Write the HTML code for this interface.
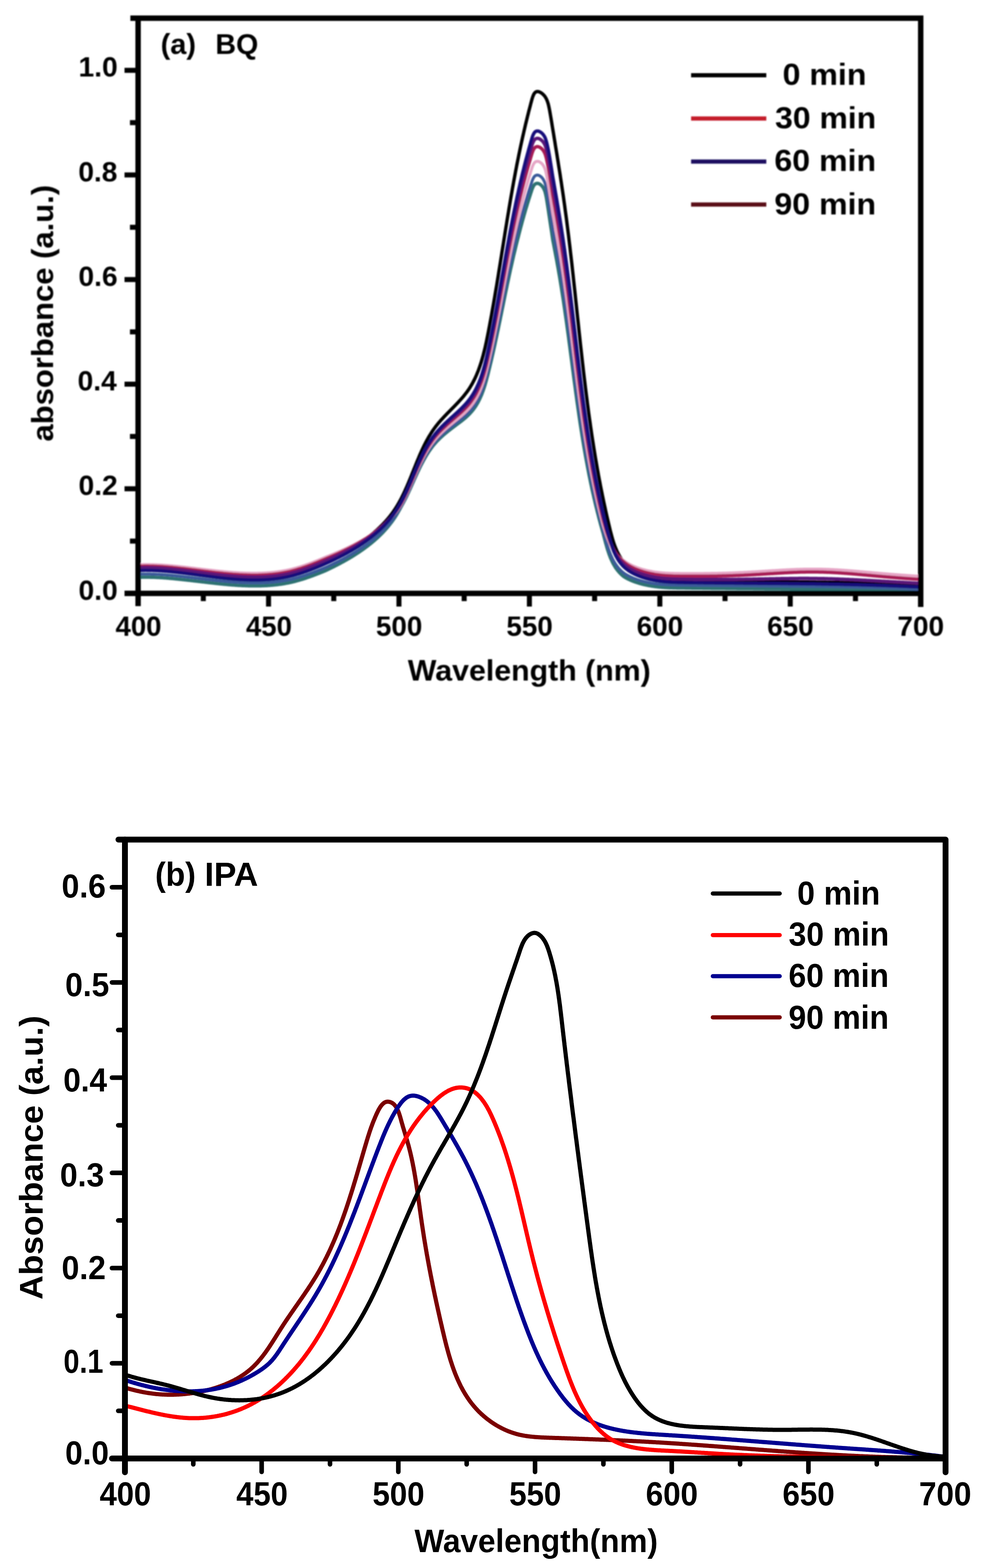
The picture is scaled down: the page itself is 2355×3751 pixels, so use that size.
<!DOCTYPE html>
<html><head><meta charset="utf-8"><title>Absorbance spectra</title>
<style>
html,body{margin:0;padding:0;background:#fff;}
svg{display:block;}
text{font-family:"Liberation Sans",Arial,sans-serif;}
</style></head><body>
<svg width="2355" height="3751" viewBox="0 0 2355 3751">
<defs><filter id="softA" x="-2%" y="-2%" width="104%" height="104%"><feGaussianBlur stdDeviation="1.6"/></filter></defs>
<rect width="2355" height="3751" fill="#fff"/>
<g filter="url(#softA)">
<g fill="none" stroke-linejoin="round" stroke-linecap="butt">
<polyline points="330.5,1363.3 332.1,1363.3 333.6,1363.2 335.2,1363.1 336.7,1363.1 338.3,1363.1 339.9,1363.0 341.4,1363.0 343.0,1363.0 344.5,1362.9 346.1,1362.9 347.7,1362.9 349.2,1362.9 350.8,1362.9 352.4,1362.9 353.9,1362.9 355.5,1362.9 357.0,1363.0 358.6,1363.0 360.2,1363.0 361.7,1363.0 363.3,1363.1 364.8,1363.1 366.4,1363.2 368.0,1363.2 369.5,1363.3 371.1,1363.3 372.6,1363.4 374.2,1363.5 375.8,1363.6 377.3,1363.6 378.9,1363.7 380.4,1363.8 382.0,1363.9 383.6,1364.0 385.1,1364.1 386.7,1364.2 388.3,1364.3 389.8,1364.4 391.4,1364.5 392.9,1364.6 394.5,1364.8 396.1,1364.9 397.6,1365.0 399.2,1365.1 400.7,1365.3 402.3,1365.4 403.9,1365.6 405.4,1365.7 407.0,1365.8 408.5,1366.0 410.1,1366.2 411.7,1366.3 413.2,1366.5 414.8,1366.6 416.3,1366.8 417.9,1367.0 419.5,1367.1 421.0,1367.3 422.6,1367.5 424.1,1367.7 425.7,1367.8 427.3,1368.0 428.8,1368.2 430.4,1368.4 432.0,1368.6 433.5,1368.8 435.1,1369.0 436.6,1369.1 438.2,1369.3 439.8,1369.5 441.3,1369.7 442.9,1369.9 444.4,1370.1 446.0,1370.3 447.6,1370.5 449.1,1370.8 450.7,1371.0 452.2,1371.2 453.8,1371.4 455.4,1371.6 456.9,1371.8 458.5,1372.0 460.0,1372.2 461.6,1372.4 463.2,1372.7 464.7,1372.9 466.3,1373.1 467.9,1373.3 469.4,1373.5 471.0,1373.7 472.5,1374.0 474.1,1374.2 475.7,1374.4 477.2,1374.6 478.8,1374.8 480.3,1375.0 481.9,1375.3 483.5,1375.5 485.0,1375.7 486.6,1375.9 488.1,1376.1 489.7,1376.4 491.3,1376.6 492.8,1376.8 494.4,1377.0 495.9,1377.2 497.5,1377.4 499.1,1377.6 500.6,1377.9 502.2,1378.1 503.8,1378.3 505.3,1378.5 506.9,1378.7 508.4,1378.9 510.0,1379.1 511.6,1379.3 513.1,1379.5 514.7,1379.7 516.2,1379.9 517.8,1380.1 519.4,1380.3 520.9,1380.5 522.5,1380.7 524.0,1380.9 525.6,1381.1 527.2,1381.3 528.7,1381.4 530.3,1381.6 531.8,1381.8 533.4,1382.0 535.0,1382.2 536.5,1382.3 538.1,1382.5 539.7,1382.7 541.2,1382.8 542.8,1383.0 544.3,1383.2 545.9,1383.3 547.5,1383.5 549.0,1383.6 550.6,1383.8 552.1,1383.9 553.7,1384.1 555.3,1384.2 556.8,1384.4 558.4,1384.5 559.9,1384.6 561.5,1384.8 563.1,1384.9 564.6,1385.0 566.2,1385.1 567.7,1385.2 569.3,1385.3 570.9,1385.4 572.4,1385.6 574.0,1385.6 575.6,1385.7 577.1,1385.8 578.7,1385.9 580.2,1386.0 581.8,1386.1 583.4,1386.2 584.9,1386.2 586.5,1386.3 588.0,1386.4 589.6,1386.4 591.2,1386.5 592.7,1386.5 594.3,1386.6 595.8,1386.6 597.4,1386.6 599.0,1386.7 600.5,1386.7 602.1,1386.7 603.6,1386.7 605.2,1386.8 606.8,1386.8 608.3,1386.8 609.9,1386.8 611.5,1386.7 613.0,1386.7 614.6,1386.7 616.1,1386.7 617.7,1386.7 619.3,1386.6 620.8,1386.6 622.4,1386.5 623.9,1386.5 625.5,1386.4 627.1,1386.3 628.6,1386.3 630.2,1386.2 631.7,1386.1 633.3,1386.0 634.9,1385.9 636.4,1385.8 638.0,1385.7 639.5,1385.6 641.1,1385.5 642.7,1385.3 644.2,1385.2 645.8,1385.0 647.3,1384.9 648.9,1384.7 650.5,1384.6 652.0,1384.4 653.6,1384.2 655.2,1384.0 656.7,1383.8 658.3,1383.6 659.8,1383.4 661.4,1383.2 663.0,1382.9 664.5,1382.7 666.1,1382.5 667.6,1382.2 669.2,1381.9 670.8,1381.7 672.3,1381.4 673.9,1381.1 675.4,1380.8 677.0,1380.5 678.6,1380.2 680.1,1379.8 681.7,1379.5 683.2,1379.2 684.8,1378.8 686.4,1378.5 687.9,1378.1 689.5,1377.7 691.1,1377.3 692.6,1376.9 694.2,1376.5 695.7,1376.1 697.3,1375.7 698.9,1375.3 700.4,1374.9 702.0,1374.4 703.5,1374.0 705.1,1373.5 706.7,1373.1 708.2,1372.6 709.8,1372.1 711.3,1371.6 712.9,1371.1 714.5,1370.6 716.0,1370.1 717.6,1369.6 719.1,1369.1 720.7,1368.6 722.3,1368.0 723.8,1367.5 725.4,1366.9 727.0,1366.4 728.5,1365.8 730.1,1365.2 731.6,1364.7 733.2,1364.1 734.8,1363.5 736.3,1362.9 737.9,1362.3 739.4,1361.7 741.0,1361.1 742.6,1360.5 744.1,1359.8 745.7,1359.2 747.2,1358.6 748.8,1357.9 750.4,1357.3 751.9,1356.6 753.5,1356.0 755.0,1355.3 756.6,1354.7 758.2,1354.0 759.7,1353.3 761.3,1352.6 762.9,1351.9 764.4,1351.3 766.0,1350.6 767.5,1349.9 769.1,1349.2 770.7,1348.5 772.2,1347.7 773.8,1347.0 775.3,1346.3 776.9,1345.6 778.5,1344.9 780.0,1344.1 781.6,1343.4 783.1,1342.7 784.7,1341.9 786.3,1341.2 787.8,1340.5 789.4,1339.7 790.9,1339.0 792.5,1338.2 794.1,1337.4 795.6,1336.7 797.2,1335.9 798.8,1335.1 800.3,1334.3 801.9,1333.6 803.4,1332.8 805.0,1332.0 806.6,1331.2 808.1,1330.4 809.7,1329.6 811.2,1328.8 812.8,1327.9 814.4,1327.1 815.9,1326.3 817.5,1325.5 819.0,1324.6 820.6,1323.8 822.2,1322.9 823.7,1322.1 825.3,1321.2 826.8,1320.3 828.4,1319.5 830.0,1318.6 831.5,1317.7 833.1,1316.8 834.6,1315.9 836.2,1315.0 837.8,1314.1 839.3,1313.1 840.9,1312.2 842.5,1311.3 844.0,1310.3 845.6,1309.4 847.1,1308.4 848.7,1307.4 850.3,1306.5 851.8,1305.5 853.4,1304.5 854.9,1303.5 856.5,1302.4 858.1,1301.4 859.6,1300.4 861.2,1299.4 862.7,1298.3 864.3,1297.2 865.9,1296.2 867.4,1295.1 869.0,1294.0 870.5,1292.9 872.1,1291.8 873.7,1290.6 875.2,1289.5 876.8,1288.4 878.4,1287.2 879.9,1286.0 881.5,1284.8 883.0,1283.6 884.6,1282.4 886.2,1281.2 887.7,1279.9 889.3,1278.7 890.8,1277.4 892.4,1276.1 894.0,1274.8 895.5,1273.5 897.1,1272.1 898.6,1270.8 900.2,1269.4 901.8,1268.0 903.3,1266.6 904.9,1265.2 906.4,1263.7 908.0,1262.2 909.6,1260.7 911.1,1259.2 912.7,1257.7 914.3,1256.1 915.8,1254.5 917.4,1252.9 918.9,1251.3 920.5,1249.6 922.1,1247.9 923.6,1246.2 925.2,1244.4 926.7,1242.6 928.3,1240.8 929.9,1238.9 931.4,1237.0 933.0,1235.1 934.5,1233.1 936.1,1231.0 937.7,1229.0 939.2,1226.8 940.8,1224.7 942.3,1222.4 943.9,1220.2 945.5,1217.8 947.0,1215.4 948.6,1212.9 950.2,1210.4 951.7,1207.8 953.3,1205.1 954.8,1202.4 956.4,1199.6 958.0,1196.7 959.5,1193.8 961.1,1190.8 962.6,1187.7 964.2,1184.5 965.8,1181.3 967.3,1178.0 968.9,1174.7 970.4,1171.2 972.0,1167.7 973.6,1164.2 975.1,1160.6 976.7,1156.9 978.2,1153.2 979.8,1149.4 981.4,1145.6 982.9,1141.8 984.5,1137.9 986.0,1134.0 987.6,1130.1 989.2,1126.2 990.7,1122.3 992.3,1118.4 993.9,1114.5 995.4,1110.7 997.0,1106.8 998.5,1103.0 1000.1,1099.2 1001.7,1095.5 1003.2,1091.9 1004.8,1088.2 1006.3,1084.7 1007.9,1081.2 1009.5,1077.7 1011.0,1074.4 1012.6,1071.1 1014.1,1067.8 1015.7,1064.7 1017.3,1061.6 1018.8,1058.5 1020.4,1055.6 1021.9,1052.7 1023.5,1049.9 1025.1,1047.1 1026.6,1044.4 1028.2,1041.8 1029.8,1039.3 1031.3,1036.8 1032.9,1034.3 1034.4,1032.0 1036.0,1029.6 1037.6,1027.4 1039.1,1025.2 1040.7,1023.1 1042.2,1021.0 1043.8,1018.9 1045.4,1016.9 1046.9,1015.0 1048.5,1013.1 1050.0,1011.2 1051.6,1009.4 1053.2,1007.6 1054.7,1005.8 1056.3,1004.1 1057.8,1002.4 1059.4,1000.7 1061.0,999.0 1062.5,997.3 1064.1,995.7 1065.7,994.0 1067.2,992.4 1068.8,990.8 1070.3,989.2 1071.9,987.6 1073.5,986.0 1075.0,984.4 1076.6,982.8 1078.1,981.3 1079.7,979.7 1081.3,978.1 1082.8,976.5 1084.4,975.0 1085.9,973.4 1087.5,971.8 1089.1,970.2 1090.6,968.6 1092.2,966.9 1093.7,965.3 1095.3,963.7 1096.9,962.0 1098.4,960.3 1100.0,958.6 1101.6,956.9 1103.1,955.2 1104.7,953.4 1106.2,951.6 1107.8,949.8 1109.4,948.0 1110.9,946.1 1112.5,944.1 1114.0,942.1 1115.6,940.1 1117.2,938.0 1118.7,935.9 1120.3,933.6 1121.8,931.4 1123.4,929.0 1125.0,926.5 1126.5,924.0 1128.1,921.4 1129.6,918.7 1131.2,915.9 1132.8,912.9 1134.3,909.9 1135.9,906.8 1137.5,903.5 1139.0,900.1 1140.6,896.5 1142.1,892.8 1143.7,888.9 1145.3,884.9 1146.8,880.6 1148.4,876.2 1149.9,871.5 1151.5,866.7 1153.1,861.5 1154.6,856.1 1156.2,850.5 1157.7,844.5 1159.3,838.2 1160.9,831.7 1162.4,824.8 1164.0,817.6 1165.5,810.1 1167.1,802.3 1168.7,794.4 1170.2,786.2 1171.8,778.0 1173.3,769.7 1174.9,761.2 1176.5,752.7 1178.0,744.0 1179.6,735.2 1181.2,726.3 1182.7,717.3 1184.3,708.2 1185.8,699.0 1187.4,689.7 1189.0,680.3 1190.5,670.8 1192.1,661.3 1193.6,651.6 1195.2,642.0 1196.8,632.2 1198.3,622.5 1199.9,612.7 1201.4,602.8 1203.0,593.0 1204.6,583.2 1206.1,573.4 1207.7,563.6 1209.2,553.8 1210.8,544.1 1212.4,534.4 1213.9,524.8 1215.5,515.3 1217.1,505.9 1218.6,496.5 1220.2,487.3 1221.7,478.1 1223.3,469.0 1224.9,460.1 1226.4,451.2 1228.0,442.5 1229.5,433.9 1231.1,425.4 1232.7,417.0 1234.2,408.8 1235.8,400.6 1237.3,392.6 1238.9,384.7 1240.5,376.9 1242.0,369.2 1243.6,361.7 1245.1,354.2 1246.7,346.9 1248.3,339.7 1249.8,332.6 1251.4,325.5 1253.0,318.6 1254.5,311.8 1256.1,305.1 1257.6,298.5 1259.2,292.0 1260.8,285.5 1262.3,279.2 1263.9,272.9 1265.4,266.8 1267.0,260.7 1268.6,254.7 1270.1,248.7 1271.7,242.9 1273.2,237.2 1274.8,232.1 1276.4,228.0 1277.9,224.8 1279.5,222.5 1281.0,220.9 1282.6,219.9 1284.2,219.2 1285.7,219.0 1287.3,219.0 1288.9,219.3 1290.4,219.7 1292.0,220.4 1293.5,221.2 1295.1,222.1 1296.7,223.2 1298.2,224.4 1299.8,225.8 1301.3,227.4 1302.9,229.1 1304.5,231.2 1306.0,233.7 1307.6,236.5 1309.1,240.0 1310.7,244.2 1312.3,249.5 1313.8,256.1 1315.4,264.0 1316.9,272.6 1318.5,281.9 1320.1,291.4 1321.6,301.0 1323.2,310.6 1324.8,320.1 1326.3,329.7 1327.9,339.2 1329.4,348.8 1331.0,358.4 1332.6,368.0 1334.1,377.7 1335.7,387.5 1337.2,397.3 1338.8,407.2 1340.4,417.2 1341.9,427.3 1343.5,437.6 1345.0,448.0 1346.6,458.5 1348.2,469.3 1349.7,480.2 1351.3,491.4 1352.8,502.9 1354.4,514.5 1356.0,526.4 1357.5,538.6 1359.1,551.0 1360.7,563.6 1362.2,576.5 1363.8,589.6 1365.3,603.0 1366.9,616.5 1368.5,630.3 1370.0,644.3 1371.6,658.4 1373.1,672.7 1374.7,687.2 1376.3,701.8 1377.8,716.4 1379.4,731.1 1380.9,745.8 1382.5,760.6 1384.1,775.3 1385.6,789.9 1387.2,804.4 1388.7,818.9 1390.3,833.2 1391.9,847.3 1393.4,861.2 1395.0,875.0 1396.5,888.5 1398.1,901.9 1399.7,914.9 1401.2,927.8 1402.8,940.4 1404.4,952.8 1405.9,964.9 1407.5,976.7 1409.0,988.4 1410.6,999.8 1412.2,1010.9 1413.7,1021.8 1415.3,1032.5 1416.8,1043.0 1418.4,1053.3 1420.0,1063.3 1421.5,1073.2 1423.1,1082.8 1424.6,1092.3 1426.2,1101.6 1427.8,1110.7 1429.3,1119.6 1430.9,1128.3 1432.4,1136.9 1434.0,1145.4 1435.6,1153.6 1437.1,1161.8 1438.7,1169.8 1440.3,1177.6 1441.8,1185.3 1443.4,1192.9 1444.9,1200.4 1446.5,1207.7 1448.1,1214.9 1449.6,1222.1 1451.2,1229.1 1452.7,1235.9 1454.3,1242.7 1455.9,1249.4 1457.4,1256.0 1459.0,1262.5 1460.5,1268.9 1462.1,1275.1 1463.7,1281.1 1465.2,1286.7 1466.8,1292.1 1468.3,1297.1 1469.9,1301.7 1471.5,1306.1 1473.0,1310.1 1474.6,1313.9 1476.2,1317.5 1477.7,1320.8 1479.3,1323.9 1480.8,1326.8 1482.4,1329.6 1484.0,1332.1 1485.5,1334.6 1487.1,1336.9 1488.6,1339.1 1490.2,1341.1 1491.8,1343.1 1493.3,1344.9 1494.9,1346.7 1496.4,1348.4 1498.0,1350.0 1499.6,1351.5 1501.1,1352.9 1502.7,1354.3 1504.2,1355.6 1505.8,1356.9 1507.4,1358.1 1508.9,1359.3 1510.5,1360.4 1512.1,1361.4 1513.6,1362.4 1515.2,1363.4 1516.7,1364.4 1518.3,1365.3 1519.9,1366.2 1521.4,1367.0 1523.0,1367.9 1524.5,1368.7 1526.1,1369.5 1527.7,1370.2 1529.2,1370.9 1530.8,1371.6 1532.3,1372.3 1533.9,1373.0 1535.5,1373.7 1537.0,1374.3 1538.6,1374.9 1540.1,1375.5 1541.7,1376.1 1543.3,1376.6 1544.8,1377.2 1546.4,1377.7 1548.0,1378.2 1549.5,1378.7 1551.1,1379.2 1552.6,1379.7 1554.2,1380.1 1555.8,1380.6 1557.3,1381.0 1558.9,1381.4 1560.4,1381.8 1562.0,1382.2 1563.6,1382.6 1565.1,1382.9 1566.7,1383.3 1568.2,1383.6 1569.8,1383.9 1571.4,1384.2 1572.9,1384.6 1574.5,1384.8 1576.0,1385.1 1577.6,1385.4 1579.2,1385.6 1580.7,1385.9 1582.3,1386.1 1583.8,1386.4 1585.4,1386.6 1587.0,1386.8 1588.5,1387.0 1590.1,1387.2 1591.7,1387.3 1593.2,1387.5 1594.8,1387.7 1596.3,1387.8 1597.9,1388.0 1599.5,1388.1 1601.0,1388.2 1602.6,1388.3 1604.1,1388.5 1605.7,1388.6 1607.3,1388.7 1608.8,1388.8 1610.4,1388.8 1611.9,1388.9 1613.5,1389.0 1615.1,1389.1 1616.6,1389.1 1618.2,1389.2 1619.7,1389.3 1621.3,1389.3 1622.9,1389.4 1624.4,1389.4 1626.0,1389.4 1627.6,1389.5 1629.1,1389.5 1630.7,1389.5 1632.2,1389.6 1633.8,1389.6 1635.4,1389.6 1636.9,1389.7 1638.5,1389.7 1640.0,1389.7 1641.6,1389.7 1643.2,1389.7 1644.7,1389.8 1646.3,1389.8 1647.8,1389.8 1649.4,1389.8 1651.0,1389.9 1652.5,1389.9 1654.1,1389.9 1655.6,1389.9 1657.2,1389.9 1658.8,1390.0 1660.3,1390.0 1661.9,1390.0 1663.5,1390.0 1665.0,1390.0 1666.6,1390.1 1668.1,1390.1 1669.7,1390.1 1671.3,1390.1 1672.8,1390.1 1674.4,1390.1 1675.9,1390.2 1677.5,1390.2 1679.1,1390.2 1680.6,1390.2 1682.2,1390.2 1683.7,1390.3 1685.3,1390.3 1686.9,1390.3 1688.4,1390.3 1690.0,1390.3 1691.5,1390.3 1693.1,1390.3 1694.7,1390.4 1696.2,1390.4 1697.8,1390.4 1699.4,1390.4 1700.9,1390.4 1702.5,1390.4 1704.0,1390.5 1705.6,1390.5 1707.2,1390.5 1708.7,1390.5 1710.3,1390.5 1711.8,1390.5 1713.4,1390.5 1715.0,1390.6 1716.5,1390.6 1718.1,1390.6 1719.6,1390.6 1721.2,1390.6 1722.8,1390.6 1724.3,1390.6 1725.9,1390.6 1727.4,1390.7 1729.0,1390.7 1730.6,1390.7 1732.1,1390.7 1733.7,1390.7 1735.2,1390.7 1736.8,1390.7 1738.4,1390.7 1739.9,1390.8 1741.5,1390.8 1743.1,1390.8 1744.6,1390.8 1746.2,1390.8 1747.7,1390.8 1749.3,1390.8 1750.9,1390.8 1752.4,1390.8 1754.0,1390.9 1755.5,1390.9 1757.1,1390.9 1758.7,1390.9 1760.2,1390.9 1761.8,1390.9 1763.3,1390.9 1764.9,1390.9 1766.5,1390.9 1768.0,1390.9 1769.6,1391.0 1771.1,1391.0 1772.7,1391.0 1774.3,1391.0 1775.8,1391.0 1777.4,1391.0 1779.0,1391.0 1780.5,1391.0 1782.1,1391.0 1783.6,1391.0 1785.2,1391.1 1786.8,1391.1 1788.3,1391.1 1789.9,1391.1 1791.4,1391.1 1793.0,1391.1 1794.6,1391.1 1796.1,1391.1 1797.7,1391.1 1799.2,1391.1 1800.8,1391.1 1802.4,1391.2 1803.9,1391.2 1805.5,1391.2 1807.0,1391.2 1808.6,1391.2 1810.2,1391.2 1811.7,1391.2 1813.3,1391.2 1814.9,1391.2 1816.4,1391.2 1818.0,1391.3 1819.5,1391.3 1821.1,1391.3 1822.7,1391.3 1824.2,1391.3 1825.8,1391.3 1827.3,1391.3 1828.9,1391.3 1830.5,1391.3 1832.0,1391.3 1833.6,1391.3 1835.1,1391.4 1836.7,1391.4 1838.3,1391.4 1839.8,1391.4 1841.4,1391.4 1842.9,1391.4 1844.5,1391.4 1846.1,1391.4 1847.6,1391.4 1849.2,1391.4 1850.8,1391.5 1852.3,1391.5 1853.9,1391.5 1855.4,1391.5 1857.0,1391.5 1858.6,1391.5 1860.1,1391.5 1861.7,1391.5 1863.2,1391.5 1864.8,1391.6 1866.4,1391.6 1867.9,1391.6 1869.5,1391.6 1871.0,1391.6 1872.6,1391.6 1874.2,1391.6 1875.7,1391.6 1877.3,1391.6 1878.8,1391.7 1880.4,1391.7 1882.0,1391.7 1883.5,1391.7 1885.1,1391.7 1886.7,1391.7 1888.2,1391.7 1889.8,1391.7 1891.3,1391.7 1892.9,1391.8 1894.5,1391.8 1896.0,1391.8 1897.6,1391.8 1899.1,1391.8 1900.7,1391.8 1902.3,1391.8 1903.8,1391.8 1905.4,1391.9 1906.9,1391.9 1908.5,1391.9 1910.1,1391.9 1911.6,1391.9 1913.2,1391.9 1914.7,1391.9 1916.3,1392.0 1917.9,1392.0 1919.4,1392.0 1921.0,1392.0 1922.5,1392.0 1924.1,1392.0 1925.7,1392.0 1927.2,1392.1 1928.8,1392.1 1930.4,1392.1 1931.9,1392.1 1933.5,1392.1 1935.0,1392.1 1936.6,1392.2 1938.2,1392.2 1939.7,1392.2 1941.3,1392.2 1942.8,1392.2 1944.4,1392.2 1946.0,1392.3 1947.5,1392.3 1949.1,1392.3 1950.6,1392.3 1952.2,1392.3 1953.8,1392.4 1955.3,1392.4 1956.9,1392.4 1958.4,1392.4 1960.0,1392.4 1961.6,1392.4 1963.1,1392.5 1964.7,1392.5 1966.3,1392.5 1967.8,1392.5 1969.4,1392.6 1970.9,1392.6 1972.5,1392.6 1974.1,1392.6 1975.6,1392.6 1977.2,1392.7 1978.7,1392.7 1980.3,1392.7 1981.9,1392.7 1983.4,1392.7 1985.0,1392.8 1986.5,1392.8 1988.1,1392.8 1989.7,1392.8 1991.2,1392.9 1992.8,1392.9 1994.3,1392.9 1995.9,1392.9 1997.5,1393.0 1999.0,1393.0 2000.6,1393.0 2002.2,1393.0 2003.7,1393.1 2005.3,1393.1 2006.8,1393.1 2008.4,1393.1 2010.0,1393.2 2011.5,1393.2 2013.1,1393.2 2014.6,1393.3 2016.2,1393.3 2017.8,1393.3 2019.3,1393.3 2020.9,1393.4 2022.4,1393.4 2024.0,1393.4 2025.6,1393.5 2027.1,1393.5 2028.7,1393.5 2030.2,1393.5 2031.8,1393.6 2033.4,1393.6 2034.9,1393.6 2036.5,1393.7 2038.1,1393.7 2039.6,1393.7 2041.2,1393.8 2042.7,1393.8 2044.3,1393.8 2045.9,1393.9 2047.4,1393.9 2049.0,1393.9 2050.5,1394.0 2052.1,1394.0 2053.7,1394.0 2055.2,1394.1 2056.8,1394.1 2058.3,1394.2 2059.9,1394.2 2061.5,1394.2 2063.0,1394.3 2064.6,1394.3 2066.1,1394.3 2067.7,1394.4 2069.3,1394.4 2070.8,1394.5 2072.4,1394.5 2074.0,1394.5 2075.5,1394.6 2077.1,1394.6 2078.6,1394.7 2080.2,1394.7 2081.8,1394.8 2083.3,1394.8 2084.9,1394.8 2086.4,1394.9 2088.0,1394.9 2089.6,1395.0 2091.1,1395.0 2092.7,1395.1 2094.2,1395.1 2095.8,1395.1 2097.4,1395.2 2098.9,1395.2 2100.5,1395.3 2102.0,1395.3 2103.6,1395.4 2105.2,1395.4 2106.7,1395.5 2108.3,1395.5 2109.8,1395.6 2111.4,1395.6 2113.0,1395.7 2114.5,1395.7 2116.1,1395.8 2117.7,1395.8 2119.2,1395.9 2120.8,1395.9 2122.3,1396.0 2123.9,1396.0 2125.5,1396.1 2127.0,1396.2 2128.6,1396.2 2130.1,1396.3 2131.7,1396.3 2133.3,1396.4 2134.8,1396.4 2136.4,1396.5 2137.9,1396.5 2139.5,1396.6 2141.1,1396.7 2142.6,1396.7 2144.2,1396.8 2145.7,1396.8 2147.3,1396.9 2148.9,1397.0 2150.4,1397.0 2152.0,1397.1 2153.6,1397.1 2155.1,1397.2 2156.7,1397.3 2158.2,1397.3 2159.8,1397.4 2161.4,1397.5 2162.9,1397.5 2164.5,1397.6 2166.0,1397.7 2167.6,1397.7 2169.2,1397.8 2170.7,1397.9 2172.3,1397.9 2173.8,1398.0 2175.4,1398.1 2177.0,1398.1 2178.5,1398.2 2180.1,1398.3 2181.6,1398.4 2183.2,1398.4 2184.8,1398.5 2186.3,1398.6 2187.9,1398.6 2189.5,1398.7 2191.0,1398.8 2192.6,1398.9 2194.1,1398.9 2195.7,1399.0 2197.3,1399.1 2198.8,1399.2 2200.4,1399.3 2201.9,1399.3 2203.5,1399.4" stroke="#000000" stroke-width="8"/>
<polyline points="330.5,1381.1 332.1,1381.0 333.6,1381.0 335.2,1380.9 336.7,1380.9 338.3,1380.9 339.9,1380.8 341.4,1380.8 343.0,1380.8 344.5,1380.8 346.1,1380.8 347.7,1380.8 349.2,1380.8 350.8,1380.8 352.4,1380.8 353.9,1380.8 355.5,1380.8 357.0,1380.8 358.6,1380.8 360.2,1380.9 361.7,1380.9 363.3,1380.9 364.8,1381.0 366.4,1381.0 368.0,1381.1 369.5,1381.1 371.1,1381.2 372.6,1381.3 374.2,1381.3 375.8,1381.4 377.3,1381.5 378.9,1381.5 380.4,1381.6 382.0,1381.7 383.6,1381.8 385.1,1381.9 386.7,1382.0 388.3,1382.1 389.8,1382.2 391.4,1382.3 392.9,1382.4 394.5,1382.5 396.1,1382.6 397.6,1382.7 399.2,1382.9 400.7,1383.0 402.3,1383.1 403.9,1383.3 405.4,1383.4 407.0,1383.5 408.5,1383.7 410.1,1383.8 411.7,1383.9 413.2,1384.1 414.8,1384.2 416.3,1384.4 417.9,1384.5 419.5,1384.7 421.0,1384.9 422.6,1385.0 424.1,1385.2 425.7,1385.3 427.3,1385.5 428.8,1385.7 430.4,1385.8 432.0,1386.0 433.5,1386.2 435.1,1386.3 436.6,1386.5 438.2,1386.7 439.8,1386.8 441.3,1387.0 442.9,1387.2 444.4,1387.3 446.0,1387.5 447.6,1387.7 449.1,1387.9 450.7,1388.0 452.2,1388.2 453.8,1388.4 455.4,1388.6 456.9,1388.8 458.5,1388.9 460.0,1389.1 461.6,1389.3 463.2,1389.5 464.7,1389.7 466.3,1389.8 467.9,1390.0 469.4,1390.2 471.0,1390.4 472.5,1390.6 474.1,1390.8 475.7,1390.9 477.2,1391.1 478.8,1391.3 480.3,1391.5 481.9,1391.7 483.5,1391.9 485.0,1392.0 486.6,1392.2 488.1,1392.4 489.7,1392.6 491.3,1392.8 492.8,1393.0 494.4,1393.1 495.9,1393.3 497.5,1393.5 499.1,1393.7 500.6,1393.9 502.2,1394.0 503.8,1394.2 505.3,1394.4 506.9,1394.6 508.4,1394.7 510.0,1394.9 511.6,1395.1 513.1,1395.3 514.7,1395.4 516.2,1395.6 517.8,1395.8 519.4,1395.9 520.9,1396.1 522.5,1396.3 524.0,1396.4 525.6,1396.6 527.2,1396.8 528.7,1396.9 530.3,1397.1 531.8,1397.2 533.4,1397.4 535.0,1397.5 536.5,1397.7 538.1,1397.8 539.7,1398.0 541.2,1398.1 542.8,1398.2 544.3,1398.4 545.9,1398.5 547.5,1398.7 549.0,1398.8 550.6,1398.9 552.1,1399.0 553.7,1399.2 555.3,1399.3 556.8,1399.4 558.4,1399.5 559.9,1399.6 561.5,1399.7 563.1,1399.9 564.6,1400.0 566.2,1400.1 567.7,1400.2 569.3,1400.3 570.9,1400.4 572.4,1400.4 574.0,1400.5 575.6,1400.6 577.1,1400.7 578.7,1400.8 580.2,1400.9 581.8,1400.9 583.4,1401.0 584.9,1401.1 586.5,1401.1 588.0,1401.2 589.6,1401.2 591.2,1401.3 592.7,1401.3 594.3,1401.4 595.8,1401.4 597.4,1401.5 599.0,1401.5 600.5,1401.5 602.1,1401.5 603.6,1401.6 605.2,1401.6 606.8,1401.6 608.3,1401.6 609.9,1401.6 611.5,1401.6 613.0,1401.6 614.6,1401.6 616.1,1401.6 617.7,1401.5 619.3,1401.5 620.8,1401.5 622.4,1401.5 623.9,1401.4 625.5,1401.4 627.1,1401.3 628.6,1401.3 630.2,1401.2 631.7,1401.2 633.3,1401.1 634.9,1401.0 636.4,1401.0 638.0,1400.9 639.5,1400.8 641.1,1400.7 642.7,1400.6 644.2,1400.5 645.8,1400.4 647.3,1400.2 648.9,1400.1 650.5,1400.0 652.0,1399.8 653.6,1399.7 655.2,1399.6 656.7,1399.4 658.3,1399.2 659.8,1399.1 661.4,1398.9 663.0,1398.7 664.5,1398.5 666.1,1398.3 667.6,1398.1 669.2,1397.9 670.8,1397.7 672.3,1397.5 673.9,1397.2 675.4,1397.0 677.0,1396.7 678.6,1396.5 680.1,1396.2 681.7,1396.0 683.2,1395.7 684.8,1395.4 686.4,1395.1 687.9,1394.8 689.5,1394.5 691.1,1394.2 692.6,1393.9 694.2,1393.6 695.7,1393.3 697.3,1392.9 698.9,1392.6 700.4,1392.2 702.0,1391.8 703.5,1391.4 705.1,1391.0 706.7,1390.6 708.2,1390.2 709.8,1389.7 711.3,1389.3 712.9,1388.8 714.5,1388.4 716.0,1387.9 717.6,1387.5 719.1,1387.0 720.7,1386.5 722.3,1386.1 723.8,1385.6 725.4,1385.1 727.0,1384.6 728.5,1384.1 730.1,1383.6 731.6,1383.1 733.2,1382.6 734.8,1382.0 736.3,1381.5 737.9,1381.0 739.4,1380.4 741.0,1379.9 742.6,1379.3 744.1,1378.8 745.7,1378.2 747.2,1377.6 748.8,1377.1 750.4,1376.5 751.9,1375.9 753.5,1375.3 755.0,1374.7 756.6,1374.1 758.2,1373.5 759.7,1372.9 761.3,1372.3 762.9,1371.7 764.4,1371.1 766.0,1370.5 767.5,1369.8 769.1,1369.2 770.7,1368.6 772.2,1368.0 773.8,1367.3 775.3,1366.7 776.9,1366.0 778.5,1365.4 780.0,1364.7 781.6,1364.0 783.1,1363.2 784.7,1362.5 786.3,1361.7 787.8,1361.0 789.4,1360.2 790.9,1359.5 792.5,1358.7 794.1,1357.9 795.6,1357.2 797.2,1356.4 798.8,1355.6 800.3,1354.8 801.9,1354.0 803.4,1353.2 805.0,1352.4 806.6,1351.6 808.1,1350.8 809.7,1350.0 811.2,1349.2 812.8,1348.4 814.4,1347.5 815.9,1346.7 817.5,1345.8 819.0,1345.0 820.6,1344.1 822.2,1343.3 823.7,1342.4 825.3,1341.5 826.8,1340.7 828.4,1339.8 830.0,1338.9 831.5,1338.0 833.1,1337.1 834.6,1336.2 836.2,1335.3 837.8,1334.3 839.3,1333.4 840.9,1332.5 842.5,1331.5 844.0,1330.6 845.6,1329.6 847.1,1328.6 848.7,1327.7 850.3,1326.7 851.8,1325.7 853.4,1324.7 854.9,1323.7 856.5,1322.6 858.1,1321.6 859.6,1320.6 861.2,1319.5 862.7,1318.4 864.3,1317.4 865.9,1316.3 867.4,1315.2 869.0,1314.1 870.5,1313.0 872.1,1311.9 873.7,1310.7 875.2,1309.6 876.8,1308.4 878.4,1307.2 879.9,1306.1 881.5,1304.9 883.0,1303.6 884.6,1302.4 886.2,1301.2 887.7,1299.9 889.3,1298.6 890.8,1297.4 892.4,1296.1 894.0,1294.7 895.5,1293.4 897.1,1292.1 898.6,1290.7 900.2,1289.3 901.8,1287.9 903.3,1286.5 904.9,1285.0 906.4,1283.6 908.0,1282.1 909.6,1280.6 911.1,1279.0 912.7,1277.5 914.3,1275.9 915.8,1274.3 917.4,1272.7 918.9,1271.0 920.5,1269.3 922.1,1267.6 923.6,1265.8 925.2,1264.1 926.7,1262.3 928.3,1260.4 929.9,1258.5 931.4,1256.6 933.0,1254.6 934.5,1252.6 936.1,1250.6 937.7,1248.5 939.2,1246.4 940.8,1244.2 942.3,1241.9 943.9,1239.6 945.5,1237.2 947.0,1234.8 948.6,1232.3 950.2,1229.8 951.7,1227.1 953.3,1224.5 954.8,1221.7 956.4,1218.9 958.0,1216.0 959.5,1213.1 961.1,1210.4 962.6,1207.6 964.2,1204.8 965.8,1201.9 967.3,1199.0 968.9,1196.0 970.4,1192.9 972.0,1189.8 973.6,1186.6 975.1,1183.4 976.7,1180.1 978.2,1176.8 979.8,1173.4 981.4,1170.0 982.9,1166.6 984.5,1163.1 986.0,1159.7 987.6,1156.2 989.2,1152.7 990.7,1149.2 992.3,1145.7 993.9,1142.2 995.4,1138.8 997.0,1135.4 998.5,1132.0 1000.1,1128.6 1001.7,1125.3 1003.2,1122.0 1004.8,1118.8 1006.3,1115.6 1007.9,1112.5 1009.5,1109.5 1011.0,1106.5 1012.6,1103.5 1014.1,1100.7 1015.7,1097.9 1017.3,1095.1 1018.8,1092.5 1020.4,1089.8 1021.9,1087.3 1023.5,1084.8 1025.1,1082.4 1026.6,1080.0 1028.2,1077.7 1029.8,1075.5 1031.3,1073.3 1032.9,1071.2 1034.4,1069.1 1036.0,1067.1 1037.6,1065.1 1039.1,1063.2 1040.7,1061.4 1042.2,1059.6 1043.8,1057.8 1045.4,1056.1 1046.9,1054.5 1048.5,1052.9 1050.0,1051.3 1051.6,1049.8 1053.2,1048.2 1054.7,1046.8 1056.3,1045.3 1057.8,1043.9 1059.4,1042.5 1061.0,1041.1 1062.5,1039.7 1064.1,1038.4 1065.7,1037.1 1067.2,1035.8 1068.8,1034.5 1070.3,1033.2 1071.9,1032.0 1073.5,1030.7 1075.0,1029.5 1076.6,1028.3 1078.1,1027.1 1079.7,1025.9 1081.3,1024.7 1082.8,1023.5 1084.4,1022.3 1085.9,1021.1 1087.5,1019.9 1089.1,1018.8 1090.6,1017.6 1092.2,1016.4 1093.7,1015.3 1095.3,1014.1 1096.9,1012.9 1098.4,1011.8 1100.0,1010.6 1101.6,1009.4 1103.1,1008.2 1104.7,1007.0 1106.2,1005.8 1107.8,1004.5 1109.4,1003.3 1110.9,1002.0 1112.5,1000.7 1114.0,999.4 1115.6,998.0 1117.2,996.6 1118.7,995.2 1120.3,993.7 1121.8,992.1 1123.4,990.6 1125.0,988.9 1126.5,987.2 1128.1,985.4 1129.6,983.6 1131.2,981.7 1132.8,979.7 1134.3,977.6 1135.9,975.4 1137.5,973.2 1139.0,970.8 1140.6,968.3 1142.1,965.7 1143.7,962.9 1145.3,960.1 1146.8,957.0 1148.4,953.8 1149.9,950.4 1151.5,946.9 1153.1,943.1 1154.6,939.1 1156.2,934.9 1157.7,930.4 1159.3,925.7 1160.9,920.7 1162.4,915.4 1164.0,909.8 1165.5,904.1 1167.1,898.1 1168.7,891.9 1170.2,885.6 1171.8,879.2 1173.3,872.8 1174.9,866.2 1176.5,859.6 1178.0,852.8 1179.6,846.0 1181.2,839.1 1182.7,832.1 1184.3,825.0 1185.8,817.8 1187.4,810.5 1189.0,803.2 1190.5,795.8 1192.1,788.4 1193.6,780.9 1195.2,773.3 1196.8,765.7 1198.3,758.1 1199.9,750.4 1201.4,742.7 1203.0,735.1 1204.6,727.4 1206.1,719.7 1207.7,712.0 1209.2,704.4 1210.8,696.8 1212.4,689.3 1213.9,681.8 1215.5,674.4 1217.1,667.0 1218.6,659.7 1220.2,652.5 1221.7,645.3 1223.3,638.3 1224.9,631.3 1226.4,624.4 1228.0,617.6 1229.5,610.9 1231.1,604.3 1232.7,597.7 1234.2,591.3 1235.8,584.9 1237.3,578.7 1238.9,572.5 1240.5,566.4 1242.0,560.4 1243.6,554.3 1245.1,548.2 1246.7,542.3 1248.3,536.4 1249.8,530.6 1251.4,525.0 1253.0,519.3 1254.5,513.8 1256.1,508.4 1257.6,503.0 1259.2,497.7 1260.8,492.5 1262.3,487.4 1263.9,482.3 1265.4,477.3 1267.0,472.4 1268.6,467.5 1270.1,462.7 1271.7,457.9 1273.2,453.3 1274.8,449.2 1276.4,445.8 1277.9,443.3 1279.5,441.4 1281.0,440.1 1282.6,439.3 1284.2,438.8 1285.7,438.6 1287.3,438.7 1288.9,439.1 1290.4,439.7 1292.0,440.6 1293.5,441.7 1295.1,443.0 1296.7,444.6 1298.2,446.4 1299.8,448.6 1301.3,451.3 1302.9,454.7 1304.5,459.1 1306.0,465.2 1307.6,473.0 1309.1,482.2 1310.7,492.3 1312.3,502.7 1313.8,513.0 1315.4,523.3 1316.9,533.7 1318.5,544.1 1320.1,554.5 1321.6,564.9 1323.2,575.5 1324.8,583.5 1326.3,591.5 1327.9,599.6 1329.4,607.8 1331.0,616.2 1332.6,624.6 1334.1,633.2 1335.7,641.9 1337.2,650.8 1338.8,659.9 1340.4,669.2 1341.9,678.7 1343.5,688.3 1345.0,698.2 1346.6,708.3 1348.2,718.5 1349.7,729.0 1351.3,739.6 1352.8,750.5 1354.4,761.5 1356.0,772.7 1357.5,784.0 1359.1,795.5 1360.7,807.1 1362.2,818.9 1363.8,830.7 1365.3,842.6 1366.9,854.5 1368.5,866.5 1370.0,878.4 1371.6,890.4 1373.1,902.2 1374.7,914.1 1376.3,925.8 1377.8,937.4 1379.4,948.9 1380.9,960.2 1382.5,971.3 1384.1,982.3 1385.6,993.2 1387.2,1003.8 1388.7,1014.2 1390.3,1024.4 1391.9,1034.5 1393.4,1044.3 1395.0,1054.0 1396.5,1063.4 1398.1,1072.7 1399.7,1081.7 1401.2,1090.6 1402.8,1099.3 1404.4,1107.8 1405.9,1116.1 1407.5,1124.3 1409.0,1132.3 1410.6,1140.1 1412.2,1147.8 1413.7,1155.3 1415.3,1162.7 1416.8,1170.0 1418.4,1177.1 1420.0,1184.1 1421.5,1190.9 1423.1,1197.6 1424.6,1204.2 1426.2,1210.7 1427.8,1217.1 1429.3,1223.4 1430.9,1229.5 1432.4,1235.6 1434.0,1241.6 1435.6,1247.4 1437.1,1253.2 1438.7,1258.9 1440.3,1264.5 1441.8,1270.0 1443.4,1275.4 1444.9,1281.5 1446.5,1287.6 1448.1,1293.6 1449.6,1299.4 1451.2,1305.0 1452.7,1310.4 1454.3,1315.5 1455.9,1320.3 1457.4,1324.8 1459.0,1329.1 1460.5,1333.1 1462.1,1336.9 1463.7,1340.4 1465.2,1343.7 1466.8,1346.9 1468.3,1349.8 1469.9,1352.5 1471.5,1355.1 1473.0,1357.6 1474.6,1359.9 1476.2,1362.0 1477.7,1364.1 1479.3,1366.0 1480.8,1367.8 1482.4,1369.6 1484.0,1371.2 1485.5,1372.8 1487.1,1374.3 1488.6,1375.7 1490.2,1377.1 1491.8,1378.4 1493.3,1379.6 1494.9,1380.5 1496.4,1381.5 1498.0,1382.4 1499.6,1383.2 1501.1,1384.1 1502.7,1384.9 1504.2,1385.7 1505.8,1386.4 1507.4,1387.1 1508.9,1387.8 1510.5,1388.5 1512.1,1389.2 1513.6,1389.8 1515.2,1390.4 1516.7,1391.0 1518.3,1391.6 1519.9,1392.1 1521.4,1392.7 1523.0,1393.2 1524.5,1393.7 1526.1,1394.2 1527.7,1394.7 1529.2,1395.2 1530.8,1395.6 1532.3,1396.1 1533.9,1396.5 1535.5,1396.9 1537.0,1397.4 1538.6,1397.8 1540.1,1398.1 1541.7,1398.5 1543.3,1398.9 1544.8,1399.2 1546.4,1399.6 1548.0,1399.9 1549.5,1400.2 1551.1,1400.5 1552.6,1400.8 1554.2,1401.1 1555.8,1401.4 1557.3,1401.6 1558.9,1401.9 1560.4,1402.2 1562.0,1402.4 1563.6,1402.6 1565.1,1402.8 1566.7,1403.1 1568.2,1403.3 1569.8,1403.5 1571.4,1403.6 1572.9,1403.8 1574.5,1404.0 1576.0,1404.2 1577.6,1404.3 1579.2,1404.5 1580.7,1404.6 1582.3,1404.7 1583.8,1404.9 1585.4,1405.0 1587.0,1405.1 1588.5,1405.2 1590.1,1405.3 1591.7,1405.4 1593.2,1405.5 1594.8,1405.6 1596.3,1405.7 1597.9,1405.7 1599.5,1405.8 1601.0,1405.9 1602.6,1405.9 1604.1,1406.0 1605.7,1406.0 1607.3,1406.1 1608.8,1406.1 1610.4,1406.2 1611.9,1406.2 1613.5,1406.2 1615.1,1406.3 1616.6,1406.3 1618.2,1406.3 1619.7,1406.4 1621.3,1406.4 1622.9,1406.4 1624.4,1406.4 1626.0,1406.5 1627.6,1406.5 1629.1,1406.5 1630.7,1406.5 1632.2,1406.6 1633.8,1406.6 1635.4,1406.6 1636.9,1406.6 1638.5,1406.6 1640.0,1406.7 1641.6,1406.7 1643.2,1406.7 1644.7,1406.7 1646.3,1406.7 1647.8,1406.8 1649.4,1406.8 1651.0,1406.8 1652.5,1406.8 1654.1,1406.8 1655.6,1406.9 1657.2,1406.9 1658.8,1406.9 1660.3,1406.9 1661.9,1406.9 1663.5,1407.0 1665.0,1407.0 1666.6,1407.0 1668.1,1407.0 1669.7,1407.0 1671.3,1407.0 1672.8,1407.1 1674.4,1407.1 1675.9,1407.1 1677.5,1407.1 1679.1,1407.1 1680.6,1407.1 1682.2,1407.2 1683.7,1407.2 1685.3,1407.2 1686.9,1407.2 1688.4,1407.2 1690.0,1407.2 1691.5,1407.3 1693.1,1407.3 1694.7,1407.3 1696.2,1407.3 1697.8,1407.3 1699.4,1407.3 1700.9,1407.3 1702.5,1407.4 1704.0,1407.4 1705.6,1407.4 1707.2,1407.4 1708.7,1407.4 1710.3,1407.4 1711.8,1407.4 1713.4,1407.5 1715.0,1407.5 1716.5,1407.5 1718.1,1407.5 1719.6,1407.5 1721.2,1407.5 1722.8,1407.5 1724.3,1407.6 1725.9,1407.6 1727.4,1407.6 1729.0,1407.6 1730.6,1407.6 1732.1,1407.6 1733.7,1407.6 1735.2,1407.6 1736.8,1407.7 1738.4,1407.7 1739.9,1407.7 1741.5,1407.7 1743.1,1407.7 1744.6,1407.7 1746.2,1407.7 1747.7,1407.7 1749.3,1407.8 1750.9,1407.8 1752.4,1407.8 1754.0,1407.8 1755.5,1407.8 1757.1,1407.8 1758.7,1407.8 1760.2,1407.8 1761.8,1407.8 1763.3,1407.9 1764.9,1407.9 1766.5,1407.9 1768.0,1407.9 1769.6,1407.9 1771.1,1407.9 1772.7,1407.9 1774.3,1407.9 1775.8,1408.0 1777.4,1408.0 1779.0,1408.0 1780.5,1408.0 1782.1,1408.0 1783.6,1408.0 1785.2,1408.0 1786.8,1408.0 1788.3,1408.0 1789.9,1408.1 1791.4,1408.1 1793.0,1408.1 1794.6,1408.1 1796.1,1408.1 1797.7,1408.1 1799.2,1408.1 1800.8,1408.1 1802.4,1408.1 1803.9,1408.2 1805.5,1408.2 1807.0,1408.2 1808.6,1408.2 1810.2,1408.2 1811.7,1408.2 1813.3,1408.2 1814.9,1408.2 1816.4,1408.2 1818.0,1408.3 1819.5,1408.3 1821.1,1408.3 1822.7,1408.3 1824.2,1408.3 1825.8,1408.3 1827.3,1408.3 1828.9,1408.3 1830.5,1408.4 1832.0,1408.4 1833.6,1408.4 1835.1,1408.4 1836.7,1408.4 1838.3,1408.4 1839.8,1408.4 1841.4,1408.4 1842.9,1408.4 1844.5,1408.5 1846.1,1408.5 1847.6,1408.5 1849.2,1408.5 1850.8,1408.5 1852.3,1408.5 1853.9,1408.5 1855.4,1408.5 1857.0,1408.6 1858.6,1408.6 1860.1,1408.6 1861.7,1408.6 1863.2,1408.6 1864.8,1408.6 1866.4,1408.6 1867.9,1408.6 1869.5,1408.7 1871.0,1408.7 1872.6,1408.7 1874.2,1408.7 1875.7,1408.7 1877.3,1408.7 1878.8,1408.7 1880.4,1408.8 1882.0,1408.8 1883.5,1408.8 1885.1,1408.8 1886.7,1408.8 1888.2,1408.8 1889.8,1408.8 1891.3,1408.9 1892.9,1408.9 1894.5,1408.9 1896.0,1408.9 1897.6,1408.9 1899.1,1408.9 1900.7,1408.9 1902.3,1409.0 1903.8,1409.0 1905.4,1409.0 1906.9,1409.0 1908.5,1409.0 1910.1,1409.0 1911.6,1409.1 1913.2,1409.1 1914.7,1409.1 1916.3,1409.1 1917.9,1409.1 1919.4,1409.1 1921.0,1409.2 1922.5,1409.2 1924.1,1409.2 1925.7,1409.2 1927.2,1409.2 1928.8,1409.2 1930.4,1409.3 1931.9,1409.3 1933.5,1409.3 1935.0,1409.3 1936.6,1409.3 1938.2,1409.3 1939.7,1409.4 1941.3,1409.4 1942.8,1409.4 1944.4,1409.4 1946.0,1409.4 1947.5,1409.5 1949.1,1409.5 1950.6,1409.5 1952.2,1409.5 1953.8,1409.5 1955.3,1409.6 1956.9,1409.6 1958.4,1409.6 1960.0,1409.6 1961.6,1409.6 1963.1,1409.7 1964.7,1409.7 1966.3,1409.7 1967.8,1409.7 1969.4,1409.7 1970.9,1409.8 1972.5,1409.8 1974.1,1409.8 1975.6,1409.8 1977.2,1409.9 1978.7,1409.9 1980.3,1409.9 1981.9,1409.9 1983.4,1410.0 1985.0,1410.0 1986.5,1410.0 1988.1,1410.0 1989.7,1410.1 1991.2,1410.1 1992.8,1410.1 1994.3,1410.1 1995.9,1410.2 1997.5,1410.2 1999.0,1410.2 2000.6,1410.2 2002.2,1410.3 2003.7,1410.3 2005.3,1410.3 2006.8,1410.3 2008.4,1410.4 2010.0,1410.4 2011.5,1410.4 2013.1,1410.4 2014.6,1410.5 2016.2,1410.5 2017.8,1410.5 2019.3,1410.6 2020.9,1410.6 2022.4,1410.6 2024.0,1410.6 2025.6,1410.7 2027.1,1410.7 2028.7,1410.7 2030.2,1410.8 2031.8,1410.8 2033.4,1410.8 2034.9,1410.9 2036.5,1410.9 2038.1,1410.9 2039.6,1411.0 2041.2,1411.0 2042.7,1411.0 2044.3,1411.1 2045.9,1411.1 2047.4,1411.1 2049.0,1411.2 2050.5,1411.2 2052.1,1411.2 2053.7,1411.3 2055.2,1411.3 2056.8,1411.3 2058.3,1411.4 2059.9,1411.4 2061.5,1411.4 2063.0,1411.5 2064.6,1411.5 2066.1,1411.6 2067.7,1411.6 2069.3,1411.6 2070.8,1411.7 2072.4,1411.7 2074.0,1411.7 2075.5,1411.8 2077.1,1411.8 2078.6,1411.9 2080.2,1411.9 2081.8,1411.9 2083.3,1412.0 2084.9,1412.0 2086.4,1412.1 2088.0,1412.1 2089.6,1412.2 2091.1,1412.2 2092.7,1412.2 2094.2,1412.3 2095.8,1412.3 2097.4,1412.4 2098.9,1412.4 2100.5,1412.5 2102.0,1412.5 2103.6,1412.5 2105.2,1412.6 2106.7,1412.6 2108.3,1412.7 2109.8,1412.7 2111.4,1412.8 2113.0,1412.8 2114.5,1412.9 2116.1,1412.9 2117.7,1413.0 2119.2,1413.0 2120.8,1413.1 2122.3,1413.1 2123.9,1413.2 2125.5,1413.2 2127.0,1413.3 2128.6,1413.3 2130.1,1413.4 2131.7,1413.4 2133.3,1413.5 2134.8,1413.5 2136.4,1413.6 2137.9,1413.6 2139.5,1413.7 2141.1,1413.7 2142.6,1413.8 2144.2,1413.9 2145.7,1413.9 2147.3,1414.0 2148.9,1414.0 2150.4,1414.1 2152.0,1414.1 2153.6,1414.2 2155.1,1414.2 2156.7,1414.3 2158.2,1414.4 2159.8,1414.4 2161.4,1414.5 2162.9,1414.5 2164.5,1414.6 2166.0,1414.7 2167.6,1414.7 2169.2,1414.8 2170.7,1414.9 2172.3,1414.9 2173.8,1415.0 2175.4,1415.0 2177.0,1415.1 2178.5,1415.2 2180.1,1415.2 2181.6,1415.3 2183.2,1415.4 2184.8,1415.4 2186.3,1415.5 2187.9,1415.6 2189.5,1415.6 2191.0,1415.7 2192.6,1415.7 2194.1,1415.7 2195.7,1415.7 2197.3,1415.7 2198.8,1415.7 2200.4,1415.7 2201.9,1415.7 2203.5,1415.7" stroke="#2e7272" stroke-width="8"/>
<polyline points="330.5,1373.6 332.1,1373.5 333.6,1373.5 335.2,1373.4 336.7,1373.4 338.3,1373.3 339.9,1373.3 341.4,1373.3 343.0,1373.3 344.5,1373.2 346.1,1373.2 347.7,1373.2 349.2,1373.2 350.8,1373.2 352.4,1373.2 353.9,1373.3 355.5,1373.3 357.0,1373.3 358.6,1373.3 360.2,1373.3 361.7,1373.4 363.3,1373.4 364.8,1373.5 366.4,1373.5 368.0,1373.6 369.5,1373.6 371.1,1373.7 372.6,1373.7 374.2,1373.8 375.8,1373.9 377.3,1374.0 378.9,1374.0 380.4,1374.1 382.0,1374.2 383.6,1374.3 385.1,1374.4 386.7,1374.5 388.3,1374.6 389.8,1374.7 391.4,1374.8 392.9,1374.9 394.5,1375.0 396.1,1375.1 397.6,1375.3 399.2,1375.4 400.7,1375.5 402.3,1375.6 403.9,1375.8 405.4,1375.9 407.0,1376.0 408.5,1376.2 410.1,1376.3 411.7,1376.5 413.2,1376.6 414.8,1376.8 416.3,1376.9 417.9,1377.1 419.5,1377.2 421.0,1377.4 422.6,1377.6 424.1,1377.7 425.7,1377.9 427.3,1378.1 428.8,1378.2 430.4,1378.4 432.0,1378.6 433.5,1378.7 435.1,1378.9 436.6,1379.1 438.2,1379.2 439.8,1379.4 441.3,1379.6 442.9,1379.8 444.4,1379.9 446.0,1380.1 447.6,1380.3 449.1,1380.5 450.7,1380.6 452.2,1380.8 453.8,1381.0 455.4,1381.2 456.9,1381.4 458.5,1381.6 460.0,1381.7 461.6,1381.9 463.2,1382.1 464.7,1382.3 466.3,1382.5 467.9,1382.7 469.4,1382.9 471.0,1383.0 472.5,1383.2 474.1,1383.4 475.7,1383.6 477.2,1383.8 478.8,1384.0 480.3,1384.2 481.9,1384.4 483.5,1384.6 485.0,1384.7 486.6,1384.9 488.1,1385.1 489.7,1385.3 491.3,1385.5 492.8,1385.7 494.4,1385.9 495.9,1386.0 497.5,1386.2 499.1,1386.4 500.6,1386.6 502.2,1386.8 503.8,1387.0 505.3,1387.1 506.9,1387.3 508.4,1387.5 510.0,1387.7 511.6,1387.9 513.1,1388.0 514.7,1388.2 516.2,1388.4 517.8,1388.5 519.4,1388.7 520.9,1388.9 522.5,1389.1 524.0,1389.2 525.6,1389.4 527.2,1389.5 528.7,1389.7 530.3,1389.9 531.8,1390.0 533.4,1390.2 535.0,1390.3 536.5,1390.5 538.1,1390.6 539.7,1390.8 541.2,1390.9 542.8,1391.1 544.3,1391.2 545.9,1391.4 547.5,1391.5 549.0,1391.6 550.6,1391.8 552.1,1391.9 553.7,1392.0 555.3,1392.1 556.8,1392.3 558.4,1392.4 559.9,1392.5 561.5,1392.6 563.1,1392.7 564.6,1392.8 566.2,1392.9 567.7,1393.0 569.3,1393.1 570.9,1393.2 572.4,1393.3 574.0,1393.4 575.6,1393.5 577.1,1393.6 578.7,1393.7 580.2,1393.7 581.8,1393.8 583.4,1393.9 584.9,1393.9 586.5,1394.0 588.0,1394.1 589.6,1394.1 591.2,1394.2 592.7,1394.2 594.3,1394.3 595.8,1394.3 597.4,1394.3 599.0,1394.4 600.5,1394.4 602.1,1394.4 603.6,1394.5 605.2,1394.5 606.8,1394.5 608.3,1394.5 609.9,1394.5 611.5,1394.5 613.0,1394.5 614.6,1394.5 616.1,1394.5 617.7,1394.5 619.3,1394.4 620.8,1394.4 622.4,1394.4 623.9,1394.3 625.5,1394.3 627.1,1394.2 628.6,1394.2 630.2,1394.1 631.7,1394.1 633.3,1394.0 634.9,1393.9 636.4,1393.8 638.0,1393.8 639.5,1393.7 641.1,1393.6 642.7,1393.5 644.2,1393.4 645.8,1393.2 647.3,1393.1 648.9,1393.0 650.5,1392.9 652.0,1392.7 653.6,1392.6 655.2,1392.4 656.7,1392.3 658.3,1392.1 659.8,1391.9 661.4,1391.7 663.0,1391.6 664.5,1391.4 666.1,1391.2 667.6,1391.0 669.2,1390.7 670.8,1390.5 672.3,1390.3 673.9,1390.1 675.4,1389.8 677.0,1389.6 678.6,1389.3 680.1,1389.0 681.7,1388.8 683.2,1388.5 684.8,1388.2 686.4,1387.9 687.9,1387.6 689.5,1387.3 691.1,1387.0 692.6,1386.7 694.2,1386.3 695.7,1386.0 697.3,1385.7 698.9,1385.3 700.4,1384.9 702.0,1384.5 703.5,1384.1 705.1,1383.7 706.7,1383.3 708.2,1382.9 709.8,1382.4 711.3,1382.0 712.9,1381.6 714.5,1381.1 716.0,1380.6 717.6,1380.2 719.1,1379.7 720.7,1379.2 722.3,1378.8 723.8,1378.3 725.4,1377.8 727.0,1377.3 728.5,1376.8 730.1,1376.2 731.6,1375.7 733.2,1375.2 734.8,1374.7 736.3,1374.1 737.9,1373.6 739.4,1373.0 741.0,1372.5 742.6,1371.9 744.1,1371.4 745.7,1370.8 747.2,1370.2 748.8,1369.7 750.4,1369.1 751.9,1368.5 753.5,1367.9 755.0,1367.3 756.6,1366.7 758.2,1366.1 759.7,1365.5 761.3,1364.9 762.9,1364.3 764.4,1363.6 766.0,1363.0 767.5,1362.4 769.1,1361.7 770.7,1361.1 772.2,1360.5 773.8,1359.8 775.3,1359.2 776.9,1358.5 778.5,1357.9 780.0,1357.2 781.6,1356.5 783.1,1355.8 784.7,1355.1 786.3,1354.4 787.8,1353.6 789.4,1352.9 790.9,1352.2 792.5,1351.4 794.1,1350.7 795.6,1350.0 797.2,1349.2 798.8,1348.5 800.3,1347.7 801.9,1346.9 803.4,1346.2 805.0,1345.4 806.6,1344.6 808.1,1343.9 809.7,1343.1 811.2,1342.3 812.8,1341.5 814.4,1340.7 815.9,1339.9 817.5,1339.1 819.0,1338.3 820.6,1337.5 822.2,1336.6 823.7,1335.8 825.3,1335.0 826.8,1334.1 828.4,1333.3 830.0,1332.4 831.5,1331.5 833.1,1330.7 834.6,1329.8 836.2,1328.9 837.8,1328.0 839.3,1327.1 840.9,1326.2 842.5,1325.3 844.0,1324.4 845.6,1323.5 847.1,1322.5 848.7,1321.6 850.3,1320.7 851.8,1319.7 853.4,1318.7 854.9,1317.8 856.5,1316.8 858.1,1315.8 859.6,1314.8 861.2,1313.8 862.7,1312.7 864.3,1311.7 865.9,1310.7 867.4,1309.6 869.0,1308.6 870.5,1307.5 872.1,1306.4 873.7,1305.3 875.2,1304.2 876.8,1303.1 878.4,1302.0 879.9,1300.8 881.5,1299.7 883.0,1298.5 884.6,1297.3 886.2,1296.1 887.7,1294.9 889.3,1293.7 890.8,1292.5 892.4,1291.2 894.0,1289.9 895.5,1288.7 897.1,1287.4 898.6,1286.0 900.2,1284.7 901.8,1283.4 903.3,1282.0 904.9,1280.6 906.4,1279.2 908.0,1277.8 909.6,1276.3 911.1,1274.8 912.7,1273.3 914.3,1271.8 915.8,1270.3 917.4,1268.7 918.9,1267.1 920.5,1265.5 922.1,1263.8 923.6,1262.1 925.2,1260.4 926.7,1258.7 928.3,1256.9 929.9,1255.1 931.4,1253.3 933.0,1251.4 934.5,1249.4 936.1,1247.5 937.7,1245.5 939.2,1243.4 940.8,1241.3 942.3,1239.1 943.9,1236.9 945.5,1234.6 947.0,1232.3 948.6,1229.9 950.2,1227.4 951.7,1224.9 953.3,1222.3 954.8,1219.7 956.4,1216.9 958.0,1214.2 959.5,1211.3 961.1,1208.6 962.6,1205.8 964.2,1203.0 965.8,1200.1 967.3,1197.1 968.9,1194.0 970.4,1190.9 972.0,1187.8 973.6,1184.6 975.1,1181.3 976.7,1178.0 978.2,1174.7 979.8,1171.3 981.4,1167.8 982.9,1164.4 984.5,1160.9 986.0,1157.4 987.6,1153.8 989.2,1150.3 990.7,1146.8 992.3,1143.3 993.9,1139.8 995.4,1136.3 997.0,1132.8 998.5,1129.4 1000.1,1126.0 1001.7,1122.6 1003.2,1119.3 1004.8,1116.1 1006.3,1112.9 1007.9,1109.7 1009.5,1106.6 1011.0,1103.6 1012.6,1100.6 1014.1,1097.7 1015.7,1094.9 1017.3,1092.1 1018.8,1089.4 1020.4,1086.8 1021.9,1084.2 1023.5,1081.7 1025.1,1079.2 1026.6,1076.8 1028.2,1074.5 1029.8,1072.2 1031.3,1070.0 1032.9,1067.9 1034.4,1065.8 1036.0,1063.7 1037.6,1061.7 1039.1,1059.8 1040.7,1057.9 1042.2,1056.1 1043.8,1054.3 1045.4,1052.6 1046.9,1050.9 1048.5,1049.3 1050.0,1047.7 1051.6,1046.1 1053.2,1044.6 1054.7,1043.1 1056.3,1041.6 1057.8,1040.1 1059.4,1038.7 1061.0,1037.3 1062.5,1035.9 1064.1,1034.6 1065.7,1033.2 1067.2,1031.9 1068.8,1030.6 1070.3,1029.3 1071.9,1028.0 1073.5,1026.7 1075.0,1025.4 1076.6,1024.2 1078.1,1022.9 1079.7,1021.7 1081.3,1020.5 1082.8,1019.3 1084.4,1018.0 1085.9,1016.8 1087.5,1015.6 1089.1,1014.4 1090.6,1013.2 1092.2,1012.0 1093.7,1010.8 1095.3,1009.6 1096.9,1008.4 1098.4,1007.1 1100.0,1005.9 1101.6,1004.7 1103.1,1003.4 1104.7,1002.2 1106.2,1000.9 1107.8,999.6 1109.4,998.3 1110.9,997.0 1112.5,995.6 1114.0,994.2 1115.6,992.8 1117.2,991.3 1118.7,989.8 1120.3,988.3 1121.8,986.7 1123.4,985.0 1125.0,983.3 1126.5,981.5 1128.1,979.7 1129.6,977.7 1131.2,975.8 1132.8,973.7 1134.3,971.5 1135.9,969.2 1137.5,966.9 1139.0,964.4 1140.6,961.8 1142.1,959.1 1143.7,956.3 1145.3,953.3 1146.8,950.1 1148.4,946.8 1149.9,943.3 1151.5,939.7 1153.1,935.8 1154.6,931.6 1156.2,927.3 1157.7,922.7 1159.3,917.8 1160.9,912.6 1162.4,907.2 1164.0,901.5 1165.5,895.6 1167.1,889.5 1168.7,883.1 1170.2,876.7 1171.8,870.1 1173.3,863.5 1174.9,856.8 1176.5,849.9 1178.0,843.0 1179.6,836.0 1181.2,828.9 1182.7,821.7 1184.3,814.5 1185.8,807.1 1187.4,799.7 1189.0,792.2 1190.5,784.6 1192.1,776.9 1193.6,769.2 1195.2,761.5 1196.8,753.7 1198.3,745.9 1199.9,738.0 1201.4,730.1 1203.0,722.3 1204.6,714.4 1206.1,706.5 1207.7,698.7 1209.2,690.9 1210.8,683.1 1212.4,675.4 1213.9,667.7 1215.5,660.1 1217.1,652.5 1218.6,645.0 1220.2,637.6 1221.7,630.3 1223.3,623.0 1224.9,615.9 1226.4,608.8 1228.0,601.8 1229.5,595.0 1231.1,588.2 1232.7,581.5 1234.2,574.9 1235.8,568.4 1237.3,561.9 1238.9,555.6 1240.5,549.4 1242.0,543.2 1243.6,536.9 1245.1,530.8 1246.7,524.7 1248.3,518.7 1249.8,512.8 1251.4,507.0 1253.0,501.3 1254.5,495.6 1256.1,490.1 1257.6,484.6 1259.2,479.2 1260.8,473.9 1262.3,468.6 1263.9,463.4 1265.4,458.3 1267.0,453.3 1268.6,448.3 1270.1,443.4 1271.7,438.6 1273.2,433.8 1274.8,429.6 1276.4,426.2 1277.9,423.6 1279.5,421.7 1281.0,420.4 1282.6,419.5 1284.2,419.0 1285.7,418.8 1287.3,418.9 1288.9,419.3 1290.4,419.9 1292.0,420.8 1293.5,421.9 1295.1,423.1 1296.7,424.6 1298.2,426.4 1299.8,428.5 1301.3,431.2 1302.9,434.4 1304.5,438.6 1306.0,444.3 1307.6,451.7 1309.1,460.4 1310.7,470.0 1312.3,479.9 1313.8,489.9 1315.4,500.0 1316.9,510.2 1318.5,520.5 1320.1,530.8 1321.6,541.2 1323.2,551.6 1324.8,559.8 1326.3,567.9 1327.9,576.2 1329.4,584.5 1331.0,593.0 1332.6,601.5 1334.1,610.2 1335.7,619.0 1337.2,628.0 1338.8,637.2 1340.4,646.5 1341.9,656.0 1343.5,665.8 1345.0,675.7 1346.6,685.8 1348.2,696.1 1349.7,706.6 1351.3,717.3 1352.8,728.2 1354.4,739.3 1356.0,750.5 1357.5,761.9 1359.1,773.5 1360.7,785.2 1362.2,797.0 1363.8,809.0 1365.3,821.0 1366.9,833.1 1368.5,845.2 1370.0,857.4 1371.6,869.5 1373.1,881.6 1374.7,893.6 1376.3,905.6 1377.8,917.5 1379.4,929.3 1380.9,940.9 1382.5,952.4 1384.1,963.7 1385.6,974.9 1387.2,985.8 1388.7,996.6 1390.3,1007.2 1391.9,1017.6 1393.4,1027.8 1395.0,1037.9 1396.5,1047.7 1398.1,1057.3 1399.7,1066.7 1401.2,1075.9 1402.8,1085.0 1404.4,1093.8 1405.9,1102.5 1407.5,1111.0 1409.0,1119.3 1410.6,1127.5 1412.2,1135.5 1413.7,1143.3 1415.3,1151.0 1416.8,1158.5 1418.4,1165.9 1420.0,1173.2 1421.5,1180.3 1423.1,1187.3 1424.6,1194.2 1426.2,1200.9 1427.8,1207.5 1429.3,1214.0 1430.9,1220.4 1432.4,1226.7 1434.0,1232.9 1435.6,1239.0 1437.1,1245.0 1438.7,1250.9 1440.3,1256.7 1441.8,1262.4 1443.4,1268.0 1444.9,1274.0 1446.5,1279.9 1448.1,1285.8 1449.6,1291.5 1451.2,1297.0 1452.7,1302.2 1454.3,1307.2 1455.9,1312.0 1457.4,1316.5 1459.0,1320.7 1460.5,1324.7 1462.1,1328.5 1463.7,1332.0 1465.2,1335.4 1466.8,1338.5 1468.3,1341.5 1469.9,1344.2 1471.5,1346.8 1473.0,1349.3 1474.6,1351.6 1476.2,1353.7 1477.7,1355.8 1479.3,1357.7 1480.8,1359.5 1482.4,1361.3 1484.0,1362.9 1485.5,1364.5 1487.1,1366.0 1488.6,1367.4 1490.2,1368.7 1491.8,1370.0 1493.3,1371.2 1494.9,1372.3 1496.4,1373.3 1498.0,1374.2 1499.6,1375.2 1501.1,1376.1 1502.7,1376.9 1504.2,1377.7 1505.8,1378.5 1507.4,1379.3 1508.9,1380.0 1510.5,1380.8 1512.1,1381.4 1513.6,1382.1 1515.2,1382.8 1516.7,1383.4 1518.3,1384.0 1519.9,1384.6 1521.4,1385.2 1523.0,1385.7 1524.5,1386.3 1526.1,1386.8 1527.7,1387.3 1529.2,1387.8 1530.8,1388.3 1532.3,1388.8 1533.9,1389.2 1535.5,1389.7 1537.0,1390.1 1538.6,1390.5 1540.1,1390.9 1541.7,1391.3 1543.3,1391.7 1544.8,1392.0 1546.4,1392.4 1548.0,1392.7 1549.5,1393.1 1551.1,1393.4 1552.6,1393.7 1554.2,1394.0 1555.8,1394.3 1557.3,1394.6 1558.9,1394.9 1560.4,1395.1 1562.0,1395.4 1563.6,1395.6 1565.1,1395.9 1566.7,1396.1 1568.2,1396.3 1569.8,1396.5 1571.4,1396.7 1572.9,1396.9 1574.5,1397.1 1576.0,1397.3 1577.6,1397.4 1579.2,1397.6 1580.7,1397.7 1582.3,1397.9 1583.8,1398.0 1585.4,1398.2 1587.0,1398.3 1588.5,1398.4 1590.1,1398.5 1591.7,1398.6 1593.2,1398.7 1594.8,1398.8 1596.3,1398.9 1597.9,1399.0 1599.5,1399.0 1601.0,1399.1 1602.6,1399.2 1604.1,1399.2 1605.7,1399.3 1607.3,1399.4 1608.8,1399.4 1610.4,1399.5 1611.9,1399.5 1613.5,1399.5 1615.1,1399.6 1616.6,1399.6 1618.2,1399.7 1619.7,1399.7 1621.3,1399.7 1622.9,1399.7 1624.4,1399.8 1626.0,1399.8 1627.6,1399.8 1629.1,1399.8 1630.7,1399.9 1632.2,1399.9 1633.8,1399.9 1635.4,1399.9 1636.9,1400.0 1638.5,1400.0 1640.0,1400.0 1641.6,1400.0 1643.2,1400.0 1644.7,1400.1 1646.3,1400.1 1647.8,1400.1 1649.4,1400.1 1651.0,1400.2 1652.5,1400.2 1654.1,1400.2 1655.6,1400.2 1657.2,1400.2 1658.8,1400.3 1660.3,1400.3 1661.9,1400.3 1663.5,1400.3 1665.0,1400.3 1666.6,1400.3 1668.1,1400.4 1669.7,1400.4 1671.3,1400.4 1672.8,1400.4 1674.4,1400.4 1675.9,1400.5 1677.5,1400.5 1679.1,1400.5 1680.6,1400.5 1682.2,1400.5 1683.7,1400.5 1685.3,1400.6 1686.9,1400.6 1688.4,1400.6 1690.0,1400.6 1691.5,1400.6 1693.1,1400.6 1694.7,1400.7 1696.2,1400.7 1697.8,1400.7 1699.4,1400.7 1700.9,1400.7 1702.5,1400.7 1704.0,1400.8 1705.6,1400.8 1707.2,1400.8 1708.7,1400.8 1710.3,1400.8 1711.8,1400.8 1713.4,1400.8 1715.0,1400.9 1716.5,1400.9 1718.1,1400.9 1719.6,1400.9 1721.2,1400.9 1722.8,1400.9 1724.3,1400.9 1725.9,1401.0 1727.4,1401.0 1729.0,1401.0 1730.6,1401.0 1732.1,1401.0 1733.7,1401.0 1735.2,1401.0 1736.8,1401.1 1738.4,1401.1 1739.9,1401.1 1741.5,1401.1 1743.1,1401.1 1744.6,1401.1 1746.2,1401.1 1747.7,1401.1 1749.3,1401.2 1750.9,1401.2 1752.4,1401.2 1754.0,1401.2 1755.5,1401.2 1757.1,1401.2 1758.7,1401.2 1760.2,1401.3 1761.8,1401.3 1763.3,1401.3 1764.9,1401.3 1766.5,1401.3 1768.0,1401.3 1769.6,1401.3 1771.1,1401.3 1772.7,1401.4 1774.3,1401.4 1775.8,1401.4 1777.4,1401.4 1779.0,1401.4 1780.5,1401.4 1782.1,1401.4 1783.6,1401.4 1785.2,1401.4 1786.8,1401.5 1788.3,1401.5 1789.9,1401.5 1791.4,1401.5 1793.0,1401.5 1794.6,1401.5 1796.1,1401.5 1797.7,1401.5 1799.2,1401.6 1800.8,1401.6 1802.4,1401.6 1803.9,1401.6 1805.5,1401.6 1807.0,1401.6 1808.6,1401.6 1810.2,1401.6 1811.7,1401.7 1813.3,1401.7 1814.9,1401.7 1816.4,1401.7 1818.0,1401.7 1819.5,1401.7 1821.1,1401.7 1822.7,1401.7 1824.2,1401.8 1825.8,1401.8 1827.3,1401.8 1828.9,1401.8 1830.5,1401.8 1832.0,1401.8 1833.6,1401.8 1835.1,1401.8 1836.7,1401.9 1838.3,1401.9 1839.8,1401.9 1841.4,1401.9 1842.9,1401.9 1844.5,1401.9 1846.1,1401.9 1847.6,1401.9 1849.2,1402.0 1850.8,1402.0 1852.3,1402.0 1853.9,1402.0 1855.4,1402.0 1857.0,1402.0 1858.6,1402.0 1860.1,1402.0 1861.7,1402.1 1863.2,1402.1 1864.8,1402.1 1866.4,1402.1 1867.9,1402.1 1869.5,1402.1 1871.0,1402.1 1872.6,1402.2 1874.2,1402.2 1875.7,1402.2 1877.3,1402.2 1878.8,1402.2 1880.4,1402.2 1882.0,1402.2 1883.5,1402.3 1885.1,1402.3 1886.7,1402.3 1888.2,1402.3 1889.8,1402.3 1891.3,1402.3 1892.9,1402.3 1894.5,1402.4 1896.0,1402.4 1897.6,1402.4 1899.1,1402.4 1900.7,1402.4 1902.3,1402.4 1903.8,1402.5 1905.4,1402.5 1906.9,1402.5 1908.5,1402.5 1910.1,1402.5 1911.6,1402.5 1913.2,1402.6 1914.7,1402.6 1916.3,1402.6 1917.9,1402.6 1919.4,1402.6 1921.0,1402.6 1922.5,1402.7 1924.1,1402.7 1925.7,1402.7 1927.2,1402.7 1928.8,1402.7 1930.4,1402.8 1931.9,1402.8 1933.5,1402.8 1935.0,1402.8 1936.6,1402.8 1938.2,1402.8 1939.7,1402.9 1941.3,1402.9 1942.8,1402.9 1944.4,1402.9 1946.0,1402.9 1947.5,1403.0 1949.1,1403.0 1950.6,1403.0 1952.2,1403.0 1953.8,1403.0 1955.3,1403.1 1956.9,1403.1 1958.4,1403.1 1960.0,1403.1 1961.6,1403.2 1963.1,1403.2 1964.7,1403.2 1966.3,1403.2 1967.8,1403.2 1969.4,1403.3 1970.9,1403.3 1972.5,1403.3 1974.1,1403.3 1975.6,1403.4 1977.2,1403.4 1978.7,1403.4 1980.3,1403.4 1981.9,1403.5 1983.4,1403.5 1985.0,1403.5 1986.5,1403.5 1988.1,1403.6 1989.7,1403.6 1991.2,1403.6 1992.8,1403.6 1994.3,1403.7 1995.9,1403.7 1997.5,1403.7 1999.0,1403.7 2000.6,1403.8 2002.2,1403.8 2003.7,1403.8 2005.3,1403.8 2006.8,1403.9 2008.4,1403.9 2010.0,1403.9 2011.5,1404.0 2013.1,1404.0 2014.6,1404.0 2016.2,1404.0 2017.8,1404.1 2019.3,1404.1 2020.9,1404.1 2022.4,1404.2 2024.0,1404.2 2025.6,1404.2 2027.1,1404.3 2028.7,1404.3 2030.2,1404.3 2031.8,1404.4 2033.4,1404.4 2034.9,1404.4 2036.5,1404.5 2038.1,1404.5 2039.6,1404.5 2041.2,1404.6 2042.7,1404.6 2044.3,1404.6 2045.9,1404.7 2047.4,1404.7 2049.0,1404.7 2050.5,1404.8 2052.1,1404.8 2053.7,1404.8 2055.2,1404.9 2056.8,1404.9 2058.3,1404.9 2059.9,1405.0 2061.5,1405.0 2063.0,1405.1 2064.6,1405.1 2066.1,1405.1 2067.7,1405.2 2069.3,1405.2 2070.8,1405.2 2072.4,1405.3 2074.0,1405.3 2075.5,1405.4 2077.1,1405.4 2078.6,1405.4 2080.2,1405.5 2081.8,1405.5 2083.3,1405.6 2084.9,1405.6 2086.4,1405.7 2088.0,1405.7 2089.6,1405.7 2091.1,1405.8 2092.7,1405.8 2094.2,1405.9 2095.8,1405.9 2097.4,1406.0 2098.9,1406.0 2100.5,1406.1 2102.0,1406.1 2103.6,1406.1 2105.2,1406.2 2106.7,1406.2 2108.3,1406.3 2109.8,1406.3 2111.4,1406.4 2113.0,1406.4 2114.5,1406.5 2116.1,1406.5 2117.7,1406.6 2119.2,1406.6 2120.8,1406.7 2122.3,1406.7 2123.9,1406.8 2125.5,1406.8 2127.0,1406.9 2128.6,1406.9 2130.1,1407.0 2131.7,1407.0 2133.3,1407.1 2134.8,1407.2 2136.4,1407.2 2137.9,1407.3 2139.5,1407.3 2141.1,1407.4 2142.6,1407.4 2144.2,1407.5 2145.7,1407.5 2147.3,1407.6 2148.9,1407.7 2150.4,1407.7 2152.0,1407.8 2153.6,1407.8 2155.1,1407.9 2156.7,1408.0 2158.2,1408.0 2159.8,1408.1 2161.4,1408.1 2162.9,1408.2 2164.5,1408.3 2166.0,1408.3 2167.6,1408.4 2169.2,1408.4 2170.7,1408.5 2172.3,1408.6 2173.8,1408.6 2175.4,1408.7 2177.0,1408.8 2178.5,1408.8 2180.1,1408.9 2181.6,1409.0 2183.2,1409.0 2184.8,1409.1 2186.3,1409.2 2187.9,1409.2 2189.5,1409.3 2191.0,1409.4 2192.6,1409.4 2194.1,1409.4 2195.7,1409.4 2197.3,1409.4 2198.8,1409.4 2200.4,1409.4 2201.9,1409.4 2203.5,1409.4" stroke="#3a5a9a" stroke-width="7"/>
<polyline points="330.5,1351.0 332.1,1350.9 333.6,1350.9 335.2,1350.8 336.7,1350.8 338.3,1350.7 339.9,1350.7 341.4,1350.7 343.0,1350.6 344.5,1350.6 346.1,1350.6 347.7,1350.6 349.2,1350.6 350.8,1350.6 352.4,1350.6 353.9,1350.6 355.5,1350.6 357.0,1350.6 358.6,1350.6 360.2,1350.7 361.7,1350.7 363.3,1350.7 364.8,1350.8 366.4,1350.8 368.0,1350.8 369.5,1350.9 371.1,1350.9 372.6,1351.0 374.2,1351.1 375.8,1351.1 377.3,1351.2 378.9,1351.3 380.4,1351.3 382.0,1351.4 383.6,1351.5 385.1,1351.6 386.7,1351.7 388.3,1351.8 389.8,1351.9 391.4,1352.0 392.9,1352.1 394.5,1352.2 396.1,1352.3 397.6,1352.4 399.2,1352.5 400.7,1352.7 402.3,1352.8 403.9,1352.9 405.4,1353.1 407.0,1353.2 408.5,1353.3 410.1,1353.5 411.7,1353.6 413.2,1353.7 414.8,1353.9 416.3,1354.0 417.9,1354.2 419.5,1354.3 421.0,1354.5 422.6,1354.7 424.1,1354.8 425.7,1355.0 427.3,1355.1 428.8,1355.3 430.4,1355.5 432.0,1355.6 433.5,1355.8 435.1,1356.0 436.6,1356.1 438.2,1356.3 439.8,1356.5 441.3,1356.6 442.9,1356.8 444.4,1357.0 446.0,1357.2 447.6,1357.3 449.1,1357.5 450.7,1357.7 452.2,1357.9 453.8,1358.1 455.4,1358.2 456.9,1358.4 458.5,1358.6 460.0,1358.8 461.6,1359.0 463.2,1359.1 464.7,1359.3 466.3,1359.5 467.9,1359.7 469.4,1359.9 471.0,1360.1 472.5,1360.3 474.1,1360.4 475.7,1360.6 477.2,1360.8 478.8,1361.0 480.3,1361.2 481.9,1361.4 483.5,1361.6 485.0,1361.8 486.6,1361.9 488.1,1362.1 489.7,1362.3 491.3,1362.5 492.8,1362.7 494.4,1362.9 495.9,1363.1 497.5,1363.2 499.1,1363.4 500.6,1363.6 502.2,1363.8 503.8,1364.0 505.3,1364.1 506.9,1364.3 508.4,1364.5 510.0,1364.7 511.6,1364.8 513.1,1365.0 514.7,1365.2 516.2,1365.4 517.8,1365.5 519.4,1365.7 520.9,1365.9 522.5,1366.0 524.0,1366.2 525.6,1366.4 527.2,1366.5 528.7,1366.7 530.3,1366.8 531.8,1367.0 533.4,1367.1 535.0,1367.3 536.5,1367.4 538.1,1367.6 539.7,1367.7 541.2,1367.9 542.8,1368.0 544.3,1368.2 545.9,1368.3 547.5,1368.4 549.0,1368.6 550.6,1368.7 552.1,1368.8 553.7,1368.9 555.3,1369.1 556.8,1369.2 558.4,1369.3 559.9,1369.4 561.5,1369.5 563.1,1369.6 564.6,1369.7 566.2,1369.8 567.7,1369.9 569.3,1370.0 570.9,1370.1 572.4,1370.2 574.0,1370.3 575.6,1370.4 577.1,1370.4 578.7,1370.5 580.2,1370.6 581.8,1370.7 583.4,1370.7 584.9,1370.8 586.5,1370.8 588.0,1370.9 589.6,1370.9 591.2,1371.0 592.7,1371.0 594.3,1371.1 595.8,1371.1 597.4,1371.1 599.0,1371.2 600.5,1371.2 602.1,1371.2 603.6,1371.2 605.2,1371.2 606.8,1371.2 608.3,1371.2 609.9,1371.2 611.5,1371.2 613.0,1371.2 614.6,1371.2 616.1,1371.2 617.7,1371.1 619.3,1371.1 620.8,1371.1 622.4,1371.0 623.9,1371.0 625.5,1370.9 627.1,1370.9 628.6,1370.8 630.2,1370.7 631.7,1370.7 633.3,1370.6 634.9,1370.5 636.4,1370.4 638.0,1370.3 639.5,1370.2 641.1,1370.1 642.7,1370.0 644.2,1369.9 645.8,1369.8 647.3,1369.6 648.9,1369.5 650.5,1369.3 652.0,1369.2 653.6,1369.0 655.2,1368.9 656.7,1368.7 658.3,1368.5 659.8,1368.3 661.4,1368.1 663.0,1367.9 664.5,1367.7 666.1,1367.5 667.6,1367.3 669.2,1367.1 670.8,1366.8 672.3,1366.6 673.9,1366.3 675.4,1366.1 677.0,1365.8 678.6,1365.5 680.1,1365.2 681.7,1365.0 683.2,1364.7 684.8,1364.4 686.4,1364.1 687.9,1363.7 689.5,1363.4 691.1,1363.1 692.6,1362.7 694.2,1362.4 695.7,1362.0 697.3,1361.7 698.9,1361.3 700.4,1360.9 702.0,1360.5 703.5,1360.1 705.1,1359.7 706.7,1359.2 708.2,1358.8 709.8,1358.3 711.3,1357.9 712.9,1357.4 714.5,1357.0 716.0,1356.5 717.6,1356.0 719.1,1355.5 720.7,1355.0 722.3,1354.5 723.8,1354.0 725.4,1353.5 727.0,1353.0 728.5,1352.5 730.1,1352.0 731.6,1351.4 733.2,1350.9 734.8,1350.3 736.3,1349.8 737.9,1349.2 739.4,1348.7 741.0,1348.1 742.6,1347.5 744.1,1346.9 745.7,1346.4 747.2,1345.8 748.8,1345.2 750.4,1344.6 751.9,1344.0 753.5,1343.4 755.0,1342.8 756.6,1342.1 758.2,1341.5 759.7,1340.9 761.3,1340.3 762.9,1339.6 764.4,1339.0 766.0,1338.3 767.5,1337.7 769.1,1337.0 770.7,1336.4 772.2,1335.7 773.8,1335.1 775.3,1334.4 776.9,1333.7 778.5,1333.1 780.0,1332.4 781.6,1331.8 783.1,1331.2 784.7,1330.6 786.3,1330.0 787.8,1329.4 789.4,1328.7 790.9,1328.1 792.5,1327.5 794.1,1326.8 795.6,1326.2 797.2,1325.6 798.8,1324.9 800.3,1324.3 801.9,1323.6 803.4,1323.0 805.0,1322.3 806.6,1321.7 808.1,1321.0 809.7,1320.3 811.2,1319.6 812.8,1319.0 814.4,1318.3 815.9,1317.6 817.5,1316.9 819.0,1316.2 820.6,1315.5 822.2,1314.8 823.7,1314.1 825.3,1313.4 826.8,1312.6 828.4,1311.9 830.0,1311.2 831.5,1310.5 833.1,1309.7 834.6,1309.0 836.2,1308.2 837.8,1307.5 839.3,1306.7 840.9,1305.9 842.5,1305.1 844.0,1304.4 845.6,1303.6 847.1,1302.8 848.7,1302.0 850.3,1301.2 851.8,1300.3 853.4,1299.5 854.9,1298.7 856.5,1297.9 858.1,1297.0 859.6,1296.2 861.2,1295.3 862.7,1294.4 864.3,1293.6 865.9,1292.7 867.4,1291.8 869.0,1290.9 870.5,1290.0 872.1,1289.0 873.7,1288.1 875.2,1287.2 876.8,1286.2 878.4,1285.3 879.9,1284.3 881.5,1283.3 883.0,1282.3 884.6,1281.3 886.2,1280.3 887.7,1279.3 889.3,1278.2 890.8,1277.2 892.4,1276.1 894.0,1275.0 895.5,1274.0 897.1,1272.9 898.6,1271.7 900.2,1270.6 901.8,1269.5 903.3,1268.3 904.9,1267.1 906.4,1265.9 908.0,1264.7 909.6,1263.5 911.1,1262.2 912.7,1261.0 914.3,1259.7 915.8,1258.4 917.4,1257.0 918.9,1255.7 920.5,1254.3 922.1,1252.9 923.6,1251.5 925.2,1250.0 926.7,1248.6 928.3,1247.1 929.9,1245.5 931.4,1244.0 933.0,1242.4 934.5,1240.7 936.1,1239.1 937.7,1237.4 939.2,1235.6 940.8,1233.8 942.3,1232.0 943.9,1230.1 945.5,1228.2 947.0,1226.2 948.6,1224.2 950.2,1222.1 951.7,1220.0 953.3,1217.8 954.8,1215.5 956.4,1213.3 958.0,1210.9 959.5,1208.4 961.1,1205.7 962.6,1202.8 964.2,1199.9 965.8,1197.0 967.3,1193.9 968.9,1190.8 970.4,1187.7 972.0,1184.5 973.6,1181.2 975.1,1177.9 976.7,1174.5 978.2,1171.1 979.8,1167.7 981.4,1164.2 982.9,1160.6 984.5,1157.1 986.0,1153.5 987.6,1149.9 989.2,1146.3 990.7,1142.7 992.3,1139.2 993.9,1135.6 995.4,1132.0 997.0,1128.5 998.5,1125.0 1000.1,1121.6 1001.7,1118.2 1003.2,1114.8 1004.8,1111.5 1006.3,1108.2 1007.9,1105.0 1009.5,1101.9 1011.0,1098.8 1012.6,1095.8 1014.1,1092.8 1015.7,1089.9 1017.3,1087.1 1018.8,1084.3 1020.4,1081.6 1021.9,1079.0 1023.5,1076.4 1025.1,1073.9 1026.6,1071.5 1028.2,1069.1 1029.8,1066.8 1031.3,1064.5 1032.9,1062.3 1034.4,1060.2 1036.0,1058.1 1037.6,1056.1 1039.1,1054.1 1040.7,1052.2 1042.2,1050.3 1043.8,1048.5 1045.4,1046.7 1046.9,1045.0 1048.5,1043.3 1050.0,1041.7 1051.6,1040.1 1053.2,1038.5 1054.7,1036.9 1056.3,1035.4 1057.8,1033.9 1059.4,1032.4 1061.0,1031.0 1062.5,1029.6 1064.1,1028.1 1065.7,1026.8 1067.2,1025.4 1068.8,1024.0 1070.3,1022.7 1071.9,1021.3 1073.5,1020.0 1075.0,1018.7 1076.6,1017.4 1078.1,1016.1 1079.7,1014.8 1081.3,1013.5 1082.8,1012.2 1084.4,1010.9 1085.9,1009.7 1087.5,1008.4 1089.1,1007.1 1090.6,1005.8 1092.2,1004.6 1093.7,1003.3 1095.3,1002.0 1096.9,1000.7 1098.4,999.4 1100.0,998.1 1101.6,996.8 1103.1,995.5 1104.7,994.1 1106.2,992.8 1107.8,991.4 1109.4,990.0 1110.9,988.6 1112.5,987.1 1114.0,985.6 1115.6,984.1 1117.2,982.5 1118.7,980.9 1120.3,979.3 1121.8,977.6 1123.4,975.8 1125.0,973.9 1126.5,972.0 1128.1,970.1 1129.6,968.0 1131.2,965.9 1132.8,963.7 1134.3,961.4 1135.9,958.9 1137.5,956.4 1139.0,953.8 1140.6,951.1 1142.1,948.2 1143.7,945.2 1145.3,942.0 1146.8,938.7 1148.4,935.2 1149.9,931.5 1151.5,927.6 1153.1,923.5 1154.6,919.2 1156.2,914.6 1157.7,909.8 1159.3,904.7 1160.9,899.3 1162.4,893.6 1164.0,887.7 1165.5,881.5 1167.1,875.1 1168.7,868.5 1170.2,861.8 1171.8,855.0 1173.3,848.0 1174.9,841.0 1176.5,833.9 1178.0,826.7 1179.6,819.4 1181.2,812.0 1182.7,804.5 1184.3,796.9 1185.8,789.3 1187.4,781.5 1189.0,773.7 1190.5,765.8 1192.1,757.9 1193.6,749.9 1195.2,741.8 1196.8,733.7 1198.3,725.5 1199.9,717.4 1201.4,709.2 1203.0,701.0 1204.6,692.8 1206.1,684.6 1207.7,676.4 1209.2,668.3 1210.8,660.2 1212.4,652.1 1213.9,644.1 1215.5,636.2 1217.1,628.3 1218.6,620.5 1220.2,612.8 1221.7,605.2 1223.3,597.7 1224.9,590.2 1226.4,582.8 1228.0,575.6 1229.5,568.4 1231.1,561.3 1232.7,554.4 1234.2,547.5 1235.8,540.7 1237.3,534.0 1238.9,527.4 1240.5,520.9 1242.0,514.5 1243.6,508.0 1245.1,501.7 1246.7,495.4 1248.3,489.2 1249.8,483.1 1251.4,477.1 1253.0,471.2 1254.5,465.3 1256.1,459.6 1257.6,453.9 1259.2,448.3 1260.8,442.8 1262.3,437.4 1263.9,432.0 1265.4,426.8 1267.0,421.5 1268.6,416.4 1270.1,411.3 1271.7,406.3 1273.2,401.4 1274.8,397.1 1276.4,393.6 1277.9,390.9 1279.5,388.9 1281.0,387.5 1282.6,386.6 1284.2,386.1 1285.7,385.9 1287.3,386.0 1288.9,386.3 1290.4,386.9 1292.0,387.8 1293.5,388.8 1295.1,390.0 1296.7,391.4 1298.2,393.1 1299.8,395.1 1301.3,397.6 1302.9,400.6 1304.5,404.4 1306.0,409.6 1307.6,416.3 1309.1,424.1 1310.7,432.8 1312.3,441.9 1313.8,451.3 1315.4,461.1 1316.9,471.0 1318.5,481.1 1320.1,491.3 1321.6,501.6 1323.2,511.9 1324.8,520.3 1326.3,528.7 1327.9,537.1 1329.4,545.7 1331.0,554.3 1332.6,563.0 1334.1,571.9 1335.7,580.8 1337.2,590.0 1338.8,599.3 1340.4,608.7 1341.9,618.3 1343.5,628.1 1345.0,638.1 1346.6,648.3 1348.2,658.7 1349.7,669.3 1351.3,680.1 1352.8,691.0 1354.4,702.2 1356.0,713.6 1357.5,725.1 1359.1,736.8 1360.7,748.7 1362.2,760.7 1363.8,772.8 1365.3,785.1 1366.9,797.4 1368.5,809.8 1370.0,822.2 1371.6,834.7 1373.1,847.2 1374.7,859.6 1376.3,872.0 1377.8,884.3 1379.4,896.6 1380.9,908.7 1382.5,920.8 1384.1,932.6 1385.6,944.4 1387.2,955.9 1388.7,967.3 1390.3,978.5 1391.9,989.6 1393.4,1000.4 1395.0,1011.0 1396.5,1021.4 1398.1,1031.7 1399.7,1041.7 1401.2,1051.5 1402.8,1061.1 1404.4,1070.6 1405.9,1079.8 1407.5,1088.9 1409.0,1097.7 1410.6,1106.4 1412.2,1115.0 1413.7,1123.3 1415.3,1131.5 1416.8,1139.5 1418.4,1147.4 1420.0,1155.1 1421.5,1162.6 1423.1,1170.1 1424.6,1177.4 1426.2,1184.5 1427.8,1191.6 1429.3,1198.5 1430.9,1205.2 1432.4,1211.9 1434.0,1218.5 1435.6,1224.9 1437.1,1231.3 1438.7,1237.5 1440.3,1243.6 1441.8,1249.7 1443.4,1255.6 1444.9,1260.8 1446.5,1265.7 1448.1,1270.6 1449.6,1275.3 1451.2,1279.9 1452.7,1284.3 1454.3,1288.4 1455.9,1292.3 1457.4,1296.1 1459.0,1299.6 1460.5,1302.9 1462.1,1306.0 1463.7,1308.9 1465.2,1311.7 1466.8,1314.3 1468.3,1316.7 1469.9,1319.0 1471.5,1321.2 1473.0,1323.2 1474.6,1325.1 1476.2,1326.9 1477.7,1328.5 1479.3,1330.1 1480.8,1331.6 1482.4,1333.1 1484.0,1334.4 1485.5,1335.7 1487.1,1337.0 1488.6,1338.1 1490.2,1339.2 1491.8,1340.3 1493.3,1341.3 1494.9,1342.5 1496.4,1343.6 1498.0,1344.7 1499.6,1345.7 1501.1,1346.7 1502.7,1347.6 1504.2,1348.5 1505.8,1349.4 1507.4,1350.2 1508.9,1351.0 1510.5,1351.8 1512.1,1352.5 1513.6,1353.3 1515.2,1354.0 1516.7,1354.6 1518.3,1355.3 1519.9,1355.9 1521.4,1356.5 1523.0,1357.1 1524.5,1357.7 1526.1,1358.3 1527.7,1358.8 1529.2,1359.3 1530.8,1359.9 1532.3,1360.3 1533.9,1360.8 1535.5,1361.3 1537.0,1361.8 1538.6,1362.2 1540.1,1362.6 1541.7,1363.0 1543.3,1363.4 1544.8,1363.8 1546.4,1364.2 1548.0,1364.6 1549.5,1364.9 1551.1,1365.3 1552.6,1365.6 1554.2,1365.9 1555.8,1366.2 1557.3,1366.5 1558.9,1366.8 1560.4,1367.1 1562.0,1367.4 1563.6,1367.6 1565.1,1367.9 1566.7,1368.1 1568.2,1368.4 1569.8,1368.6 1571.4,1368.8 1572.9,1369.0 1574.5,1369.2 1576.0,1369.4 1577.6,1369.5 1579.2,1369.7 1580.7,1369.9 1582.3,1370.0 1583.8,1370.1 1585.4,1370.3 1587.0,1370.4 1588.5,1370.5 1590.1,1370.6 1591.7,1370.8 1593.2,1370.9 1594.8,1370.9 1596.3,1371.0 1597.9,1371.1 1599.5,1371.2 1601.0,1371.3 1602.6,1371.3 1604.1,1371.4 1605.7,1371.4 1607.3,1371.5 1608.8,1371.5 1610.4,1371.6 1611.9,1371.6 1613.5,1371.7 1615.1,1371.7 1616.6,1371.7 1618.2,1371.8 1619.7,1371.8 1621.3,1371.8 1622.9,1371.8 1624.4,1371.8 1626.0,1371.8 1627.6,1371.9 1629.1,1371.9 1630.7,1371.9 1632.2,1371.9 1633.8,1371.9 1635.4,1371.9 1636.9,1371.9 1638.5,1371.9 1640.0,1371.9 1641.6,1371.9 1643.2,1371.9 1644.7,1371.9 1646.3,1372.0 1647.8,1372.0 1649.4,1372.0 1651.0,1372.0 1652.5,1372.0 1654.1,1372.0 1655.6,1372.0 1657.2,1372.0 1658.8,1372.0 1660.3,1372.0 1661.9,1372.0 1663.5,1372.0 1665.0,1372.0 1666.6,1371.9 1668.1,1371.9 1669.7,1371.9 1671.3,1371.9 1672.8,1371.9 1674.4,1371.9 1675.9,1371.9 1677.5,1371.9 1679.1,1371.9 1680.6,1371.9 1682.2,1371.9 1683.7,1371.9 1685.3,1371.8 1686.9,1371.8 1688.4,1371.8 1690.0,1371.8 1691.5,1371.8 1693.1,1371.8 1694.7,1371.7 1696.2,1371.7 1697.8,1371.7 1699.4,1371.7 1700.9,1371.7 1702.5,1371.6 1704.0,1371.6 1705.6,1371.6 1707.2,1371.6 1708.7,1371.5 1710.3,1371.5 1711.8,1371.5 1713.4,1371.5 1715.0,1371.4 1716.5,1371.4 1718.1,1371.4 1719.6,1371.3 1721.2,1371.3 1722.8,1371.3 1724.3,1371.2 1725.9,1371.2 1727.4,1371.2 1729.0,1371.1 1730.6,1371.1 1732.1,1371.0 1733.7,1371.0 1735.2,1370.9 1736.8,1370.9 1738.4,1370.9 1739.9,1370.8 1741.5,1370.8 1743.1,1370.7 1744.6,1370.7 1746.2,1370.6 1747.7,1370.6 1749.3,1370.5 1750.9,1370.5 1752.4,1370.4 1754.0,1370.3 1755.5,1370.3 1757.1,1370.2 1758.7,1370.2 1760.2,1370.1 1761.8,1370.0 1763.3,1370.0 1764.9,1369.9 1766.5,1369.8 1768.0,1369.8 1769.6,1369.7 1771.1,1369.6 1772.7,1369.6 1774.3,1369.5 1775.8,1369.4 1777.4,1369.4 1779.0,1369.3 1780.5,1369.2 1782.1,1369.1 1783.6,1369.0 1785.2,1369.0 1786.8,1368.9 1788.3,1368.8 1789.9,1368.7 1791.4,1368.6 1793.0,1368.6 1794.6,1368.5 1796.1,1368.4 1797.7,1368.3 1799.2,1368.2 1800.8,1368.1 1802.4,1368.0 1803.9,1368.0 1805.5,1367.9 1807.0,1367.8 1808.6,1367.7 1810.2,1367.6 1811.7,1367.5 1813.3,1367.4 1814.9,1367.3 1816.4,1367.2 1818.0,1367.1 1819.5,1367.0 1821.1,1366.9 1822.7,1366.8 1824.2,1366.7 1825.8,1366.6 1827.3,1366.5 1828.9,1366.4 1830.5,1366.3 1832.0,1366.2 1833.6,1366.1 1835.1,1366.0 1836.7,1365.9 1838.3,1365.8 1839.8,1365.7 1841.4,1365.6 1842.9,1365.5 1844.5,1365.4 1846.1,1365.3 1847.6,1365.2 1849.2,1365.1 1850.8,1365.1 1852.3,1365.0 1853.9,1364.9 1855.4,1364.8 1857.0,1364.7 1858.6,1364.6 1860.1,1364.5 1861.7,1364.4 1863.2,1364.3 1864.8,1364.2 1866.4,1364.1 1867.9,1364.0 1869.5,1363.9 1871.0,1363.8 1872.6,1363.7 1874.2,1363.6 1875.7,1363.5 1877.3,1363.5 1878.8,1363.4 1880.4,1363.3 1882.0,1363.2 1883.5,1363.1 1885.1,1363.0 1886.7,1363.0 1888.2,1362.9 1889.8,1362.8 1891.3,1362.7 1892.9,1362.7 1894.5,1362.6 1896.0,1362.5 1897.6,1362.5 1899.1,1362.4 1900.7,1362.3 1902.3,1362.3 1903.8,1362.2 1905.4,1362.1 1906.9,1362.1 1908.5,1362.0 1910.1,1362.0 1911.6,1361.9 1913.2,1361.9 1914.7,1361.8 1916.3,1361.8 1917.9,1361.7 1919.4,1361.7 1921.0,1361.7 1922.5,1361.6 1924.1,1361.6 1925.7,1361.6 1927.2,1361.5 1928.8,1361.5 1930.4,1361.5 1931.9,1361.4 1933.5,1361.4 1935.0,1361.4 1936.6,1361.4 1938.2,1361.4 1939.7,1361.4 1941.3,1361.4 1942.8,1361.4 1944.4,1361.4 1946.0,1361.4 1947.5,1361.4 1949.1,1361.4 1950.6,1361.4 1952.2,1361.4 1953.8,1361.4 1955.3,1361.4 1956.9,1361.4 1958.4,1361.5 1960.0,1361.5 1961.6,1361.5 1963.1,1361.5 1964.7,1361.6 1966.3,1361.6 1967.8,1361.6 1969.4,1361.7 1970.9,1361.7 1972.5,1361.8 1974.1,1361.8 1975.6,1361.8 1977.2,1361.9 1978.7,1362.0 1980.3,1362.0 1981.9,1362.1 1983.4,1362.1 1985.0,1362.2 1986.5,1362.3 1988.1,1362.3 1989.7,1362.4 1991.2,1362.5 1992.8,1362.5 1994.3,1362.6 1995.9,1362.7 1997.5,1362.8 1999.0,1362.9 2000.6,1363.0 2002.2,1363.0 2003.7,1363.1 2005.3,1363.2 2006.8,1363.3 2008.4,1363.4 2010.0,1363.5 2011.5,1363.6 2013.1,1363.7 2014.6,1363.8 2016.2,1363.9 2017.8,1364.0 2019.3,1364.1 2020.9,1364.2 2022.4,1364.4 2024.0,1364.5 2025.6,1364.6 2027.1,1364.7 2028.7,1364.8 2030.2,1364.9 2031.8,1365.1 2033.4,1365.2 2034.9,1365.3 2036.5,1365.4 2038.1,1365.5 2039.6,1365.7 2041.2,1365.8 2042.7,1365.9 2044.3,1366.1 2045.9,1366.2 2047.4,1366.3 2049.0,1366.4 2050.5,1366.6 2052.1,1366.7 2053.7,1366.8 2055.2,1367.0 2056.8,1367.1 2058.3,1367.3 2059.9,1367.4 2061.5,1367.5 2063.0,1367.7 2064.6,1367.8 2066.1,1367.9 2067.7,1368.1 2069.3,1368.2 2070.8,1368.4 2072.4,1368.5 2074.0,1368.6 2075.5,1368.8 2077.1,1368.9 2078.6,1369.0 2080.2,1369.2 2081.8,1369.3 2083.3,1369.5 2084.9,1369.6 2086.4,1369.7 2088.0,1369.9 2089.6,1370.0 2091.1,1370.2 2092.7,1370.3 2094.2,1370.4 2095.8,1370.6 2097.4,1370.7 2098.9,1370.8 2100.5,1371.0 2102.0,1371.1 2103.6,1371.3 2105.2,1371.4 2106.7,1371.5 2108.3,1371.7 2109.8,1371.8 2111.4,1371.9 2113.0,1372.1 2114.5,1372.2 2116.1,1372.3 2117.7,1372.5 2119.2,1372.6 2120.8,1372.7 2122.3,1372.8 2123.9,1373.0 2125.5,1373.1 2127.0,1373.2 2128.6,1373.4 2130.1,1373.5 2131.7,1373.6 2133.3,1373.7 2134.8,1373.9 2136.4,1374.0 2137.9,1374.1 2139.5,1374.2 2141.1,1374.4 2142.6,1374.5 2144.2,1374.6 2145.7,1374.7 2147.3,1374.8 2148.9,1375.0 2150.4,1375.1 2152.0,1375.2 2153.6,1375.3 2155.1,1375.4 2156.7,1375.5 2158.2,1375.7 2159.8,1375.8 2161.4,1375.9 2162.9,1376.0 2164.5,1376.1 2166.0,1376.2 2167.6,1376.3 2169.2,1376.5 2170.7,1376.6 2172.3,1376.7 2173.8,1376.8 2175.4,1376.9 2177.0,1377.0 2178.5,1377.1 2180.1,1377.2 2181.6,1377.3 2183.2,1377.4 2184.8,1377.5 2186.3,1377.6 2187.9,1377.7 2189.5,1377.9 2191.0,1378.0 2192.6,1378.0 2194.1,1378.1 2195.7,1378.1 2197.3,1378.2 2198.8,1378.2 2200.4,1378.2 2201.9,1378.3 2203.5,1378.3" stroke="#e6a6c6" stroke-width="7"/>
<polyline points="330.5,1354.7 332.1,1354.7 333.6,1354.6 335.2,1354.5 336.7,1354.5 338.3,1354.5 339.9,1354.4 341.4,1354.4 343.0,1354.4 344.5,1354.3 346.1,1354.3 347.7,1354.3 349.2,1354.3 350.8,1354.3 352.4,1354.3 353.9,1354.3 355.5,1354.3 357.0,1354.4 358.6,1354.4 360.2,1354.4 361.7,1354.4 363.3,1354.5 364.8,1354.5 366.4,1354.6 368.0,1354.6 369.5,1354.7 371.1,1354.7 372.6,1354.8 374.2,1354.8 375.8,1354.9 377.3,1355.0 378.9,1355.1 380.4,1355.1 382.0,1355.2 383.6,1355.3 385.1,1355.4 386.7,1355.5 388.3,1355.6 389.8,1355.7 391.4,1355.8 392.9,1355.9 394.5,1356.0 396.1,1356.2 397.6,1356.3 399.2,1356.4 400.7,1356.5 402.3,1356.7 403.9,1356.8 405.4,1356.9 407.0,1357.1 408.5,1357.2 410.1,1357.3 411.7,1357.5 413.2,1357.6 414.8,1357.8 416.3,1357.9 417.9,1358.1 419.5,1358.3 421.0,1358.4 422.6,1358.6 424.1,1358.7 425.7,1358.9 427.3,1359.1 428.8,1359.3 430.4,1359.4 432.0,1359.6 433.5,1359.8 435.1,1359.9 436.6,1360.1 438.2,1360.3 439.8,1360.5 441.3,1360.7 442.9,1360.8 444.4,1361.0 446.0,1361.2 447.6,1361.4 449.1,1361.6 450.7,1361.7 452.2,1361.9 453.8,1362.1 455.4,1362.3 456.9,1362.5 458.5,1362.7 460.0,1362.9 461.6,1363.1 463.2,1363.3 464.7,1363.5 466.3,1363.7 467.9,1363.8 469.4,1364.0 471.0,1364.2 472.5,1364.4 474.1,1364.6 475.7,1364.8 477.2,1365.0 478.8,1365.2 480.3,1365.4 481.9,1365.6 483.5,1365.8 485.0,1366.0 486.6,1366.2 488.1,1366.4 489.7,1366.6 491.3,1366.8 492.8,1367.0 494.4,1367.2 495.9,1367.3 497.5,1367.5 499.1,1367.7 500.6,1367.9 502.2,1368.1 503.8,1368.3 505.3,1368.5 506.9,1368.7 508.4,1368.9 510.0,1369.0 511.6,1369.2 513.1,1369.4 514.7,1369.6 516.2,1369.8 517.8,1369.9 519.4,1370.1 520.9,1370.3 522.5,1370.5 524.0,1370.6 525.6,1370.8 527.2,1371.0 528.7,1371.1 530.3,1371.3 531.8,1371.5 533.4,1371.6 535.0,1371.8 536.5,1371.9 538.1,1372.1 539.7,1372.2 541.2,1372.4 542.8,1372.5 544.3,1372.7 545.9,1372.8 547.5,1373.0 549.0,1373.1 550.6,1373.2 552.1,1373.4 553.7,1373.5 555.3,1373.6 556.8,1373.8 558.4,1373.9 559.9,1374.0 561.5,1374.1 563.1,1374.2 564.6,1374.3 566.2,1374.4 567.7,1374.5 569.3,1374.6 570.9,1374.7 572.4,1374.8 574.0,1374.9 575.6,1375.0 577.1,1375.1 578.7,1375.2 580.2,1375.2 581.8,1375.3 583.4,1375.4 584.9,1375.5 586.5,1375.5 588.0,1375.6 589.6,1375.6 591.2,1375.7 592.7,1375.7 594.3,1375.8 595.8,1375.8 597.4,1375.8 599.0,1375.9 600.5,1375.9 602.1,1375.9 603.6,1375.9 605.2,1375.9 606.8,1375.9 608.3,1375.9 609.9,1375.9 611.5,1375.9 613.0,1375.9 614.6,1375.9 616.1,1375.9 617.7,1375.9 619.3,1375.8 620.8,1375.8 622.4,1375.8 623.9,1375.7 625.5,1375.7 627.1,1375.6 628.6,1375.5 630.2,1375.5 631.7,1375.4 633.3,1375.3 634.9,1375.2 636.4,1375.1 638.0,1375.0 639.5,1374.9 641.1,1374.8 642.7,1374.7 644.2,1374.6 645.8,1374.5 647.3,1374.3 648.9,1374.2 650.5,1374.0 652.0,1373.9 653.6,1373.7 655.2,1373.5 656.7,1373.4 658.3,1373.2 659.8,1373.0 661.4,1372.8 663.0,1372.6 664.5,1372.4 666.1,1372.2 667.6,1371.9 669.2,1371.7 670.8,1371.5 672.3,1371.2 673.9,1371.0 675.4,1370.7 677.0,1370.4 678.6,1370.1 680.1,1369.8 681.7,1369.6 683.2,1369.2 684.8,1368.9 686.4,1368.6 687.9,1368.3 689.5,1368.0 691.1,1367.6 692.6,1367.3 694.2,1366.9 695.7,1366.6 697.3,1366.2 698.9,1365.8 700.4,1365.4 702.0,1365.0 703.5,1364.6 705.1,1364.1 706.7,1363.7 708.2,1363.3 709.8,1362.8 711.3,1362.3 712.9,1361.9 714.5,1361.4 716.0,1360.9 717.6,1360.4 719.1,1360.0 720.7,1359.5 722.3,1359.0 723.8,1358.4 725.4,1357.9 727.0,1357.4 728.5,1356.9 730.1,1356.3 731.6,1355.8 733.2,1355.2 734.8,1354.7 736.3,1354.1 737.9,1353.6 739.4,1353.0 741.0,1352.4 742.6,1351.8 744.1,1351.3 745.7,1350.7 747.2,1350.1 748.8,1349.5 750.4,1348.9 751.9,1348.2 753.5,1347.6 755.0,1347.0 756.6,1346.4 758.2,1345.8 759.7,1345.1 761.3,1344.5 762.9,1343.8 764.4,1343.2 766.0,1342.5 767.5,1341.9 769.1,1341.2 770.7,1340.6 772.2,1339.9 773.8,1339.2 775.3,1338.5 776.9,1337.9 778.5,1337.2 780.0,1336.5 781.6,1335.9 783.1,1335.2 784.7,1334.6 786.3,1333.9 787.8,1333.3 789.4,1332.6 790.9,1332.0 792.5,1331.3 794.1,1330.7 795.6,1330.0 797.2,1329.3 798.8,1328.6 800.3,1327.9 801.9,1327.3 803.4,1326.6 805.0,1325.9 806.6,1325.2 808.1,1324.5 809.7,1323.8 811.2,1323.1 812.8,1322.3 814.4,1321.6 815.9,1320.9 817.5,1320.2 819.0,1319.4 820.6,1318.7 822.2,1318.0 823.7,1317.2 825.3,1316.4 826.8,1315.7 828.4,1314.9 830.0,1314.2 831.5,1313.4 833.1,1312.6 834.6,1311.8 836.2,1311.0 837.8,1310.2 839.3,1309.4 840.9,1308.6 842.5,1307.8 844.0,1306.9 845.6,1306.1 847.1,1305.3 848.7,1304.4 850.3,1303.6 851.8,1302.7 853.4,1301.8 854.9,1301.0 856.5,1300.1 858.1,1299.2 859.6,1298.3 861.2,1297.4 862.7,1296.4 864.3,1295.5 865.9,1294.6 867.4,1293.6 869.0,1292.7 870.5,1291.7 872.1,1290.7 873.7,1289.8 875.2,1288.8 876.8,1287.8 878.4,1286.8 879.9,1285.7 881.5,1284.7 883.0,1283.6 884.6,1282.6 886.2,1281.5 887.7,1280.4 889.3,1279.3 890.8,1278.2 892.4,1277.1 894.0,1275.9 895.5,1274.8 897.1,1273.6 898.6,1272.4 900.2,1271.2 901.8,1270.0 903.3,1268.8 904.9,1267.5 906.4,1266.3 908.0,1265.0 909.6,1263.7 911.1,1262.4 912.7,1261.0 914.3,1259.7 915.8,1258.3 917.4,1256.9 918.9,1255.4 920.5,1254.0 922.1,1252.5 923.6,1251.0 925.2,1249.4 926.7,1247.9 928.3,1246.3 929.9,1244.7 931.4,1243.0 933.0,1241.3 934.5,1239.6 936.1,1237.8 937.7,1236.0 939.2,1234.2 940.8,1232.3 942.3,1230.3 943.9,1228.3 945.5,1226.3 947.0,1224.2 948.6,1222.0 950.2,1219.8 951.7,1217.6 953.3,1215.3 954.8,1212.9 956.4,1210.4 958.0,1207.9 959.5,1205.3 961.1,1202.5 962.6,1199.6 964.2,1196.7 965.8,1193.7 967.3,1190.6 968.9,1187.4 970.4,1184.2 972.0,1181.0 973.6,1177.6 975.1,1174.3 976.7,1170.8 978.2,1167.3 979.8,1163.8 981.4,1160.3 982.9,1156.7 984.5,1153.1 986.0,1149.4 987.6,1145.8 989.2,1142.1 990.7,1138.4 992.3,1134.8 993.9,1131.2 995.4,1127.5 997.0,1124.0 998.5,1120.4 1000.1,1116.9 1001.7,1113.4 1003.2,1110.0 1004.8,1106.6 1006.3,1103.3 1007.9,1100.0 1009.5,1096.8 1011.0,1093.6 1012.6,1090.6 1014.1,1087.5 1015.7,1084.6 1017.3,1081.7 1018.8,1078.9 1020.4,1076.1 1021.9,1073.4 1023.5,1070.8 1025.1,1068.3 1026.6,1065.8 1028.2,1063.4 1029.8,1061.0 1031.3,1058.7 1032.9,1056.4 1034.4,1054.2 1036.0,1052.1 1037.6,1050.0 1039.1,1048.0 1040.7,1046.1 1042.2,1044.1 1043.8,1042.3 1045.4,1040.5 1046.9,1038.7 1048.5,1037.0 1050.0,1035.3 1051.6,1033.6 1053.2,1032.0 1054.7,1030.4 1056.3,1028.8 1057.8,1027.3 1059.4,1025.8 1061.0,1024.3 1062.5,1022.8 1064.1,1021.3 1065.7,1019.9 1067.2,1018.4 1068.8,1017.0 1070.3,1015.6 1071.9,1014.2 1073.5,1012.8 1075.0,1011.5 1076.6,1010.1 1078.1,1008.7 1079.7,1007.4 1081.3,1006.0 1082.8,1004.7 1084.4,1003.4 1085.9,1002.0 1087.5,1000.7 1089.1,999.3 1090.6,998.0 1092.2,996.6 1093.7,995.3 1095.3,993.9 1096.9,992.6 1098.4,991.2 1100.0,989.8 1101.6,988.4 1103.1,987.0 1104.7,985.6 1106.2,984.1 1107.8,982.6 1109.4,981.1 1110.9,979.6 1112.5,978.1 1114.0,976.5 1115.6,974.8 1117.2,973.2 1118.7,971.4 1120.3,969.7 1121.8,967.8 1123.4,965.9 1125.0,964.0 1126.5,961.9 1128.1,959.8 1129.6,957.6 1131.2,955.3 1132.8,953.0 1134.3,950.5 1135.9,948.0 1137.5,945.3 1139.0,942.5 1140.6,939.6 1142.1,936.5 1143.7,933.3 1145.3,930.0 1146.8,926.5 1148.4,922.8 1149.9,918.9 1151.5,914.8 1153.1,910.5 1154.6,905.9 1156.2,901.1 1157.7,896.0 1159.3,890.7 1160.9,885.1 1162.4,879.1 1164.0,872.9 1165.5,866.5 1167.1,859.8 1168.7,852.9 1170.2,845.9 1171.8,838.8 1173.3,831.5 1174.9,824.2 1176.5,816.8 1178.0,809.3 1179.6,801.7 1181.2,794.0 1182.7,786.2 1184.3,778.3 1185.8,770.3 1187.4,762.2 1189.0,754.0 1190.5,745.8 1192.1,737.5 1193.6,729.2 1195.2,720.8 1196.8,712.3 1198.3,703.8 1199.9,695.3 1201.4,686.8 1203.0,678.2 1204.6,669.7 1206.1,661.2 1207.7,652.7 1209.2,644.2 1210.8,635.7 1212.4,627.4 1213.9,619.0 1215.5,610.7 1217.1,602.6 1218.6,594.4 1220.2,586.4 1221.7,578.4 1223.3,570.6 1224.9,562.8 1226.4,555.1 1228.0,547.6 1229.5,540.1 1231.1,532.7 1232.7,525.5 1234.2,518.3 1235.8,511.2 1237.3,504.2 1238.9,497.4 1240.5,490.6 1242.0,483.9 1243.6,477.2 1245.1,470.6 1246.7,464.1 1248.3,457.7 1249.8,451.4 1251.4,445.2 1253.0,439.1 1254.5,433.0 1256.1,427.1 1257.6,421.2 1259.2,415.4 1260.8,409.7 1262.3,404.1 1263.9,398.5 1265.4,393.1 1267.0,387.7 1268.6,382.4 1270.1,377.1 1271.7,371.9 1273.2,366.8 1274.8,362.3 1276.4,358.7 1277.9,355.9 1279.5,353.9 1281.0,352.4 1282.6,351.5 1284.2,351.0 1285.7,350.7 1287.3,350.8 1288.9,351.2 1290.4,351.7 1292.0,352.5 1293.5,353.5 1295.1,354.6 1296.7,356.0 1298.2,357.6 1299.8,359.4 1301.3,361.7 1302.9,364.5 1304.5,368.0 1306.0,372.6 1307.6,378.4 1309.1,385.3 1310.7,393.1 1312.3,401.4 1313.8,410.2 1315.4,419.6 1316.9,429.3 1318.5,439.2 1320.1,449.2 1321.6,459.4 1323.2,469.5 1324.8,478.1 1326.3,486.8 1327.9,495.5 1329.4,504.2 1331.0,513.1 1332.6,522.0 1334.1,531.0 1335.7,540.1 1337.2,549.4 1338.8,558.8 1340.4,568.4 1341.9,578.1 1343.5,588.0 1345.0,598.1 1346.6,608.4 1348.2,618.8 1349.7,629.5 1351.3,640.4 1352.8,651.4 1354.4,662.7 1356.0,674.2 1357.5,685.8 1359.1,697.7 1360.7,709.7 1362.2,721.9 1363.8,734.3 1365.3,746.7 1366.9,759.3 1368.5,772.0 1370.0,784.8 1371.6,797.6 1373.1,810.4 1374.7,823.3 1376.3,836.2 1377.8,849.0 1379.4,861.8 1380.9,874.4 1382.5,887.0 1384.1,899.5 1385.6,911.9 1387.2,924.0 1388.7,936.1 1390.3,947.9 1391.9,959.6 1393.4,971.1 1395.0,982.4 1396.5,993.5 1398.1,1004.3 1399.7,1015.0 1401.2,1025.5 1402.8,1035.7 1404.4,1045.8 1405.9,1055.6 1407.5,1065.3 1409.0,1074.7 1410.6,1084.0 1412.2,1093.0 1413.7,1101.9 1415.3,1110.6 1416.8,1119.2 1418.4,1127.6 1420.0,1135.8 1421.5,1143.8 1423.1,1151.7 1424.6,1159.5 1426.2,1167.1 1427.8,1174.5 1429.3,1181.9 1430.9,1189.1 1432.4,1196.1 1434.0,1203.1 1435.6,1209.9 1437.1,1216.6 1438.7,1223.2 1440.3,1229.7 1441.8,1236.1 1443.4,1242.4 1444.9,1248.2 1446.5,1253.7 1448.1,1259.2 1449.6,1264.6 1451.2,1269.8 1452.7,1274.8 1454.3,1279.6 1455.9,1284.2 1457.4,1288.6 1459.0,1292.9 1460.5,1296.9 1462.1,1300.8 1463.7,1304.5 1465.2,1308.0 1466.8,1311.2 1468.3,1314.3 1469.9,1317.1 1471.5,1319.8 1473.0,1322.3 1474.6,1324.7 1476.2,1326.9 1477.7,1329.0 1479.3,1330.9 1480.8,1332.8 1482.4,1334.6 1484.0,1336.2 1485.5,1337.8 1487.1,1339.3 1488.6,1340.7 1490.2,1342.0 1491.8,1343.3 1493.3,1344.6 1494.9,1345.9 1496.4,1347.1 1498.0,1348.3 1499.6,1349.4 1501.1,1350.5 1502.7,1351.5 1504.2,1352.5 1505.8,1353.4 1507.4,1354.4 1508.9,1355.2 1510.5,1356.1 1512.1,1356.9 1513.6,1357.7 1515.2,1358.4 1516.7,1359.2 1518.3,1359.9 1519.9,1360.6 1521.4,1361.2 1523.0,1361.9 1524.5,1362.5 1526.1,1363.1 1527.7,1363.7 1529.2,1364.3 1530.8,1364.8 1532.3,1365.4 1533.9,1365.9 1535.5,1366.4 1537.0,1366.9 1538.6,1367.4 1540.1,1367.9 1541.7,1368.3 1543.3,1368.7 1544.8,1369.2 1546.4,1369.6 1548.0,1370.0 1549.5,1370.4 1551.1,1370.7 1552.6,1371.1 1554.2,1371.5 1555.8,1371.8 1557.3,1372.1 1558.9,1372.4 1560.4,1372.7 1562.0,1373.0 1563.6,1373.3 1565.1,1373.6 1566.7,1373.9 1568.2,1374.1 1569.8,1374.4 1571.4,1374.6 1572.9,1374.8 1574.5,1375.0 1576.0,1375.2 1577.6,1375.4 1579.2,1375.6 1580.7,1375.8 1582.3,1376.0 1583.8,1376.1 1585.4,1376.3 1587.0,1376.4 1588.5,1376.6 1590.1,1376.7 1591.7,1376.8 1593.2,1376.9 1594.8,1377.0 1596.3,1377.1 1597.9,1377.2 1599.5,1377.3 1601.0,1377.4 1602.6,1377.5 1604.1,1377.6 1605.7,1377.6 1607.3,1377.7 1608.8,1377.7 1610.4,1377.8 1611.9,1377.9 1613.5,1377.9 1615.1,1377.9 1616.6,1378.0 1618.2,1378.0 1619.7,1378.0 1621.3,1378.1 1622.9,1378.1 1624.4,1378.1 1626.0,1378.1 1627.6,1378.2 1629.1,1378.2 1630.7,1378.2 1632.2,1378.2 1633.8,1378.2 1635.4,1378.2 1636.9,1378.2 1638.5,1378.2 1640.0,1378.3 1641.6,1378.3 1643.2,1378.3 1644.7,1378.3 1646.3,1378.3 1647.8,1378.3 1649.4,1378.3 1651.0,1378.3 1652.5,1378.3 1654.1,1378.3 1655.6,1378.3 1657.2,1378.3 1658.8,1378.3 1660.3,1378.3 1661.9,1378.3 1663.5,1378.3 1665.0,1378.3 1666.6,1378.3 1668.1,1378.3 1669.7,1378.3 1671.3,1378.3 1672.8,1378.3 1674.4,1378.3 1675.9,1378.3 1677.5,1378.3 1679.1,1378.3 1680.6,1378.3 1682.2,1378.3 1683.7,1378.3 1685.3,1378.3 1686.9,1378.2 1688.4,1378.2 1690.0,1378.2 1691.5,1378.2 1693.1,1378.2 1694.7,1378.2 1696.2,1378.2 1697.8,1378.2 1699.4,1378.1 1700.9,1378.1 1702.5,1378.1 1704.0,1378.1 1705.6,1378.1 1707.2,1378.0 1708.7,1378.0 1710.3,1378.0 1711.8,1378.0 1713.4,1377.9 1715.0,1377.9 1716.5,1377.9 1718.1,1377.8 1719.6,1377.8 1721.2,1377.8 1722.8,1377.8 1724.3,1377.7 1725.9,1377.7 1727.4,1377.7 1729.0,1377.6 1730.6,1377.6 1732.1,1377.5 1733.7,1377.5 1735.2,1377.5 1736.8,1377.4 1738.4,1377.4 1739.9,1377.3 1741.5,1377.3 1743.1,1377.2 1744.6,1377.2 1746.2,1377.1 1747.7,1377.1 1749.3,1377.0 1750.9,1377.0 1752.4,1376.9 1754.0,1376.9 1755.5,1376.8 1757.1,1376.8 1758.7,1376.7 1760.2,1376.7 1761.8,1376.6 1763.3,1376.5 1764.9,1376.5 1766.5,1376.4 1768.0,1376.4 1769.6,1376.3 1771.1,1376.2 1772.7,1376.2 1774.3,1376.1 1775.8,1376.0 1777.4,1375.9 1779.0,1375.9 1780.5,1375.8 1782.1,1375.7 1783.6,1375.6 1785.2,1375.6 1786.8,1375.5 1788.3,1375.4 1789.9,1375.3 1791.4,1375.3 1793.0,1375.2 1794.6,1375.1 1796.1,1375.0 1797.7,1374.9 1799.2,1374.8 1800.8,1374.8 1802.4,1374.7 1803.9,1374.6 1805.5,1374.5 1807.0,1374.4 1808.6,1374.3 1810.2,1374.2 1811.7,1374.1 1813.3,1374.1 1814.9,1374.0 1816.4,1373.9 1818.0,1373.8 1819.5,1373.7 1821.1,1373.6 1822.7,1373.5 1824.2,1373.4 1825.8,1373.3 1827.3,1373.2 1828.9,1373.1 1830.5,1373.0 1832.0,1372.9 1833.6,1372.8 1835.1,1372.7 1836.7,1372.6 1838.3,1372.5 1839.8,1372.4 1841.4,1372.3 1842.9,1372.2 1844.5,1372.1 1846.1,1372.1 1847.6,1372.0 1849.2,1371.9 1850.8,1371.8 1852.3,1371.7 1853.9,1371.6 1855.4,1371.5 1857.0,1371.4 1858.6,1371.3 1860.1,1371.2 1861.7,1371.1 1863.2,1371.0 1864.8,1370.9 1866.4,1370.8 1867.9,1370.7 1869.5,1370.7 1871.0,1370.6 1872.6,1370.5 1874.2,1370.4 1875.7,1370.3 1877.3,1370.2 1878.8,1370.1 1880.4,1370.1 1882.0,1370.0 1883.5,1369.9 1885.1,1369.8 1886.7,1369.7 1888.2,1369.7 1889.8,1369.6 1891.3,1369.5 1892.9,1369.4 1894.5,1369.4 1896.0,1369.3 1897.6,1369.2 1899.1,1369.2 1900.7,1369.1 1902.3,1369.1 1903.8,1369.0 1905.4,1368.9 1906.9,1368.9 1908.5,1368.8 1910.1,1368.8 1911.6,1368.7 1913.2,1368.7 1914.7,1368.6 1916.3,1368.6 1917.9,1368.6 1919.4,1368.5 1921.0,1368.5 1922.5,1368.4 1924.1,1368.4 1925.7,1368.4 1927.2,1368.4 1928.8,1368.3 1930.4,1368.3 1931.9,1368.3 1933.5,1368.3 1935.0,1368.3 1936.6,1368.3 1938.2,1368.2 1939.7,1368.2 1941.3,1368.2 1942.8,1368.2 1944.4,1368.2 1946.0,1368.2 1947.5,1368.2 1949.1,1368.2 1950.6,1368.3 1952.2,1368.3 1953.8,1368.3 1955.3,1368.3 1956.9,1368.3 1958.4,1368.3 1960.0,1368.4 1961.6,1368.4 1963.1,1368.4 1964.7,1368.5 1966.3,1368.5 1967.8,1368.5 1969.4,1368.6 1970.9,1368.6 1972.5,1368.7 1974.1,1368.7 1975.6,1368.8 1977.2,1368.8 1978.7,1368.9 1980.3,1368.9 1981.9,1369.0 1983.4,1369.1 1985.0,1369.1 1986.5,1369.2 1988.1,1369.3 1989.7,1369.3 1991.2,1369.4 1992.8,1369.5 1994.3,1369.6 1995.9,1369.7 1997.5,1369.7 1999.0,1369.8 2000.6,1369.9 2002.2,1370.0 2003.7,1370.1 2005.3,1370.2 2006.8,1370.3 2008.4,1370.4 2010.0,1370.5 2011.5,1370.6 2013.1,1370.7 2014.6,1370.8 2016.2,1370.9 2017.8,1371.0 2019.3,1371.1 2020.9,1371.3 2022.4,1371.4 2024.0,1371.5 2025.6,1371.6 2027.1,1371.7 2028.7,1371.8 2030.2,1372.0 2031.8,1372.1 2033.4,1372.2 2034.9,1372.3 2036.5,1372.5 2038.1,1372.6 2039.6,1372.7 2041.2,1372.8 2042.7,1373.0 2044.3,1373.1 2045.9,1373.2 2047.4,1373.4 2049.0,1373.5 2050.5,1373.6 2052.1,1373.8 2053.7,1373.9 2055.2,1374.1 2056.8,1374.2 2058.3,1374.3 2059.9,1374.5 2061.5,1374.6 2063.0,1374.8 2064.6,1374.9 2066.1,1375.0 2067.7,1375.2 2069.3,1375.3 2070.8,1375.5 2072.4,1375.6 2074.0,1375.7 2075.5,1375.9 2077.1,1376.0 2078.6,1376.2 2080.2,1376.3 2081.8,1376.5 2083.3,1376.6 2084.9,1376.7 2086.4,1376.9 2088.0,1377.0 2089.6,1377.2 2091.1,1377.3 2092.7,1377.4 2094.2,1377.6 2095.8,1377.7 2097.4,1377.9 2098.9,1378.0 2100.5,1378.1 2102.0,1378.3 2103.6,1378.4 2105.2,1378.6 2106.7,1378.7 2108.3,1378.8 2109.8,1379.0 2111.4,1379.1 2113.0,1379.3 2114.5,1379.4 2116.1,1379.5 2117.7,1379.7 2119.2,1379.8 2120.8,1379.9 2122.3,1380.1 2123.9,1380.2 2125.5,1380.3 2127.0,1380.5 2128.6,1380.6 2130.1,1380.7 2131.7,1380.9 2133.3,1381.0 2134.8,1381.1 2136.4,1381.2 2137.9,1381.4 2139.5,1381.5 2141.1,1381.6 2142.6,1381.7 2144.2,1381.9 2145.7,1382.0 2147.3,1382.1 2148.9,1382.2 2150.4,1382.4 2152.0,1382.5 2153.6,1382.6 2155.1,1382.7 2156.7,1382.8 2158.2,1383.0 2159.8,1383.1 2161.4,1383.2 2162.9,1383.3 2164.5,1383.4 2166.0,1383.6 2167.6,1383.7 2169.2,1383.8 2170.7,1383.9 2172.3,1384.0 2173.8,1384.1 2175.4,1384.2 2177.0,1384.3 2178.5,1384.5 2180.1,1384.6 2181.6,1384.7 2183.2,1384.8 2184.8,1384.9 2186.3,1385.0 2187.9,1385.1 2189.5,1385.2 2191.0,1385.3 2192.6,1385.4 2194.1,1385.5 2195.7,1385.5 2197.3,1385.6 2198.8,1385.7 2200.4,1385.7 2201.9,1385.8 2203.5,1385.8" stroke="#a81e54" stroke-width="8"/>
<polyline points="330.5,1358.4 332.1,1358.4 333.6,1358.3 335.2,1358.3 336.7,1358.2 338.3,1358.2 339.9,1358.2 341.4,1358.1 343.0,1358.1 344.5,1358.1 346.1,1358.1 347.7,1358.1 349.2,1358.1 350.8,1358.1 352.4,1358.1 353.9,1358.1 355.5,1358.1 357.0,1358.1 358.6,1358.2 360.2,1358.2 361.7,1358.2 363.3,1358.3 364.8,1358.3 366.4,1358.4 368.0,1358.4 369.5,1358.5 371.1,1358.5 372.6,1358.6 374.2,1358.7 375.8,1358.8 377.3,1358.8 378.9,1358.9 380.4,1359.0 382.0,1359.1 383.6,1359.2 385.1,1359.3 386.7,1359.4 388.3,1359.5 389.8,1359.6 391.4,1359.7 392.9,1359.8 394.5,1359.9 396.1,1360.1 397.6,1360.2 399.2,1360.3 400.7,1360.4 402.3,1360.6 403.9,1360.7 405.4,1360.9 407.0,1361.0 408.5,1361.1 410.1,1361.3 411.7,1361.4 413.2,1361.6 414.8,1361.8 416.3,1361.9 417.9,1362.1 419.5,1362.2 421.0,1362.4 422.6,1362.6 424.1,1362.7 425.7,1362.9 427.3,1363.1 428.8,1363.3 430.4,1363.5 432.0,1363.6 433.5,1363.8 435.1,1364.0 436.6,1364.2 438.2,1364.3 439.8,1364.5 441.3,1364.7 442.9,1364.9 444.4,1365.1 446.0,1365.3 447.6,1365.5 449.1,1365.7 450.7,1365.9 452.2,1366.0 453.8,1366.2 455.4,1366.4 456.9,1366.6 458.5,1366.8 460.0,1367.0 461.6,1367.2 463.2,1367.4 464.7,1367.6 466.3,1367.8 467.9,1368.0 469.4,1368.2 471.0,1368.4 472.5,1368.6 474.1,1368.8 475.7,1369.0 477.2,1369.2 478.8,1369.4 480.3,1369.6 481.9,1369.8 483.5,1370.1 485.0,1370.3 486.6,1370.5 488.1,1370.7 489.7,1370.9 491.3,1371.1 492.8,1371.3 494.4,1371.5 495.9,1371.7 497.5,1371.9 499.1,1372.1 500.6,1372.3 502.2,1372.4 503.8,1372.6 505.3,1372.8 506.9,1373.0 508.4,1373.2 510.0,1373.4 511.6,1373.6 513.1,1373.8 514.7,1374.0 516.2,1374.2 517.8,1374.4 519.4,1374.5 520.9,1374.7 522.5,1374.9 524.0,1375.1 525.6,1375.2 527.2,1375.4 528.7,1375.6 530.3,1375.8 531.8,1375.9 533.4,1376.1 535.0,1376.3 536.5,1376.4 538.1,1376.6 539.7,1376.7 541.2,1376.9 542.8,1377.1 544.3,1377.2 545.9,1377.4 547.5,1377.5 549.0,1377.6 550.6,1377.8 552.1,1377.9 553.7,1378.1 555.3,1378.2 556.8,1378.3 558.4,1378.4 559.9,1378.6 561.5,1378.7 563.1,1378.8 564.6,1378.9 566.2,1379.0 567.7,1379.1 569.3,1379.3 570.9,1379.4 572.4,1379.5 574.0,1379.5 575.6,1379.6 577.1,1379.7 578.7,1379.8 580.2,1379.9 581.8,1380.0 583.4,1380.0 584.9,1380.1 586.5,1380.2 588.0,1380.2 589.6,1380.3 591.2,1380.4 592.7,1380.4 594.3,1380.4 595.8,1380.5 597.4,1380.5 599.0,1380.6 600.5,1380.6 602.1,1380.6 603.6,1380.6 605.2,1380.6 606.8,1380.7 608.3,1380.7 609.9,1380.7 611.5,1380.7 613.0,1380.7 614.6,1380.6 616.1,1380.6 617.7,1380.6 619.3,1380.6 620.8,1380.5 622.4,1380.5 623.9,1380.5 625.5,1380.4 627.1,1380.4 628.6,1380.3 630.2,1380.2 631.7,1380.2 633.3,1380.1 634.9,1380.0 636.4,1379.9 638.0,1379.8 639.5,1379.7 641.1,1379.6 642.7,1379.5 644.2,1379.4 645.8,1379.2 647.3,1379.1 648.9,1379.0 650.5,1378.8 652.0,1378.7 653.6,1378.5 655.2,1378.3 656.7,1378.2 658.3,1378.0 659.8,1377.8 661.4,1377.6 663.0,1377.4 664.5,1377.2 666.1,1376.9 667.6,1376.7 669.2,1376.5 670.8,1376.2 672.3,1376.0 673.9,1375.7 675.4,1375.5 677.0,1375.2 678.6,1374.9 680.1,1374.6 681.7,1374.3 683.2,1374.0 684.8,1373.7 686.4,1373.4 687.9,1373.1 689.5,1372.7 691.1,1372.4 692.6,1372.0 694.2,1371.7 695.7,1371.3 697.3,1370.9 698.9,1370.5 700.4,1370.1 702.0,1369.7 703.5,1369.3 705.1,1368.9 706.7,1368.4 708.2,1368.0 709.8,1367.5 711.3,1367.1 712.9,1366.6 714.5,1366.1 716.0,1365.7 717.6,1365.2 719.1,1364.7 720.7,1364.2 722.3,1363.7 723.8,1363.2 725.4,1362.7 727.0,1362.1 728.5,1361.6 730.1,1361.1 731.6,1360.5 733.2,1360.0 734.8,1359.4 736.3,1358.9 737.9,1358.3 739.4,1357.7 741.0,1357.1 742.6,1356.6 744.1,1356.0 745.7,1355.4 747.2,1354.8 748.8,1354.2 750.4,1353.6 751.9,1352.9 753.5,1352.3 755.0,1351.7 756.6,1351.1 758.2,1350.4 759.7,1349.8 761.3,1349.2 762.9,1348.5 764.4,1347.9 766.0,1347.2 767.5,1346.6 769.1,1345.9 770.7,1345.2 772.2,1344.6 773.8,1343.9 775.3,1343.2 776.9,1342.5 778.5,1341.8 780.0,1341.2 781.6,1340.5 783.1,1339.8 784.7,1339.2 786.3,1338.5 787.8,1337.8 789.4,1337.1 790.9,1336.4 792.5,1335.7 794.1,1335.0 795.6,1334.3 797.2,1333.6 798.8,1332.9 800.3,1332.2 801.9,1331.5 803.4,1330.8 805.0,1330.1 806.6,1329.3 808.1,1328.6 809.7,1327.9 811.2,1327.1 812.8,1326.4 814.4,1325.6 815.9,1324.9 817.5,1324.1 819.0,1323.3 820.6,1322.6 822.2,1321.8 823.7,1321.0 825.3,1320.2 826.8,1319.4 828.4,1318.6 830.0,1317.8 831.5,1317.0 833.1,1316.2 834.6,1315.4 836.2,1314.5 837.8,1313.7 839.3,1312.8 840.9,1312.0 842.5,1311.1 844.0,1310.3 845.6,1309.4 847.1,1308.5 848.7,1307.6 850.3,1306.7 851.8,1305.8 853.4,1304.9 854.9,1304.0 856.5,1303.1 858.1,1302.1 859.6,1301.2 861.2,1300.3 862.7,1299.3 864.3,1298.3 865.9,1297.3 867.4,1296.3 869.0,1295.4 870.5,1294.3 872.1,1293.3 873.7,1292.3 875.2,1291.2 876.8,1290.2 878.4,1289.1 879.9,1288.1 881.5,1287.0 883.0,1285.9 884.6,1284.8 886.2,1283.6 887.7,1282.5 889.3,1281.3 890.8,1280.2 892.4,1279.0 894.0,1277.8 895.5,1276.6 897.1,1275.4 898.6,1274.1 900.2,1272.9 901.8,1271.6 903.3,1270.3 904.9,1269.0 906.4,1267.7 908.0,1266.3 909.6,1264.9 911.1,1263.5 912.7,1262.1 914.3,1260.7 915.8,1259.2 917.4,1257.8 918.9,1256.3 920.5,1254.7 922.1,1253.2 923.6,1251.6 925.2,1250.0 926.7,1248.3 928.3,1246.7 929.9,1244.9 931.4,1243.2 933.0,1241.4 934.5,1239.6 936.1,1237.8 937.7,1235.9 939.2,1233.9 940.8,1231.9 942.3,1229.9 943.9,1227.8 945.5,1225.6 947.0,1223.4 948.6,1221.2 950.2,1218.8 951.7,1216.5 953.3,1214.0 954.8,1211.5 956.4,1209.0 958.0,1206.3 959.5,1203.6 961.1,1200.8 962.6,1197.8 964.2,1194.9 965.8,1191.8 967.3,1188.7 968.9,1185.5 970.4,1182.3 972.0,1179.0 973.6,1175.6 975.1,1172.2 976.7,1168.7 978.2,1165.2 979.8,1161.7 981.4,1158.1 982.9,1154.4 984.5,1150.8 986.0,1147.1 987.6,1143.4 989.2,1139.7 990.7,1136.0 992.3,1132.3 993.9,1128.7 995.4,1125.0 997.0,1121.4 998.5,1117.8 1000.1,1114.2 1001.7,1110.7 1003.2,1107.2 1004.8,1103.8 1006.3,1100.5 1007.9,1097.2 1009.5,1093.9 1011.0,1090.7 1012.6,1087.6 1014.1,1084.6 1015.7,1081.6 1017.3,1078.7 1018.8,1075.8 1020.4,1073.1 1021.9,1070.3 1023.5,1067.7 1025.1,1065.1 1026.6,1062.6 1028.2,1060.1 1029.8,1057.7 1031.3,1055.4 1032.9,1053.1 1034.4,1050.9 1036.0,1048.7 1037.6,1046.6 1039.1,1044.6 1040.7,1042.6 1042.2,1040.7 1043.8,1038.8 1045.4,1036.9 1046.9,1035.1 1048.5,1033.4 1050.0,1031.7 1051.6,1030.0 1053.2,1028.3 1054.7,1026.7 1056.3,1025.1 1057.8,1023.5 1059.4,1022.0 1061.0,1020.5 1062.5,1019.0 1064.1,1017.5 1065.7,1016.0 1067.2,1014.5 1068.8,1013.1 1070.3,1011.7 1071.9,1010.2 1073.5,1008.8 1075.0,1007.4 1076.6,1006.0 1078.1,1004.6 1079.7,1003.2 1081.3,1001.9 1082.8,1000.5 1084.4,999.1 1085.9,997.7 1087.5,996.3 1089.1,995.0 1090.6,993.6 1092.2,992.2 1093.7,990.8 1095.3,989.4 1096.9,988.0 1098.4,986.6 1100.0,985.1 1101.6,983.7 1103.1,982.2 1104.7,980.7 1106.2,979.2 1107.8,977.7 1109.4,976.2 1110.9,974.6 1112.5,973.0 1114.0,971.3 1115.6,969.6 1117.2,967.9 1118.7,966.1 1120.3,964.3 1121.8,962.4 1123.4,960.4 1125.0,958.4 1126.5,956.2 1128.1,954.1 1129.6,951.8 1131.2,949.4 1132.8,947.0 1134.3,944.4 1135.9,941.8 1137.5,939.0 1139.0,936.1 1140.6,933.1 1142.1,930.0 1143.7,926.7 1145.3,923.2 1146.8,919.6 1148.4,915.8 1149.9,911.8 1151.5,907.6 1153.1,903.1 1154.6,898.4 1156.2,893.5 1157.7,888.3 1159.3,882.8 1160.9,877.0 1162.4,871.0 1164.0,864.6 1165.5,858.0 1167.1,851.1 1168.7,844.1 1170.2,836.9 1171.8,829.6 1173.3,822.3 1174.9,814.8 1176.5,807.2 1178.0,799.5 1179.6,791.7 1181.2,783.8 1182.7,775.8 1184.3,767.8 1185.8,759.6 1187.4,751.3 1189.0,743.0 1190.5,734.6 1192.1,726.1 1193.6,717.5 1195.2,708.9 1196.8,700.3 1198.3,691.6 1199.9,682.9 1201.4,674.2 1203.0,665.5 1204.6,656.7 1206.1,648.0 1207.7,639.3 1209.2,630.6 1210.8,622.0 1212.4,613.4 1213.9,604.9 1215.5,596.4 1217.1,588.0 1218.6,579.7 1220.2,571.5 1221.7,563.4 1223.3,555.3 1224.9,547.4 1226.4,539.5 1228.0,531.8 1229.5,524.2 1231.1,516.6 1232.7,509.2 1234.2,501.9 1235.8,494.6 1237.3,487.5 1238.9,480.5 1240.5,473.6 1242.0,466.7 1243.6,459.9 1245.1,453.2 1246.7,446.5 1248.3,440.0 1249.8,433.6 1251.4,427.2 1253.0,421.0 1254.5,414.8 1256.1,408.8 1257.6,402.8 1259.2,396.9 1260.8,391.1 1262.3,385.4 1263.9,379.7 1265.4,374.1 1267.0,368.6 1268.6,363.2 1270.1,357.8 1271.7,352.6 1273.2,347.4 1274.8,342.8 1276.4,339.1 1277.9,336.3 1279.5,334.2 1281.0,332.7 1282.6,331.8 1284.2,331.2 1285.7,331.0 1287.3,331.0 1288.9,331.4 1290.4,331.9 1292.0,332.7 1293.5,333.6 1295.1,334.8 1296.7,336.1 1298.2,337.6 1299.8,339.4 1301.3,341.6 1302.9,344.2 1304.5,347.4 1306.0,351.7 1307.6,357.1 1309.1,363.5 1310.7,370.7 1312.3,378.6 1313.8,387.1 1315.4,396.3 1316.9,405.8 1318.5,415.6 1320.1,425.6 1321.6,435.6 1323.2,445.7 1324.8,454.4 1326.3,463.2 1327.9,472.0 1329.4,480.9 1331.0,489.9 1332.6,498.9 1334.1,508.0 1335.7,517.2 1337.2,526.6 1338.8,536.1 1340.4,545.7 1341.9,555.5 1343.5,565.5 1345.0,575.6 1346.6,585.9 1348.2,596.4 1349.7,607.1 1351.3,618.0 1352.8,629.1 1354.4,640.5 1356.0,652.0 1357.5,663.8 1359.1,675.7 1360.7,687.8 1362.2,700.1 1363.8,712.6 1365.3,725.2 1366.9,737.9 1368.5,750.8 1370.0,763.7 1371.6,776.7 1373.1,789.8 1374.7,802.9 1376.3,816.0 1377.8,829.1 1379.4,842.2 1380.9,855.1 1382.5,868.1 1384.1,880.9 1385.6,893.6 1387.2,906.1 1388.7,918.5 1390.3,930.7 1391.9,942.8 1393.4,954.6 1395.0,966.3 1396.5,977.7 1398.1,989.0 1399.7,1000.0 1401.2,1010.8 1402.8,1021.4 1404.4,1031.8 1405.9,1042.0 1407.5,1052.0 1409.0,1061.8 1410.6,1071.3 1412.2,1080.7 1413.7,1089.9 1415.3,1098.9 1416.8,1107.8 1418.4,1116.4 1420.0,1124.9 1421.5,1133.2 1423.1,1141.4 1424.6,1149.4 1426.2,1157.2 1427.8,1164.9 1429.3,1172.5 1430.9,1179.9 1432.4,1187.2 1434.0,1194.4 1435.6,1201.5 1437.1,1208.4 1438.7,1215.2 1440.3,1221.9 1441.8,1228.5 1443.4,1235.0 1444.9,1241.2 1446.5,1247.3 1448.1,1253.3 1449.6,1259.1 1451.2,1264.8 1452.7,1270.4 1454.3,1275.7 1455.9,1280.9 1457.4,1285.8 1459.0,1290.6 1460.5,1295.3 1462.1,1299.7 1463.7,1303.9 1465.2,1307.9 1466.8,1311.7 1468.3,1315.2 1469.9,1318.5 1471.5,1321.6 1473.0,1324.5 1474.6,1327.2 1476.2,1329.7 1477.7,1332.1 1479.3,1334.3 1480.8,1336.5 1482.4,1338.5 1484.0,1340.4 1485.5,1342.1 1487.1,1343.8 1488.6,1345.4 1490.2,1347.0 1491.8,1348.4 1493.3,1349.8 1494.9,1351.2 1496.4,1352.5 1498.0,1353.7 1499.6,1354.9 1501.1,1356.1 1502.7,1357.1 1504.2,1358.2 1505.8,1359.2 1507.4,1360.2 1508.9,1361.1 1510.5,1362.0 1512.1,1362.8 1513.6,1363.6 1515.2,1364.4 1516.7,1365.2 1518.3,1366.0 1519.9,1366.7 1521.4,1367.4 1523.0,1368.1 1524.5,1368.7 1526.1,1369.4 1527.7,1370.0 1529.2,1370.6 1530.8,1371.2 1532.3,1371.7 1533.9,1372.3 1535.5,1372.8 1537.0,1373.3 1538.6,1373.8 1540.1,1374.3 1541.7,1374.8 1543.3,1375.2 1544.8,1375.7 1546.4,1376.1 1548.0,1376.5 1549.5,1377.0 1551.1,1377.4 1552.6,1377.7 1554.2,1378.1 1555.8,1378.5 1557.3,1378.8 1558.9,1379.1 1560.4,1379.5 1562.0,1379.8 1563.6,1380.1 1565.1,1380.4 1566.7,1380.7 1568.2,1380.9 1569.8,1381.2 1571.4,1381.4 1572.9,1381.7 1574.5,1381.9 1576.0,1382.1 1577.6,1382.3 1579.2,1382.5 1580.7,1382.7 1582.3,1382.9 1583.8,1383.1 1585.4,1383.3 1587.0,1383.4 1588.5,1383.6 1590.1,1383.7 1591.7,1383.9 1593.2,1384.0 1594.8,1384.1 1596.3,1384.2 1597.9,1384.3 1599.5,1384.4 1601.0,1384.5 1602.6,1384.6 1604.1,1384.7 1605.7,1384.8 1607.3,1384.9 1608.8,1384.9 1610.4,1385.0 1611.9,1385.0 1613.5,1385.1 1615.1,1385.2 1616.6,1385.2 1618.2,1385.2 1619.7,1385.3 1621.3,1385.3 1622.9,1385.4 1624.4,1385.4 1626.0,1385.4 1627.6,1385.5 1629.1,1385.5 1630.7,1385.5 1632.2,1385.5 1633.8,1385.6 1635.4,1385.6 1636.9,1385.6 1638.5,1385.6 1640.0,1385.6 1641.6,1385.7 1643.2,1385.7 1644.7,1385.7 1646.3,1385.7 1647.8,1385.7 1649.4,1385.7 1651.0,1385.8 1652.5,1385.8 1654.1,1385.8 1655.6,1385.8 1657.2,1385.8 1658.8,1385.8 1660.3,1385.9 1661.9,1385.9 1663.5,1385.9 1665.0,1385.9 1666.6,1385.9 1668.1,1385.9 1669.7,1385.9 1671.3,1385.9 1672.8,1386.0 1674.4,1386.0 1675.9,1386.0 1677.5,1386.0 1679.1,1386.0 1680.6,1386.0 1682.2,1386.0 1683.7,1386.0 1685.3,1386.0 1686.9,1386.0 1688.4,1386.1 1690.0,1386.1 1691.5,1386.1 1693.1,1386.1 1694.7,1386.1 1696.2,1386.1 1697.8,1386.1 1699.4,1386.1 1700.9,1386.1 1702.5,1386.1 1704.0,1386.1 1705.6,1386.1 1707.2,1386.1 1708.7,1386.1 1710.3,1386.1 1711.8,1386.1 1713.4,1386.1 1715.0,1386.1 1716.5,1386.1 1718.1,1386.1 1719.6,1386.1 1721.2,1386.1 1722.8,1386.1 1724.3,1386.1 1725.9,1386.1 1727.4,1386.1 1729.0,1386.1 1730.6,1386.1 1732.1,1386.1 1733.7,1386.1 1735.2,1386.1 1736.8,1386.1 1738.4,1386.1 1739.9,1386.0 1741.5,1386.0 1743.1,1386.0 1744.6,1386.0 1746.2,1386.0 1747.7,1386.0 1749.3,1386.0 1750.9,1386.0 1752.4,1386.0 1754.0,1386.0 1755.5,1385.9 1757.1,1385.9 1758.7,1385.9 1760.2,1385.9 1761.8,1385.9 1763.3,1385.9 1764.9,1385.9 1766.5,1385.8 1768.0,1385.8 1769.6,1385.8 1771.1,1385.8 1772.7,1385.8 1774.3,1385.8 1775.8,1385.7 1777.4,1385.7 1779.0,1385.7 1780.5,1385.7 1782.1,1385.7 1783.6,1385.6 1785.2,1385.6 1786.8,1385.6 1788.3,1385.6 1789.9,1385.5 1791.4,1385.5 1793.0,1385.5 1794.6,1385.5 1796.1,1385.5 1797.7,1385.4 1799.2,1385.4 1800.8,1385.4 1802.4,1385.3 1803.9,1385.3 1805.5,1385.3 1807.0,1385.3 1808.6,1385.2 1810.2,1385.2 1811.7,1385.2 1813.3,1385.2 1814.9,1385.1 1816.4,1385.1 1818.0,1385.1 1819.5,1385.0 1821.1,1385.0 1822.7,1385.0 1824.2,1385.0 1825.8,1384.9 1827.3,1384.9 1828.9,1384.9 1830.5,1384.8 1832.0,1384.8 1833.6,1384.8 1835.1,1384.8 1836.7,1384.7 1838.3,1384.7 1839.8,1384.7 1841.4,1384.6 1842.9,1384.6 1844.5,1384.6 1846.1,1384.5 1847.6,1384.5 1849.2,1384.5 1850.8,1384.5 1852.3,1384.4 1853.9,1384.4 1855.4,1384.4 1857.0,1384.3 1858.6,1384.3 1860.1,1384.3 1861.7,1384.3 1863.2,1384.2 1864.8,1384.2 1866.4,1384.2 1867.9,1384.2 1869.5,1384.1 1871.0,1384.1 1872.6,1384.1 1874.2,1384.1 1875.7,1384.0 1877.3,1384.0 1878.8,1384.0 1880.4,1384.0 1882.0,1383.9 1883.5,1383.9 1885.1,1383.9 1886.7,1383.9 1888.2,1383.9 1889.8,1383.8 1891.3,1383.8 1892.9,1383.8 1894.5,1383.8 1896.0,1383.8 1897.6,1383.8 1899.1,1383.7 1900.7,1383.7 1902.3,1383.7 1903.8,1383.7 1905.4,1383.7 1906.9,1383.7 1908.5,1383.7 1910.1,1383.7 1911.6,1383.6 1913.2,1383.6 1914.7,1383.6 1916.3,1383.6 1917.9,1383.6 1919.4,1383.6 1921.0,1383.6 1922.5,1383.6 1924.1,1383.6 1925.7,1383.6 1927.2,1383.6 1928.8,1383.6 1930.4,1383.6 1931.9,1383.6 1933.5,1383.6 1935.0,1383.6 1936.6,1383.7 1938.2,1383.7 1939.7,1383.7 1941.3,1383.7 1942.8,1383.7 1944.4,1383.7 1946.0,1383.7 1947.5,1383.7 1949.1,1383.8 1950.6,1383.8 1952.2,1383.8 1953.8,1383.8 1955.3,1383.8 1956.9,1383.9 1958.4,1383.9 1960.0,1383.9 1961.6,1383.9 1963.1,1384.0 1964.7,1384.0 1966.3,1384.0 1967.8,1384.0 1969.4,1384.1 1970.9,1384.1 1972.5,1384.1 1974.1,1384.2 1975.6,1384.2 1977.2,1384.3 1978.7,1384.3 1980.3,1384.3 1981.9,1384.4 1983.4,1384.4 1985.0,1384.5 1986.5,1384.5 1988.1,1384.6 1989.7,1384.6 1991.2,1384.6 1992.8,1384.7 1994.3,1384.7 1995.9,1384.8 1997.5,1384.8 1999.0,1384.9 2000.6,1385.0 2002.2,1385.0 2003.7,1385.1 2005.3,1385.1 2006.8,1385.2 2008.4,1385.2 2010.0,1385.3 2011.5,1385.4 2013.1,1385.4 2014.6,1385.5 2016.2,1385.5 2017.8,1385.6 2019.3,1385.7 2020.9,1385.7 2022.4,1385.8 2024.0,1385.9 2025.6,1385.9 2027.1,1386.0 2028.7,1386.1 2030.2,1386.1 2031.8,1386.2 2033.4,1386.3 2034.9,1386.4 2036.5,1386.4 2038.1,1386.5 2039.6,1386.6 2041.2,1386.6 2042.7,1386.7 2044.3,1386.8 2045.9,1386.9 2047.4,1386.9 2049.0,1387.0 2050.5,1387.1 2052.1,1387.2 2053.7,1387.3 2055.2,1387.3 2056.8,1387.4 2058.3,1387.5 2059.9,1387.6 2061.5,1387.7 2063.0,1387.7 2064.6,1387.8 2066.1,1387.9 2067.7,1388.0 2069.3,1388.1 2070.8,1388.1 2072.4,1388.2 2074.0,1388.3 2075.5,1388.4 2077.1,1388.5 2078.6,1388.6 2080.2,1388.6 2081.8,1388.7 2083.3,1388.8 2084.9,1388.9 2086.4,1389.0 2088.0,1389.1 2089.6,1389.2 2091.1,1389.2 2092.7,1389.3 2094.2,1389.4 2095.8,1389.5 2097.4,1389.6 2098.9,1389.7 2100.5,1389.8 2102.0,1389.8 2103.6,1389.9 2105.2,1390.0 2106.7,1390.1 2108.3,1390.2 2109.8,1390.3 2111.4,1390.4 2113.0,1390.4 2114.5,1390.5 2116.1,1390.6 2117.7,1390.7 2119.2,1390.8 2120.8,1390.9 2122.3,1391.0 2123.9,1391.1 2125.5,1391.1 2127.0,1391.2 2128.6,1391.3 2130.1,1391.4 2131.7,1391.5 2133.3,1391.6 2134.8,1391.7 2136.4,1391.8 2137.9,1391.8 2139.5,1391.9 2141.1,1392.0 2142.6,1392.1 2144.2,1392.2 2145.7,1392.3 2147.3,1392.4 2148.9,1392.4 2150.4,1392.5 2152.0,1392.6 2153.6,1392.7 2155.1,1392.8 2156.7,1392.9 2158.2,1393.0 2159.8,1393.1 2161.4,1393.1 2162.9,1393.2 2164.5,1393.3 2166.0,1393.4 2167.6,1393.5 2169.2,1393.6 2170.7,1393.7 2172.3,1393.8 2173.8,1393.8 2175.4,1393.9 2177.0,1394.0 2178.5,1394.1 2180.1,1394.2 2181.6,1394.3 2183.2,1394.4 2184.8,1394.5 2186.3,1394.5 2187.9,1394.6 2189.5,1394.7 2191.0,1394.8 2192.6,1394.9 2194.1,1394.9 2195.7,1395.0 2197.3,1395.0 2198.8,1395.1 2200.4,1395.1 2201.9,1395.2 2203.5,1395.2" stroke="#5a1878" stroke-width="8"/>
<polyline points="330.5,1364.7 332.1,1364.6 333.6,1364.6 335.2,1364.5 336.7,1364.5 338.3,1364.4 339.9,1364.4 341.4,1364.4 343.0,1364.4 344.5,1364.4 346.1,1364.3 347.7,1364.3 349.2,1364.3 350.8,1364.3 352.4,1364.4 353.9,1364.4 355.5,1364.4 357.0,1364.4 358.6,1364.4 360.2,1364.5 361.7,1364.5 363.3,1364.6 364.8,1364.6 366.4,1364.7 368.0,1364.7 369.5,1364.8 371.1,1364.8 372.6,1364.9 374.2,1365.0 375.8,1365.0 377.3,1365.1 378.9,1365.2 380.4,1365.3 382.0,1365.4 383.6,1365.5 385.1,1365.6 386.7,1365.7 388.3,1365.8 389.8,1365.9 391.4,1366.0 392.9,1366.1 394.5,1366.3 396.1,1366.4 397.6,1366.5 399.2,1366.6 400.7,1366.8 402.3,1366.9 403.9,1367.1 405.4,1367.2 407.0,1367.3 408.5,1367.5 410.1,1367.6 411.7,1367.8 413.2,1368.0 414.8,1368.1 416.3,1368.3 417.9,1368.4 419.5,1368.6 421.0,1368.8 422.6,1368.9 424.1,1369.1 425.7,1369.3 427.3,1369.5 428.8,1369.7 430.4,1369.8 432.0,1370.0 433.5,1370.2 435.1,1370.4 436.6,1370.6 438.2,1370.8 439.8,1370.9 441.3,1371.1 442.9,1371.3 444.4,1371.5 446.0,1371.7 447.6,1371.9 449.1,1372.1 450.7,1372.3 452.2,1372.5 453.8,1372.7 455.4,1372.9 456.9,1373.1 458.5,1373.3 460.0,1373.5 461.6,1373.7 463.2,1373.9 464.7,1374.1 466.3,1374.3 467.9,1374.5 469.4,1374.7 471.0,1374.9 472.5,1375.1 474.1,1375.4 475.7,1375.6 477.2,1375.8 478.8,1376.0 480.3,1376.2 481.9,1376.4 483.5,1376.6 485.0,1376.8 486.6,1377.0 488.1,1377.2 489.7,1377.4 491.3,1377.6 492.8,1377.8 494.4,1378.0 495.9,1378.2 497.5,1378.4 499.1,1378.6 500.6,1378.8 502.2,1379.0 503.8,1379.2 505.3,1379.4 506.9,1379.6 508.4,1379.8 510.0,1380.0 511.6,1380.2 513.1,1380.4 514.7,1380.6 516.2,1380.8 517.8,1381.0 519.4,1381.2 520.9,1381.4 522.5,1381.6 524.0,1381.7 525.6,1381.9 527.2,1382.1 528.7,1382.3 530.3,1382.4 531.8,1382.6 533.4,1382.8 535.0,1383.0 536.5,1383.1 538.1,1383.3 539.7,1383.4 541.2,1383.6 542.8,1383.8 544.3,1383.9 545.9,1384.1 547.5,1384.2 549.0,1384.4 550.6,1384.5 552.1,1384.7 553.7,1384.8 555.3,1384.9 556.8,1385.1 558.4,1385.2 559.9,1385.3 561.5,1385.4 563.1,1385.6 564.6,1385.7 566.2,1385.8 567.7,1385.9 569.3,1386.0 570.9,1386.1 572.4,1386.2 574.0,1386.3 575.6,1386.4 577.1,1386.5 578.7,1386.6 580.2,1386.7 581.8,1386.8 583.4,1386.8 584.9,1386.9 586.5,1387.0 588.0,1387.0 589.6,1387.1 591.2,1387.2 592.7,1387.2 594.3,1387.3 595.8,1387.3 597.4,1387.3 599.0,1387.4 600.5,1387.4 602.1,1387.4 603.6,1387.5 605.2,1387.5 606.8,1387.5 608.3,1387.5 609.9,1387.5 611.5,1387.5 613.0,1387.5 614.6,1387.5 616.1,1387.5 617.7,1387.4 619.3,1387.4 620.8,1387.4 622.4,1387.3 623.9,1387.3 625.5,1387.2 627.1,1387.2 628.6,1387.1 630.2,1387.1 631.7,1387.0 633.3,1386.9 634.9,1386.8 636.4,1386.7 638.0,1386.6 639.5,1386.5 641.1,1386.4 642.7,1386.3 644.2,1386.2 645.8,1386.1 647.3,1385.9 648.9,1385.8 650.5,1385.6 652.0,1385.5 653.6,1385.3 655.2,1385.2 656.7,1385.0 658.3,1384.8 659.8,1384.6 661.4,1384.4 663.0,1384.2 664.5,1384.0 666.1,1383.8 667.6,1383.5 669.2,1383.3 670.8,1383.1 672.3,1382.8 673.9,1382.5 675.4,1382.3 677.0,1382.0 678.6,1381.7 680.1,1381.4 681.7,1381.1 683.2,1380.8 684.8,1380.5 686.4,1380.2 687.9,1379.8 689.5,1379.5 691.1,1379.1 692.6,1378.8 694.2,1378.4 695.7,1378.1 697.3,1377.7 698.9,1377.3 700.4,1376.9 702.0,1376.5 703.5,1376.0 705.1,1375.6 706.7,1375.2 708.2,1374.7 709.8,1374.3 711.3,1373.8 712.9,1373.3 714.5,1372.9 716.0,1372.4 717.6,1371.9 719.1,1371.4 720.7,1370.9 722.3,1370.4 723.8,1369.9 725.4,1369.4 727.0,1368.8 728.5,1368.3 730.1,1367.8 731.6,1367.2 733.2,1366.7 734.8,1366.1 736.3,1365.5 737.9,1365.0 739.4,1364.4 741.0,1363.8 742.6,1363.2 744.1,1362.6 745.7,1362.0 747.2,1361.4 748.8,1360.8 750.4,1360.2 751.9,1359.6 753.5,1359.0 755.0,1358.4 756.6,1357.7 758.2,1357.1 759.7,1356.4 761.3,1355.8 762.9,1355.1 764.4,1354.5 766.0,1353.8 767.5,1353.2 769.1,1352.5 770.7,1351.8 772.2,1351.2 773.8,1350.5 775.3,1349.8 776.9,1349.1 778.5,1348.4 780.0,1347.7 781.6,1347.0 783.1,1346.3 784.7,1345.6 786.3,1344.9 787.8,1344.2 789.4,1343.5 790.9,1342.7 792.5,1342.0 794.1,1341.3 795.6,1340.5 797.2,1339.8 798.8,1339.0 800.3,1338.3 801.9,1337.5 803.4,1336.8 805.0,1336.0 806.6,1335.2 808.1,1334.5 809.7,1333.7 811.2,1332.9 812.8,1332.1 814.4,1331.3 815.9,1330.5 817.5,1329.7 819.0,1328.9 820.6,1328.1 822.2,1327.3 823.7,1326.4 825.3,1325.6 826.8,1324.8 828.4,1323.9 830.0,1323.1 831.5,1322.2 833.1,1321.3 834.6,1320.5 836.2,1319.6 837.8,1318.7 839.3,1317.8 840.9,1316.9 842.5,1316.0 844.0,1315.1 845.6,1314.2 847.1,1313.2 848.7,1312.3 850.3,1311.3 851.8,1310.4 853.4,1309.4 854.9,1308.5 856.5,1307.5 858.1,1306.5 859.6,1305.5 861.2,1304.5 862.7,1303.5 864.3,1302.4 865.9,1301.4 867.4,1300.3 869.0,1299.3 870.5,1298.2 872.1,1297.1 873.7,1296.0 875.2,1294.9 876.8,1293.8 878.4,1292.7 879.9,1291.6 881.5,1290.4 883.0,1289.2 884.6,1288.1 886.2,1286.9 887.7,1285.7 889.3,1284.5 890.8,1283.2 892.4,1282.0 894.0,1280.7 895.5,1279.4 897.1,1278.1 898.6,1276.8 900.2,1275.5 901.8,1274.1 903.3,1272.7 904.9,1271.4 906.4,1270.0 908.0,1268.5 909.6,1267.1 911.1,1265.6 912.7,1264.1 914.3,1262.6 915.8,1261.0 917.4,1259.5 918.9,1257.9 920.5,1256.3 922.1,1254.6 923.6,1252.9 925.2,1251.2 926.7,1249.5 928.3,1247.7 929.9,1245.9 931.4,1244.0 933.0,1242.1 934.5,1240.2 936.1,1238.3 937.7,1236.2 939.2,1234.2 940.8,1232.1 942.3,1229.9 943.9,1227.7 945.5,1225.4 947.0,1223.1 948.6,1220.7 950.2,1218.2 951.7,1215.7 953.3,1213.1 954.8,1210.4 956.4,1207.7 958.0,1204.9 959.5,1202.1 961.1,1199.2 962.6,1196.3 964.2,1193.2 965.8,1190.2 967.3,1187.0 968.9,1183.8 970.4,1180.5 972.0,1177.2 973.6,1173.8 975.1,1170.4 976.7,1166.9 978.2,1163.3 979.8,1159.7 981.4,1156.1 982.9,1152.5 984.5,1148.8 986.0,1145.1 987.6,1141.3 989.2,1137.6 990.7,1133.9 992.3,1130.2 993.9,1126.4 995.4,1122.8 997.0,1119.1 998.5,1115.5 1000.1,1111.9 1001.7,1108.3 1003.2,1104.8 1004.8,1101.4 1006.3,1098.0 1007.9,1094.7 1009.5,1091.4 1011.0,1088.2 1012.6,1085.0 1014.1,1082.0 1015.7,1078.9 1017.3,1076.0 1018.8,1073.1 1020.4,1070.3 1021.9,1067.6 1023.5,1064.9 1025.1,1062.3 1026.6,1059.7 1028.2,1057.2 1029.8,1054.8 1031.3,1052.5 1032.9,1050.2 1034.4,1047.9 1036.0,1045.7 1037.6,1043.6 1039.1,1041.6 1040.7,1039.5 1042.2,1037.6 1043.8,1035.7 1045.4,1033.8 1046.9,1032.0 1048.5,1030.2 1050.0,1028.5 1051.6,1026.8 1053.2,1025.1 1054.7,1023.4 1056.3,1021.8 1057.8,1020.2 1059.4,1018.6 1061.0,1017.1 1062.5,1015.6 1064.1,1014.0 1065.7,1012.5 1067.2,1011.1 1068.8,1009.6 1070.3,1008.1 1071.9,1006.7 1073.5,1005.2 1075.0,1003.8 1076.6,1002.4 1078.1,1001.0 1079.7,999.5 1081.3,998.1 1082.8,996.7 1084.4,995.3 1085.9,993.9 1087.5,992.5 1089.1,991.1 1090.6,989.7 1092.2,988.2 1093.7,986.8 1095.3,985.4 1096.9,983.9 1098.4,982.4 1100.0,981.0 1101.6,979.5 1103.1,978.0 1104.7,976.5 1106.2,974.9 1107.8,973.3 1109.4,971.7 1110.9,970.1 1112.5,968.4 1114.0,966.7 1115.6,965.0 1117.2,963.2 1118.7,961.4 1120.3,959.5 1121.8,957.5 1123.4,955.5 1125.0,953.4 1126.5,951.2 1128.1,948.9 1129.6,946.6 1131.2,944.2 1132.8,941.6 1134.3,939.0 1135.9,936.3 1137.5,933.4 1139.0,930.5 1140.6,927.4 1142.1,924.1 1143.7,920.8 1145.3,917.2 1146.8,913.5 1148.4,909.6 1149.9,905.5 1151.5,901.2 1153.1,896.6 1154.6,891.8 1156.2,886.8 1157.7,881.4 1159.3,875.8 1160.9,869.9 1162.4,863.7 1164.0,857.2 1165.5,850.5 1167.1,843.5 1168.7,836.3 1170.2,829.0 1171.8,821.6 1173.3,814.0 1174.9,806.4 1176.5,798.6 1178.0,790.8 1179.6,782.8 1181.2,774.8 1182.7,766.7 1184.3,758.4 1185.8,750.1 1187.4,741.7 1189.0,733.2 1190.5,724.6 1192.1,715.9 1193.6,707.2 1195.2,698.4 1196.8,689.6 1198.3,680.8 1199.9,671.9 1201.4,663.0 1203.0,654.1 1204.6,645.2 1206.1,636.3 1207.7,627.4 1209.2,618.6 1210.8,609.8 1212.4,601.0 1213.9,592.3 1215.5,583.7 1217.1,575.2 1218.6,566.7 1220.2,558.3 1221.7,550.0 1223.3,541.8 1224.9,533.7 1226.4,525.7 1228.0,517.8 1229.5,510.0 1231.1,502.3 1232.7,494.7 1234.2,487.2 1235.8,479.9 1237.3,472.6 1238.9,465.5 1240.5,458.4 1242.0,451.4 1243.6,444.5 1245.1,437.6 1246.7,430.9 1248.3,424.3 1249.8,417.7 1251.4,411.3 1253.0,404.9 1254.5,398.7 1256.1,392.5 1257.6,386.4 1259.2,380.4 1260.8,374.5 1262.3,368.7 1263.9,363.0 1265.4,357.3 1267.0,351.7 1268.6,346.2 1270.1,340.7 1271.7,335.4 1273.2,330.1 1274.8,325.4 1276.4,321.7 1277.9,318.8 1279.5,316.7 1281.0,315.2 1282.6,314.2 1284.2,313.6 1285.7,313.4 1287.3,313.5 1288.9,313.8 1290.4,314.3 1292.0,315.1 1293.5,316.0 1295.1,317.1 1296.7,318.4 1298.2,319.8 1299.8,321.6 1301.3,323.7 1302.9,326.2 1304.5,329.2 1306.0,333.2 1307.6,338.2 1309.1,344.1 1310.7,350.9 1312.3,358.3 1313.8,366.5 1315.4,375.5 1316.9,384.9 1318.5,394.6 1320.1,404.5 1321.6,414.5 1323.2,424.5 1324.8,433.3 1326.3,442.2 1327.9,451.2 1329.4,460.2 1331.0,469.2 1332.6,478.4 1334.1,487.6 1335.7,496.9 1337.2,506.3 1338.8,515.9 1340.4,525.6 1341.9,535.4 1343.5,545.4 1345.0,555.6 1346.6,565.9 1348.2,576.5 1349.7,587.2 1351.3,598.2 1352.8,609.3 1354.4,620.7 1356.0,632.3 1357.5,644.1 1359.1,656.1 1360.7,668.3 1362.2,680.7 1363.8,693.3 1365.3,706.0 1366.9,718.9 1368.5,731.9 1370.0,745.0 1371.6,758.2 1373.1,771.4 1374.7,784.7 1376.3,798.1 1377.8,811.4 1379.4,824.7 1380.9,838.0 1382.5,851.2 1384.1,864.3 1385.6,877.3 1387.2,890.2 1388.7,902.9 1390.3,915.4 1391.9,927.8 1393.4,940.0 1395.0,952.0 1396.5,963.7 1398.1,975.3 1399.7,986.7 1401.2,997.8 1402.8,1008.7 1404.4,1019.4 1405.9,1029.9 1407.5,1040.2 1409.0,1050.3 1410.6,1060.1 1412.2,1069.8 1413.7,1079.2 1415.3,1088.5 1416.8,1097.6 1418.4,1106.5 1420.0,1115.2 1421.5,1123.8 1423.1,1132.2 1424.6,1140.4 1426.2,1148.5 1427.8,1156.4 1429.3,1164.2 1430.9,1171.8 1432.4,1179.4 1434.0,1186.7 1435.6,1194.0 1437.1,1201.1 1438.7,1208.1 1440.3,1215.0 1441.8,1221.7 1443.4,1228.4 1444.9,1235.1 1446.5,1241.7 1448.1,1248.2 1449.6,1254.6 1451.2,1260.9 1452.7,1266.9 1454.3,1272.8 1455.9,1278.5 1457.4,1284.1 1459.0,1289.5 1460.5,1294.7 1462.1,1299.7 1463.7,1304.5 1465.2,1309.0 1466.8,1313.2 1468.3,1317.2 1469.9,1320.9 1471.5,1324.4 1473.0,1327.7 1474.6,1330.8 1476.2,1333.6 1477.7,1336.3 1479.3,1338.9 1480.8,1341.2 1482.4,1343.5 1484.0,1345.6 1485.5,1347.6 1487.1,1349.5 1488.6,1351.3 1490.2,1353.0 1491.8,1354.7 1493.3,1356.2 1494.9,1357.6 1496.4,1359.0 1498.0,1360.3 1499.6,1361.5 1501.1,1362.7 1502.7,1363.9 1504.2,1365.0 1505.8,1366.0 1507.4,1367.0 1508.9,1368.0 1510.5,1368.9 1512.1,1369.8 1513.6,1370.6 1515.2,1371.5 1516.7,1372.3 1518.3,1373.0 1519.9,1373.8 1521.4,1374.5 1523.0,1375.2 1524.5,1375.9 1526.1,1376.6 1527.7,1377.2 1529.2,1377.8 1530.8,1378.4 1532.3,1379.0 1533.9,1379.6 1535.5,1380.1 1537.0,1380.7 1538.6,1381.2 1540.1,1381.7 1541.7,1382.2 1543.3,1382.7 1544.8,1383.2 1546.4,1383.6 1548.0,1384.0 1549.5,1384.5 1551.1,1384.9 1552.6,1385.3 1554.2,1385.7 1555.8,1386.0 1557.3,1386.4 1558.9,1386.7 1560.4,1387.1 1562.0,1387.4 1563.6,1387.7 1565.1,1388.0 1566.7,1388.3 1568.2,1388.6 1569.8,1388.9 1571.4,1389.2 1572.9,1389.4 1574.5,1389.6 1576.0,1389.9 1577.6,1390.1 1579.2,1390.3 1580.7,1390.5 1582.3,1390.7 1583.8,1390.9 1585.4,1391.1 1587.0,1391.2 1588.5,1391.4 1590.1,1391.6 1591.7,1391.7 1593.2,1391.8 1594.8,1392.0 1596.3,1392.1 1597.9,1392.2 1599.5,1392.3 1601.0,1392.4 1602.6,1392.5 1604.1,1392.6 1605.7,1392.7 1607.3,1392.8 1608.8,1392.9 1610.4,1392.9 1611.9,1393.0 1613.5,1393.1 1615.1,1393.1 1616.6,1393.2 1618.2,1393.2 1619.7,1393.3 1621.3,1393.3 1622.9,1393.4 1624.4,1393.4 1626.0,1393.5 1627.6,1393.5 1629.1,1393.5 1630.7,1393.6 1632.2,1393.6 1633.8,1393.6 1635.4,1393.6 1636.9,1393.7 1638.5,1393.7 1640.0,1393.7 1641.6,1393.7 1643.2,1393.8 1644.7,1393.8 1646.3,1393.8 1647.8,1393.8 1649.4,1393.9 1651.0,1393.9 1652.5,1393.9 1654.1,1393.9 1655.6,1394.0 1657.2,1394.0 1658.8,1394.0 1660.3,1394.0 1661.9,1394.1 1663.5,1394.1 1665.0,1394.1 1666.6,1394.1 1668.1,1394.1 1669.7,1394.2 1671.3,1394.2 1672.8,1394.2 1674.4,1394.2 1675.9,1394.2 1677.5,1394.3 1679.1,1394.3 1680.6,1394.3 1682.2,1394.3 1683.7,1394.3 1685.3,1394.4 1686.9,1394.4 1688.4,1394.4 1690.0,1394.4 1691.5,1394.4 1693.1,1394.5 1694.7,1394.5 1696.2,1394.5 1697.8,1394.5 1699.4,1394.5 1700.9,1394.6 1702.5,1394.6 1704.0,1394.6 1705.6,1394.6 1707.2,1394.6 1708.7,1394.6 1710.3,1394.7 1711.8,1394.7 1713.4,1394.7 1715.0,1394.7 1716.5,1394.7 1718.1,1394.8 1719.6,1394.8 1721.2,1394.8 1722.8,1394.8 1724.3,1394.8 1725.9,1394.8 1727.4,1394.9 1729.0,1394.9 1730.6,1394.9 1732.1,1394.9 1733.7,1394.9 1735.2,1394.9 1736.8,1394.9 1738.4,1395.0 1739.9,1395.0 1741.5,1395.0 1743.1,1395.0 1744.6,1395.0 1746.2,1395.0 1747.7,1395.1 1749.3,1395.1 1750.9,1395.1 1752.4,1395.1 1754.0,1395.1 1755.5,1395.1 1757.1,1395.1 1758.7,1395.2 1760.2,1395.2 1761.8,1395.2 1763.3,1395.2 1764.9,1395.2 1766.5,1395.2 1768.0,1395.2 1769.6,1395.3 1771.1,1395.3 1772.7,1395.3 1774.3,1395.3 1775.8,1395.3 1777.4,1395.3 1779.0,1395.3 1780.5,1395.4 1782.1,1395.4 1783.6,1395.4 1785.2,1395.4 1786.8,1395.4 1788.3,1395.4 1789.9,1395.4 1791.4,1395.5 1793.0,1395.5 1794.6,1395.5 1796.1,1395.5 1797.7,1395.5 1799.2,1395.5 1800.8,1395.5 1802.4,1395.6 1803.9,1395.6 1805.5,1395.6 1807.0,1395.6 1808.6,1395.6 1810.2,1395.6 1811.7,1395.6 1813.3,1395.7 1814.9,1395.7 1816.4,1395.7 1818.0,1395.7 1819.5,1395.7 1821.1,1395.7 1822.7,1395.7 1824.2,1395.7 1825.8,1395.8 1827.3,1395.8 1828.9,1395.8 1830.5,1395.8 1832.0,1395.8 1833.6,1395.8 1835.1,1395.8 1836.7,1395.9 1838.3,1395.9 1839.8,1395.9 1841.4,1395.9 1842.9,1395.9 1844.5,1395.9 1846.1,1395.9 1847.6,1396.0 1849.2,1396.0 1850.8,1396.0 1852.3,1396.0 1853.9,1396.0 1855.4,1396.0 1857.0,1396.1 1858.6,1396.1 1860.1,1396.1 1861.7,1396.1 1863.2,1396.1 1864.8,1396.1 1866.4,1396.1 1867.9,1396.2 1869.5,1396.2 1871.0,1396.2 1872.6,1396.2 1874.2,1396.2 1875.7,1396.2 1877.3,1396.3 1878.8,1396.3 1880.4,1396.3 1882.0,1396.3 1883.5,1396.3 1885.1,1396.3 1886.7,1396.3 1888.2,1396.4 1889.8,1396.4 1891.3,1396.4 1892.9,1396.4 1894.5,1396.4 1896.0,1396.4 1897.6,1396.5 1899.1,1396.5 1900.7,1396.5 1902.3,1396.5 1903.8,1396.5 1905.4,1396.6 1906.9,1396.6 1908.5,1396.6 1910.1,1396.6 1911.6,1396.6 1913.2,1396.6 1914.7,1396.7 1916.3,1396.7 1917.9,1396.7 1919.4,1396.7 1921.0,1396.7 1922.5,1396.8 1924.1,1396.8 1925.7,1396.8 1927.2,1396.8 1928.8,1396.8 1930.4,1396.9 1931.9,1396.9 1933.5,1396.9 1935.0,1396.9 1936.6,1396.9 1938.2,1397.0 1939.7,1397.0 1941.3,1397.0 1942.8,1397.0 1944.4,1397.0 1946.0,1397.1 1947.5,1397.1 1949.1,1397.1 1950.6,1397.1 1952.2,1397.2 1953.8,1397.2 1955.3,1397.2 1956.9,1397.2 1958.4,1397.3 1960.0,1397.3 1961.6,1397.3 1963.1,1397.3 1964.7,1397.3 1966.3,1397.4 1967.8,1397.4 1969.4,1397.4 1970.9,1397.4 1972.5,1397.5 1974.1,1397.5 1975.6,1397.5 1977.2,1397.5 1978.7,1397.6 1980.3,1397.6 1981.9,1397.6 1983.4,1397.7 1985.0,1397.7 1986.5,1397.7 1988.1,1397.7 1989.7,1397.8 1991.2,1397.8 1992.8,1397.8 1994.3,1397.8 1995.9,1397.9 1997.5,1397.9 1999.0,1397.9 2000.6,1398.0 2002.2,1398.0 2003.7,1398.0 2005.3,1398.1 2006.8,1398.1 2008.4,1398.1 2010.0,1398.1 2011.5,1398.2 2013.1,1398.2 2014.6,1398.2 2016.2,1398.3 2017.8,1398.3 2019.3,1398.3 2020.9,1398.4 2022.4,1398.4 2024.0,1398.4 2025.6,1398.5 2027.1,1398.5 2028.7,1398.5 2030.2,1398.6 2031.8,1398.6 2033.4,1398.6 2034.9,1398.7 2036.5,1398.7 2038.1,1398.7 2039.6,1398.8 2041.2,1398.8 2042.7,1398.9 2044.3,1398.9 2045.9,1398.9 2047.4,1399.0 2049.0,1399.0 2050.5,1399.0 2052.1,1399.1 2053.7,1399.1 2055.2,1399.2 2056.8,1399.2 2058.3,1399.2 2059.9,1399.3 2061.5,1399.3 2063.0,1399.4 2064.6,1399.4 2066.1,1399.4 2067.7,1399.5 2069.3,1399.5 2070.8,1399.6 2072.4,1399.6 2074.0,1399.7 2075.5,1399.7 2077.1,1399.7 2078.6,1399.8 2080.2,1399.8 2081.8,1399.9 2083.3,1399.9 2084.9,1400.0 2086.4,1400.0 2088.0,1400.1 2089.6,1400.1 2091.1,1400.2 2092.7,1400.2 2094.2,1400.2 2095.8,1400.3 2097.4,1400.3 2098.9,1400.4 2100.5,1400.4 2102.0,1400.5 2103.6,1400.5 2105.2,1400.6 2106.7,1400.6 2108.3,1400.7 2109.8,1400.8 2111.4,1400.8 2113.0,1400.9 2114.5,1400.9 2116.1,1401.0 2117.7,1401.0 2119.2,1401.1 2120.8,1401.1 2122.3,1401.2 2123.9,1401.2 2125.5,1401.3 2127.0,1401.3 2128.6,1401.4 2130.1,1401.5 2131.7,1401.5 2133.3,1401.6 2134.8,1401.6 2136.4,1401.7 2137.9,1401.8 2139.5,1401.8 2141.1,1401.9 2142.6,1401.9 2144.2,1402.0 2145.7,1402.1 2147.3,1402.1 2148.9,1402.2 2150.4,1402.2 2152.0,1402.3 2153.6,1402.4 2155.1,1402.4 2156.7,1402.5 2158.2,1402.6 2159.8,1402.6 2161.4,1402.7 2162.9,1402.8 2164.5,1402.8 2166.0,1402.9 2167.6,1403.0 2169.2,1403.0 2170.7,1403.1 2172.3,1403.2 2173.8,1403.2 2175.4,1403.3 2177.0,1403.4 2178.5,1403.5 2180.1,1403.5 2181.6,1403.6 2183.2,1403.7 2184.8,1403.7 2186.3,1403.8 2187.9,1403.9 2189.5,1404.0 2191.0,1404.0 2192.6,1404.1 2194.1,1404.1 2195.7,1404.2 2197.3,1404.2 2198.8,1404.3 2200.4,1404.3 2201.9,1404.4 2203.5,1404.4" stroke="#16107a" stroke-width="8"/>
</g>
<g stroke="#000" stroke-width="13" fill="none" stroke-linecap="butt">
<line x1="312" y1="43.5" x2="2210.0" y2="43.5"/>
<line x1="330.5" y1="37" x2="330.5" y2="1450"/>
<line x1="2203.5" y1="37" x2="2203.5" y2="1452"/>
<line x1="298" y1="1419.5" x2="2210.0" y2="1419.5"/>
</g>
<g stroke="#000" stroke-width="12" fill="none">
<line x1="642.7" y1="1419.5" x2="642.7" y2="1451"/>
<line x1="954.8" y1="1419.5" x2="954.8" y2="1451"/>
<line x1="1267.0" y1="1419.5" x2="1267.0" y2="1451"/>
<line x1="1579.2" y1="1419.5" x2="1579.2" y2="1451"/>
<line x1="1891.3" y1="1419.5" x2="1891.3" y2="1451"/>
<line x1="486.6" y1="1419.5" x2="486.6" y2="1438"/>
<line x1="798.8" y1="1419.5" x2="798.8" y2="1438"/>
<line x1="1110.9" y1="1419.5" x2="1110.9" y2="1438"/>
<line x1="1423.1" y1="1419.5" x2="1423.1" y2="1438"/>
<line x1="1735.2" y1="1419.5" x2="1735.2" y2="1438"/>
<line x1="2047.4" y1="1419.5" x2="2047.4" y2="1438"/>
<line x1="298" y1="1169.3" x2="330.5" y2="1169.3"/>
<line x1="298" y1="919.0" x2="330.5" y2="919.0"/>
<line x1="298" y1="668.8" x2="330.5" y2="668.8"/>
<line x1="298" y1="418.5" x2="330.5" y2="418.5"/>
<line x1="298" y1="168.3" x2="330.5" y2="168.3"/>
<line x1="311" y1="1294.4" x2="330.5" y2="1294.4"/>
<line x1="311" y1="1044.1" x2="330.5" y2="1044.1"/>
<line x1="311" y1="793.9" x2="330.5" y2="793.9"/>
<line x1="311" y1="543.7" x2="330.5" y2="543.7"/>
<line x1="311" y1="293.4" x2="330.5" y2="293.4"/>
</g>
<text x="276.5" y="1521.0" font-size="66" font-weight="bold" textLength="109.9" lengthAdjust="spacingAndGlyphs" fill="#000">400</text>
<text x="588.7" y="1521.0" font-size="66" font-weight="bold" textLength="109.9" lengthAdjust="spacingAndGlyphs" fill="#000">450</text>
<text x="899.8" y="1521.0" font-size="66" font-weight="bold" textLength="110.9" lengthAdjust="spacingAndGlyphs" fill="#000">500</text>
<text x="1212.0" y="1521.0" font-size="66" font-weight="bold" textLength="110.9" lengthAdjust="spacingAndGlyphs" fill="#000">550</text>
<text x="1523.8" y="1521.0" font-size="66" font-weight="bold" textLength="111.2" lengthAdjust="spacingAndGlyphs" fill="#000">600</text>
<text x="1836.0" y="1521.0" font-size="66" font-weight="bold" textLength="111.2" lengthAdjust="spacingAndGlyphs" fill="#000">650</text>
<text x="2147.8" y="1521.0" font-size="66" font-weight="bold" textLength="111.6" lengthAdjust="spacingAndGlyphs" fill="#000">700</text>
<text x="188.1" y="1434.5" font-size="66" font-weight="bold" textLength="93.6" lengthAdjust="spacingAndGlyphs" fill="#000">0.0</text>
<text x="188.1" y="1184.3" font-size="66" font-weight="bold" textLength="93.6" lengthAdjust="spacingAndGlyphs" fill="#000">0.2</text>
<text x="185.8" y="934.0" font-size="66" font-weight="bold" textLength="93.6" lengthAdjust="spacingAndGlyphs" fill="#000">0.4</text>
<text x="187.8" y="683.8" font-size="66" font-weight="bold" textLength="93.6" lengthAdjust="spacingAndGlyphs" fill="#000">0.6</text>
<text x="187.4" y="433.5" font-size="66" font-weight="bold" textLength="93.6" lengthAdjust="spacingAndGlyphs" fill="#000">0.8</text>
<text x="188.1" y="183.3" font-size="66" font-weight="bold" textLength="93.6" lengthAdjust="spacingAndGlyphs" fill="#000">1.0</text>
<text x="976.0" y="1628.0" font-size="71" font-weight="bold" textLength="581.5" lengthAdjust="spacingAndGlyphs" fill="#000">Wavelength (nm)</text>
<text transform="translate(127.0,1056.2) rotate(-90)" x="0" y="0" font-size="73" font-weight="bold" textLength="613.9" lengthAdjust="spacingAndGlyphs" fill="#000">absorbance (a.u.)</text>
<text x="384.5" y="129.0" font-size="68" font-weight="bold" textLength="84.7" lengthAdjust="spacingAndGlyphs" fill="#000">(a)</text>
<text x="515.6" y="129.0" font-size="68" font-weight="bold" textLength="102.5" lengthAdjust="spacingAndGlyphs" fill="#000">BQ</text>
<line x1="1654" y1="180.0" x2="1834" y2="180.0" stroke="#000000" stroke-width="10"/>
<text x="1872.9" y="203.0" font-size="72" font-weight="bold" textLength="200.8" lengthAdjust="spacingAndGlyphs" fill="#000">0 min</text>
<line x1="1654" y1="283.6" x2="1834" y2="283.6" stroke="#c41c2c" stroke-width="10"/>
<text x="1855.1" y="307.0" font-size="72" font-weight="bold" textLength="241.7" lengthAdjust="spacingAndGlyphs" fill="#000">30 min</text>
<line x1="1654" y1="386.4" x2="1834" y2="386.4" stroke="#1a1060" stroke-width="10"/>
<text x="1853.3" y="409.0" font-size="72" font-weight="bold" textLength="243.5" lengthAdjust="spacingAndGlyphs" fill="#000">60 min</text>
<line x1="1654" y1="489.3" x2="1834" y2="489.3" stroke="#5a0c12" stroke-width="10"/>
<text x="1853.3" y="513.0" font-size="72" font-weight="bold" textLength="243.5" lengthAdjust="spacingAndGlyphs" fill="#000">90 min</text>
</g>
<g fill="none" stroke-linejoin="round" stroke-linecap="round">
<polyline points="298.9,3319.4 300.9,3320.0 302.9,3320.6 304.9,3321.2 306.9,3321.7 308.9,3322.3 310.8,3322.8 312.8,3323.4 314.8,3323.9 316.8,3324.4 318.8,3324.9 320.8,3325.4 322.7,3325.9 324.7,3326.4 326.7,3326.9 328.6,3327.3 330.6,3327.7 332.5,3328.2 334.5,3328.6 336.4,3329.0 338.4,3329.4 340.3,3329.8 342.3,3330.2 344.2,3330.5 346.2,3330.9 348.1,3331.2 350.1,3331.6 352.0,3331.9 353.9,3332.2 355.9,3332.5 357.8,3332.8 359.7,3333.1 361.7,3333.3 363.6,3333.6 365.5,3333.8 367.5,3334.1 369.4,3334.3 371.3,3334.5 373.2,3334.7 375.2,3334.9 377.1,3335.1 379.0,3335.2 380.9,3335.4 382.9,3335.5 384.8,3335.7 386.7,3335.8 388.6,3335.9 390.5,3336.0 392.5,3336.1 394.4,3336.2 396.3,3336.3 398.2,3336.3 400.2,3336.4 402.1,3336.4 404.0,3336.4 405.9,3336.5 407.9,3336.5 409.8,3336.5 411.7,3336.4 413.6,3336.4 415.6,3336.4 417.5,3336.3 419.4,3336.3 421.4,3336.2 423.3,3336.1 425.3,3336.0 427.2,3335.9 429.1,3335.8 431.1,3335.7 433.0,3335.6 435.0,3335.4 436.9,3335.3 438.9,3335.1 440.8,3334.9 442.8,3334.8 444.7,3334.6 446.7,3334.3 448.7,3334.1 450.6,3333.9 452.6,3333.7 454.6,3333.4 456.5,3333.1 458.5,3332.9 460.5,3332.6 462.5,3332.3 464.5,3332.0 466.4,3331.7 468.4,3331.4 470.4,3331.0 472.4,3330.7 474.4,3330.3 476.4,3329.9 478.4,3329.6 480.3,3329.2 482.3,3328.8 484.3,3328.3 486.3,3327.9 488.3,3327.5 490.3,3327.0 492.3,3326.6 494.2,3326.1 496.2,3325.6 498.2,3325.1 500.2,3324.6 502.1,3324.1 504.1,3323.5 506.1,3323.0 508.0,3322.4 510.0,3321.9 511.9,3321.3 513.9,3320.7 515.8,3320.1 517.8,3319.4 519.7,3318.8 521.6,3318.2 523.6,3317.5 525.5,3316.8 527.4,3316.2 529.3,3315.5 531.2,3314.8 533.1,3314.0 535.0,3313.3 536.9,3312.6 538.8,3311.8 540.6,3311.0 542.5,3310.2 544.4,3309.4 546.2,3308.6 548.0,3307.8 549.9,3306.9 551.7,3306.1 553.5,3305.2 555.3,3304.3 557.1,3303.5 558.9,3302.5 560.7,3301.6 562.4,3300.7 564.2,3299.7 565.9,3298.8 567.7,3297.8 569.4,3296.8 571.1,3295.8 572.8,3294.8 574.5,3293.8 576.2,3292.7 577.8,3291.6 579.5,3290.6 581.1,3289.5 582.8,3288.4 584.4,3287.3 586.0,3286.1 587.6,3285.0 589.1,3283.8 590.7,3282.6 592.2,3281.4 593.8,3280.2 595.3,3279.0 596.8,3277.8 598.3,3276.5 599.7,3275.3 601.2,3274.0 602.6,3272.7 604.1,3271.4 605.5,3270.1 606.9,3268.7 608.3,3267.4 609.6,3266.0 611.0,3264.6 612.3,3263.2 613.7,3261.8 615.0,3260.4 616.3,3259.0 617.6,3257.5 618.8,3256.1 620.1,3254.6 621.4,3253.1 622.6,3251.6 623.9,3250.2 625.1,3248.6 626.3,3247.1 627.5,3245.6 628.7,3244.1 629.9,3242.5 631.1,3241.0 632.2,3239.4 633.4,3237.8 634.6,3236.3 635.7,3234.7 636.9,3233.1 638.0,3231.5 639.1,3229.9 640.2,3228.3 641.4,3226.6 642.5,3225.0 643.6,3223.4 644.7,3221.7 645.8,3220.1 646.8,3218.4 647.9,3216.8 649.0,3215.1 650.1,3213.5 651.2,3211.8 652.2,3210.1 653.3,3208.5 654.4,3206.8 655.4,3205.1 656.5,3203.4 657.6,3201.8 658.6,3200.1 659.7,3198.4 660.7,3196.7 661.8,3195.0 662.9,3193.3 663.9,3191.6 665.0,3190.0 666.0,3188.3 667.1,3186.6 668.2,3184.9 669.2,3183.2 670.3,3181.5 671.4,3179.8 672.4,3178.2 673.5,3176.5 674.6,3174.8 675.7,3173.1 676.7,3171.4 677.8,3169.8 678.9,3168.1 680.0,3166.4 681.1,3164.8 682.2,3163.1 683.3,3161.5 684.4,3159.8 685.5,3158.2 686.7,3156.5 687.8,3154.8 688.9,3153.2 690.0,3151.5 691.1,3149.9 692.3,3148.3 693.4,3146.6 694.5,3145.0 695.6,3143.3 696.8,3141.7 697.9,3140.1 699.0,3138.4 700.2,3136.8 701.3,3135.2 702.4,3133.5 703.6,3131.9 704.7,3130.3 705.8,3128.6 707.0,3127.0 708.1,3125.4 709.3,3123.7 710.4,3122.1 711.5,3120.5 712.7,3118.8 713.8,3117.2 714.9,3115.6 716.1,3113.9 717.2,3112.3 718.3,3110.7 719.5,3109.1 720.6,3107.4 721.7,3105.8 722.9,3104.2 724.0,3102.5 725.1,3100.9 726.2,3099.3 727.4,3097.6 728.5,3096.0 729.6,3094.4 730.7,3092.7 731.8,3091.1 732.9,3089.4 734.0,3087.8 735.2,3086.2 736.3,3084.5 737.4,3082.9 738.4,3081.2 739.5,3079.6 740.6,3077.9 741.7,3076.3 742.8,3074.6 743.9,3073.0 744.9,3071.3 746.0,3069.6 747.1,3068.0 748.1,3066.3 749.2,3064.6 750.2,3063.0 751.3,3061.3 752.3,3059.6 753.4,3057.9 754.4,3056.3 755.4,3054.6 756.5,3052.9 757.5,3051.2 758.5,3049.5 759.5,3047.8 760.5,3046.1 761.5,3044.4 762.5,3042.7 763.5,3041.0 764.4,3039.3 765.4,3037.6 766.4,3035.9 767.3,3034.1 768.3,3032.4 769.2,3030.7 770.2,3028.9 771.1,3027.2 772.1,3025.5 773.0,3023.7 773.9,3022.0 774.8,3020.3 775.7,3018.5 776.6,3016.8 777.5,3015.0 778.4,3013.2 779.3,3011.5 780.2,3009.7 781.1,3008.0 782.0,3006.2 782.8,3004.4 783.7,3002.7 784.6,3000.9 785.4,2999.1 786.3,2997.3 787.1,2995.5 788.0,2993.8 788.8,2992.0 789.6,2990.2 790.5,2988.4 791.3,2986.6 792.1,2984.8 792.9,2983.0 793.7,2981.2 794.5,2979.4 795.3,2977.6 796.1,2975.8 796.9,2974.0 797.7,2972.2 798.5,2970.3 799.3,2968.5 800.1,2966.7 800.8,2964.9 801.6,2963.1 802.4,2961.2 803.1,2959.4 803.9,2957.6 804.6,2955.8 805.4,2953.9 806.1,2952.1 806.9,2950.3 807.6,2948.4 808.3,2946.6 809.1,2944.7 809.8,2942.9 810.5,2941.0 811.2,2939.2 811.9,2937.4 812.6,2935.5 813.3,2933.7 814.1,2931.8 814.8,2929.9 815.5,2928.1 816.1,2926.2 816.8,2924.4 817.5,2922.5 818.2,2920.7 818.9,2918.8 819.6,2916.9 820.2,2915.1 820.9,2913.2 821.6,2911.3 822.2,2909.5 822.9,2907.6 823.6,2905.7 824.2,2903.8 824.9,2902.0 825.5,2900.1 826.2,2898.2 826.8,2896.4 827.5,2894.5 828.1,2892.6 828.8,2890.7 829.4,2888.8 830.0,2887.0 830.6,2885.1 831.3,2883.2 831.9,2881.3 832.5,2879.4 833.1,2877.5 833.8,2875.6 834.4,2873.8 835.0,2871.9 835.6,2870.0 836.2,2868.1 836.8,2866.2 837.4,2864.3 838.0,2862.4 838.6,2860.5 839.2,2858.6 839.8,2856.8 840.4,2854.9 841.0,2853.0 841.6,2851.1 842.2,2849.2 842.8,2847.3 843.4,2845.4 844.0,2843.5 844.6,2841.6 845.1,2839.7 845.7,2837.8 846.3,2835.9 846.9,2834.0 847.4,2832.1 848.0,2830.2 848.6,2828.3 849.2,2826.4 849.7,2824.5 850.3,2822.6 850.9,2820.8 851.4,2818.9 852.0,2817.0 852.6,2815.1 853.1,2813.2 853.7,2811.3 854.3,2809.4 854.8,2807.5 855.4,2805.6 855.9,2803.7 856.5,2801.8 857.1,2799.9 857.6,2798.0 858.2,2796.1 858.7,2794.2 859.3,2792.3 859.8,2790.5 860.4,2788.6 860.9,2786.7 861.5,2784.8 862.0,2782.9 862.6,2781.0 863.1,2779.1 863.7,2777.2 864.2,2775.3 864.8,2773.5 865.3,2771.6 865.9,2769.7 866.4,2767.8 867.0,2765.9 867.5,2764.0 868.1,2762.2 868.6,2760.3 869.2,2758.4 869.7,2756.5 870.3,2754.6 870.8,2752.8 871.4,2750.9 871.9,2749.0 872.5,2747.1 873.0,2745.3 873.6,2743.4 874.1,2741.5 874.7,2739.7 875.3,2737.8 875.8,2735.9 876.4,2734.1 876.9,2732.2 877.5,2730.3 878.0,2728.5 878.6,2726.6 879.2,2724.8 879.7,2722.9 880.3,2721.0 880.9,2719.2 881.5,2717.3 882.1,2715.4 882.7,2713.6 883.3,2711.7 883.9,2709.8 884.5,2707.9 885.1,2706.1 885.8,2704.2 886.4,2702.3 887.1,2700.4 887.7,2698.5 888.4,2696.6 889.1,2694.8 889.8,2692.9 890.5,2691.0 891.2,2689.1 891.9,2687.2 892.7,2685.2 893.4,2683.3 894.2,2681.4 895.0,2679.5 895.8,2677.6 896.6,2675.6 897.4,2673.7 898.2,2671.8 899.1,2669.8 899.9,2667.9 900.8,2665.9 901.7,2663.9 902.6,2662.0 903.6,2660.0 904.5,2658.1 905.5,2656.1 906.5,2654.2 907.6,2652.4 908.6,2650.6 909.7,2648.8 910.8,2647.2 912.0,2645.6 913.2,2644.0 914.4,2642.6 915.6,2641.3 916.9,2640.1 918.2,2639.0 919.6,2638.0 921.0,2637.2 922.5,2636.5 924.0,2636.0 925.5,2635.6 927.1,2635.4 928.7,2635.4 930.4,2635.6 932.0,2635.9 933.7,2636.3 935.4,2636.9 937.0,2637.7 938.5,2638.5 940.0,2639.5 941.4,2640.5 942.7,2641.7 943.9,2642.9 945.1,2644.3 946.3,2645.7 947.4,2647.2 948.4,2648.8 949.4,2650.5 950.3,2652.2 951.2,2654.0 952.0,2655.8 952.9,2657.7 953.6,2659.6 954.4,2661.6 955.1,2663.6 955.8,2665.6 956.4,2667.7 957.1,2669.7 957.7,2671.8 958.3,2673.9 958.9,2676.0 959.5,2678.1 960.1,2680.2 960.6,2682.3 961.2,2684.4 961.8,2686.4 962.4,2688.5 963.0,2690.5 963.6,2692.5 964.1,2694.5 964.7,2696.4 965.3,2698.4 965.9,2700.4 966.5,2702.3 967.0,2704.2 967.6,2706.1 968.2,2708.1 968.8,2710.0 969.3,2711.8 969.9,2713.7 970.5,2715.6 971.0,2717.5 971.6,2719.4 972.1,2721.2 972.7,2723.1 973.2,2724.9 973.8,2726.8 974.3,2728.6 974.9,2730.5 975.4,2732.3 975.9,2734.2 976.4,2736.0 977.0,2737.9 977.5,2739.7 978.0,2741.6 978.5,2743.5 979.0,2745.3 979.5,2747.2 979.9,2749.1 980.4,2750.9 980.9,2752.8 981.3,2754.7 981.8,2756.6 982.3,2758.5 982.7,2760.3 983.1,2762.2 983.6,2764.1 984.0,2766.0 984.4,2767.9 984.9,2769.8 985.3,2771.7 985.7,2773.7 986.1,2775.6 986.5,2777.5 986.9,2779.4 987.3,2781.3 987.7,2783.2 988.1,2785.2 988.4,2787.1 988.8,2789.0 989.2,2791.0 989.6,2792.9 989.9,2794.8 990.3,2796.8 990.6,2798.7 991.0,2800.7 991.4,2802.6 991.7,2804.6 992.0,2806.5 992.4,2808.5 992.7,2810.4 993.1,2812.4 993.4,2814.3 993.7,2816.3 994.0,2818.2 994.4,2820.2 994.7,2822.2 995.0,2824.1 995.3,2826.1 995.6,2828.1 995.9,2830.0 996.2,2832.0 996.5,2834.0 996.8,2835.9 997.1,2837.9 997.4,2839.9 997.7,2841.9 998.0,2843.8 998.3,2845.8 998.6,2847.8 998.9,2849.8 999.2,2851.8 999.5,2853.7 999.7,2855.7 1000.0,2857.7 1000.3,2859.7 1000.6,2861.7 1000.9,2863.6 1001.1,2865.6 1001.4,2867.6 1001.7,2869.6 1002.0,2871.6 1002.2,2873.6 1002.5,2875.5 1002.8,2877.5 1003.1,2879.5 1003.3,2881.5 1003.6,2883.5 1003.9,2885.5 1004.2,2887.4 1004.4,2889.4 1004.7,2891.4 1005.0,2893.4 1005.2,2895.4 1005.5,2897.4 1005.8,2899.3 1006.1,2901.3 1006.3,2903.3 1006.6,2905.3 1006.9,2907.3 1007.2,2909.2 1007.4,2911.2 1007.7,2913.2 1008.0,2915.2 1008.3,2917.1 1008.6,2919.1 1008.8,2921.1 1009.1,2923.0 1009.4,2925.0 1009.7,2927.0 1010.0,2928.9 1010.3,2930.9 1010.6,2932.9 1010.9,2934.8 1011.2,2936.8 1011.5,2938.8 1011.8,2940.7 1012.1,2942.7 1012.4,2944.6 1012.7,2946.6 1013.0,2948.5 1013.3,2950.5 1013.6,2952.5 1013.9,2954.4 1014.2,2956.4 1014.5,2958.3 1014.8,2960.3 1015.1,2962.2 1015.4,2964.2 1015.7,2966.1 1016.1,2968.0 1016.4,2970.0 1016.7,2971.9 1017.0,2973.9 1017.4,2975.8 1017.7,2977.8 1018.0,2979.7 1018.3,2981.6 1018.7,2983.6 1019.0,2985.5 1019.3,2987.5 1019.7,2989.4 1020.0,2991.3 1020.3,2993.3 1020.7,2995.2 1021.0,2997.1 1021.3,2999.1 1021.7,3001.0 1022.0,3002.9 1022.4,3004.9 1022.7,3006.8 1023.1,3008.7 1023.4,3010.7 1023.8,3012.6 1024.1,3014.5 1024.5,3016.4 1024.8,3018.4 1025.2,3020.3 1025.5,3022.2 1025.9,3024.1 1026.2,3026.1 1026.6,3028.0 1027.0,3029.9 1027.3,3031.9 1027.7,3033.8 1028.0,3035.7 1028.4,3037.6 1028.8,3039.6 1029.2,3041.5 1029.5,3043.4 1029.9,3045.3 1030.3,3047.3 1030.6,3049.2 1031.0,3051.1 1031.4,3053.0 1031.8,3054.9 1032.2,3056.9 1032.5,3058.8 1032.9,3060.7 1033.3,3062.6 1033.7,3064.6 1034.1,3066.5 1034.5,3068.4 1034.8,3070.3 1035.2,3072.3 1035.6,3074.2 1036.0,3076.1 1036.4,3078.0 1036.8,3079.9 1037.2,3081.9 1037.6,3083.8 1038.0,3085.7 1038.4,3087.6 1038.8,3089.6 1039.2,3091.5 1039.6,3093.4 1040.0,3095.3 1040.4,3097.3 1040.8,3099.2 1041.2,3101.1 1041.6,3103.0 1042.1,3105.0 1042.5,3106.9 1042.9,3108.8 1043.3,3110.8 1043.7,3112.7 1044.1,3114.6 1044.5,3116.5 1045.0,3118.5 1045.4,3120.4 1045.8,3122.3 1046.2,3124.3 1046.7,3126.2 1047.1,3128.1 1047.5,3130.1 1047.9,3132.0 1048.4,3133.9 1048.8,3135.9 1049.2,3137.8 1049.7,3139.7 1050.1,3141.7 1050.5,3143.6 1051.0,3145.5 1051.4,3147.5 1051.8,3149.4 1052.3,3151.4 1052.7,3153.3 1053.1,3155.2 1053.6,3157.2 1054.0,3159.1 1054.5,3161.1 1054.9,3163.0 1055.4,3165.0 1055.8,3166.9 1056.3,3168.9 1056.7,3170.8 1057.2,3172.8 1057.6,3174.7 1058.1,3176.7 1058.5,3178.6 1059.0,3180.6 1059.4,3182.5 1059.9,3184.5 1060.4,3186.4 1060.8,3188.4 1061.3,3190.4 1061.8,3192.3 1062.2,3194.3 1062.7,3196.2 1063.2,3198.2 1063.6,3200.1 1064.1,3202.1 1064.6,3204.1 1065.1,3206.0 1065.6,3208.0 1066.0,3209.9 1066.5,3211.9 1067.0,3213.8 1067.5,3215.8 1068.0,3217.7 1068.5,3219.7 1069.0,3221.7 1069.6,3223.6 1070.1,3225.5 1070.6,3227.5 1071.1,3229.4 1071.7,3231.4 1072.2,3233.3 1072.7,3235.3 1073.3,3237.2 1073.8,3239.1 1074.4,3241.1 1074.9,3243.0 1075.5,3244.9 1076.1,3246.9 1076.7,3248.8 1077.2,3250.7 1077.8,3252.6 1078.4,3254.5 1079.0,3256.4 1079.6,3258.3 1080.3,3260.2 1080.9,3262.1 1081.5,3264.0 1082.1,3265.9 1082.8,3267.8 1083.4,3269.7 1084.1,3271.6 1084.8,3273.5 1085.4,3275.3 1086.1,3277.2 1086.8,3279.1 1087.5,3280.9 1088.2,3282.8 1088.9,3284.6 1089.6,3286.5 1090.4,3288.3 1091.1,3290.1 1091.9,3292.0 1092.6,3293.8 1093.4,3295.6 1094.2,3297.4 1094.9,3299.2 1095.7,3301.0 1096.5,3302.8 1097.4,3304.6 1098.2,3306.4 1099.0,3308.2 1099.9,3309.9 1100.7,3311.7 1101.6,3313.5 1102.4,3315.2 1103.3,3317.0 1104.2,3318.7 1105.1,3320.4 1106.1,3322.1 1107.0,3323.9 1107.9,3325.6 1108.9,3327.3 1109.9,3329.0 1110.8,3330.6 1111.8,3332.3 1112.8,3334.0 1113.8,3335.6 1114.9,3337.3 1115.9,3338.9 1117.0,3340.6 1118.0,3342.2 1119.1,3343.8 1120.2,3345.4 1121.3,3347.0 1122.4,3348.6 1123.5,3350.2 1124.7,3351.8 1125.8,3353.4 1127.0,3354.9 1128.2,3356.5 1129.4,3358.0 1130.6,3359.5 1131.8,3361.1 1133.1,3362.6 1134.3,3364.1 1135.6,3365.5 1136.9,3367.0 1138.2,3368.5 1139.5,3370.0 1140.9,3371.4 1142.2,3372.8 1143.6,3374.3 1144.9,3375.7 1146.3,3377.1 1147.7,3378.5 1149.2,3379.9 1150.6,3381.2 1152.0,3382.6 1153.5,3383.9 1155.0,3385.2 1156.5,3386.6 1158.0,3387.9 1159.5,3389.2 1161.0,3390.4 1162.6,3391.7 1164.1,3393.0 1165.7,3394.2 1167.2,3395.4 1168.8,3396.6 1170.4,3397.8 1172.0,3399.0 1173.7,3400.2 1175.3,3401.3 1176.9,3402.5 1178.6,3403.6 1180.3,3404.7 1181.9,3405.8 1183.6,3406.9 1185.3,3407.9 1187.0,3409.0 1188.7,3410.0 1190.5,3411.0 1192.2,3412.0 1193.9,3413.0 1195.7,3413.9 1197.5,3414.9 1199.2,3415.8 1201.0,3416.7 1202.8,3417.6 1204.6,3418.5 1206.4,3419.3 1208.2,3420.2 1210.0,3421.0 1211.8,3421.8 1213.7,3422.6 1215.5,3423.3 1217.3,3424.1 1219.2,3424.8 1221.1,3425.5 1222.9,3426.2 1224.8,3426.8 1226.7,3427.5 1228.5,3428.1 1230.4,3428.7 1232.3,3429.2 1234.2,3429.8 1236.1,3430.3 1238.0,3430.9 1239.9,3431.3 1241.9,3431.8 1243.8,3432.3 1245.7,3432.7 1247.6,3433.1 1249.6,3433.5 1251.5,3433.9 1253.4,3434.2 1255.4,3434.6 1257.3,3434.9 1259.3,3435.2 1261.2,3435.5 1263.2,3435.8 1265.2,3436.0 1267.1,3436.3 1269.1,3436.5 1271.1,3436.7 1273.0,3436.9 1275.0,3437.1 1277.0,3437.3 1279.0,3437.5 1280.9,3437.7 1282.9,3437.8 1284.9,3438.0 1286.9,3438.1 1288.9,3438.2 1290.9,3438.3 1292.9,3438.4 1294.8,3438.6 1296.8,3438.7 1298.8,3438.8 1300.8,3438.8 1302.8,3438.9 1304.8,3439.0 1306.8,3439.1 1308.8,3439.2 1310.8,3439.2 1312.8,3439.3 1314.8,3439.4 1316.8,3439.4 1318.8,3439.5 1320.8,3439.6 1322.8,3439.7 1324.8,3439.7 1326.8,3439.8 1328.7,3439.9 1330.7,3439.9 1332.7,3440.0 1334.7,3440.1 1336.7,3440.1 1338.7,3440.2 1340.7,3440.3 1342.7,3440.3 1344.7,3440.4 1346.7,3440.5 1348.7,3440.6 1350.6,3440.6 1352.6,3440.7 1354.6,3440.8 1356.6,3440.8 1358.6,3440.9 1360.6,3441.0 1362.6,3441.0 1364.6,3441.1 1366.5,3441.2 1368.5,3441.3 1370.5,3441.3 1372.5,3441.4 1374.5,3441.5 1376.5,3441.5 1378.5,3441.6 1380.4,3441.7 1382.4,3441.8 1384.4,3441.8 1386.4,3441.9 1388.4,3442.0 1390.4,3442.0 1392.4,3442.1 1394.3,3442.2 1396.3,3442.3 1398.3,3442.3 1400.3,3442.4 1402.3,3442.5 1404.2,3442.6 1406.2,3442.6 1408.2,3442.7 1410.2,3442.8 1412.2,3442.9 1414.1,3442.9 1416.1,3443.0 1418.1,3443.1 1420.1,3443.2 1422.1,3443.2 1424.0,3443.3 1426.0,3443.4 1428.0,3443.5 1430.0,3443.6 1432.0,3443.6 1433.9,3443.7 1435.9,3443.8 1437.9,3443.9 1439.9,3443.9 1441.9,3444.0 1443.8,3444.1 1445.8,3444.2 1447.8,3444.3 1449.8,3444.3 1451.7,3444.4 1453.7,3444.5 1455.7,3444.6 1457.7,3444.7 1459.6,3444.8 1461.6,3444.8 1463.6,3444.9 1465.6,3445.0 1467.6,3445.1 1469.5,3445.2 1471.5,3445.3 1473.5,3445.4 1475.5,3445.4 1477.4,3445.5 1479.4,3445.6 1481.4,3445.7 1483.4,3445.8 1485.3,3445.9 1487.3,3446.0 1489.3,3446.1 1491.3,3446.2 1493.2,3446.2 1495.2,3446.3 1497.2,3446.4 1499.1,3446.5 1501.1,3446.6 1503.1,3446.7 1505.1,3446.8 1507.0,3446.9 1509.0,3447.0 1511.0,3447.1 1513.0,3447.2 1514.9,3447.3 1516.9,3447.4 1518.9,3447.5 1520.9,3447.6 1522.8,3447.7 1524.8,3447.8 1526.8,3447.9 1528.8,3448.0 1530.7,3448.1 1532.7,3448.2 1534.7,3448.3 1536.6,3448.4 1538.6,3448.5 1540.6,3448.6 1542.6,3448.7 1544.5,3448.8 1546.5,3448.9 1548.5,3449.0 1550.5,3449.1 1552.4,3449.2 1554.4,3449.4 1556.4,3449.5 1558.4,3449.6 1560.3,3449.7 1562.3,3449.8 1564.3,3449.9 1566.2,3450.0 1568.2,3450.1 1570.2,3450.3 1572.2,3450.4 1574.1,3450.5 1576.1,3450.6 1578.1,3450.7 1580.1,3450.8 1582.0,3451.0 1584.0,3451.1 1586.0,3451.2 1588.0,3451.3 1589.9,3451.4 1591.9,3451.6 1593.9,3451.7 1595.8,3451.8 1597.8,3451.9 1599.8,3452.1 1601.8,3452.2 1603.7,3452.3 1605.7,3452.4 1607.7,3452.6 1609.7,3452.7 1611.6,3452.8 1613.6,3453.0 1615.6,3453.1 1617.6,3453.2 1619.5,3453.3 1621.5,3453.5 1623.5,3453.6 1625.5,3453.7 1627.4,3453.9 1629.4,3454.0 1631.4,3454.1 1633.3,3454.3 1635.3,3454.4 1637.3,3454.5 1639.3,3454.7 1641.2,3454.8 1643.2,3454.9 1645.2,3455.1 1647.2,3455.2 1649.1,3455.4 1651.1,3455.5 1653.1,3455.6 1655.1,3455.8 1657.0,3455.9 1659.0,3456.0 1661.0,3456.2 1663.0,3456.3 1664.9,3456.5 1666.9,3456.6 1668.9,3456.7 1670.9,3456.9 1672.8,3457.0 1674.8,3457.2 1676.8,3457.3 1678.8,3457.5 1680.7,3457.6 1682.7,3457.7 1684.7,3457.9 1686.6,3458.0 1688.6,3458.2 1690.6,3458.3 1692.6,3458.5 1694.5,3458.6 1696.5,3458.8 1698.5,3458.9 1700.5,3459.0 1702.4,3459.2 1704.4,3459.3 1706.4,3459.5 1708.4,3459.6 1710.3,3459.8 1712.3,3459.9 1714.3,3460.1 1716.3,3460.2 1718.2,3460.4 1720.2,3460.5 1722.2,3460.7 1724.2,3460.8 1726.1,3461.0 1728.1,3461.1 1730.1,3461.3 1732.1,3461.4 1734.0,3461.6 1736.0,3461.7 1738.0,3461.9 1740.0,3462.0 1741.9,3462.2 1743.9,3462.3 1745.9,3462.5 1747.9,3462.6 1749.8,3462.8 1751.8,3462.9 1753.8,3463.1 1755.8,3463.2 1757.7,3463.4 1759.7,3463.5 1761.7,3463.7 1763.7,3463.8 1765.6,3464.0 1767.6,3464.1 1769.6,3464.3 1771.6,3464.4 1773.5,3464.6 1775.5,3464.7 1777.5,3464.9 1779.5,3465.0 1781.4,3465.2 1783.4,3465.3 1785.4,3465.5 1787.4,3465.6 1789.3,3465.8 1791.3,3465.9 1793.3,3466.1 1795.3,3466.2 1797.2,3466.4 1799.2,3466.5 1801.2,3466.7 1803.2,3466.8 1805.1,3467.0 1807.1,3467.1 1809.1,3467.3 1811.1,3467.4 1813.0,3467.6 1815.0,3467.7 1817.0,3467.9 1819.0,3468.0 1820.9,3468.2 1822.9,3468.3 1824.9,3468.5 1826.9,3468.6 1828.8,3468.8 1830.8,3468.9 1832.8,3469.1 1834.8,3469.2 1836.7,3469.4 1838.7,3469.5 1840.7,3469.7 1842.7,3469.8 1844.6,3470.0 1846.6,3470.1 1848.6,3470.3 1850.6,3470.4 1852.6,3470.5 1854.5,3470.7 1856.5,3470.8 1858.5,3471.0 1860.5,3471.1 1862.4,3471.3 1864.4,3471.4 1866.4,3471.6 1868.4,3471.7 1870.3,3471.9 1872.3,3472.0 1874.3,3472.1 1876.3,3472.3 1878.2,3472.4 1880.2,3472.6 1882.2,3472.7 1884.2,3472.9 1886.1,3473.0 1888.1,3473.1 1890.1,3473.3 1892.1,3473.4 1894.0,3473.6 1896.0,3473.7 1898.0,3473.8 1900.0,3474.0 1902.0,3474.1 1903.9,3474.3 1905.9,3474.4 1907.9,3474.5 1909.9,3474.7 1911.8,3474.8 1913.8,3475.0 1915.8,3475.1 1917.8,3475.2 1919.7,3475.4 1921.7,3475.5 1923.7,3475.6 1925.7,3475.8 1927.6,3475.9 1929.6,3476.0 1931.6,3476.2 1933.6,3476.3 1935.6,3476.4 1937.5,3476.6 1939.5,3476.7 1941.5,3476.8 1943.5,3476.9 1945.4,3477.1 1947.4,3477.2 1949.4,3477.3 1951.4,3477.5 1953.3,3477.6 1955.3,3477.7 1957.3,3477.8 1959.3,3478.0 1961.3,3478.1 1963.2,3478.2 1965.2,3478.3 1967.2,3478.5 1969.2,3478.6 1971.1,3478.7 1973.1,3478.8 1975.1,3478.9 1977.1,3479.1 1979.0,3479.2 1981.0,3479.3 1983.0,3479.4 1985.0,3479.5 1987.0,3479.7 1988.9,3479.8 1990.9,3479.9 1992.9,3480.0 1994.9,3480.1 1996.8,3480.2 1998.8,3480.3 2000.8,3480.5 2002.8,3480.6 2004.7,3480.7 2006.7,3480.8 2008.7,3480.9 2010.7,3481.0 2012.7,3481.1 2014.6,3481.2 2016.6,3481.3 2018.6,3481.4 2020.6,3481.5 2022.5,3481.6 2024.5,3481.7 2026.5,3481.8 2028.5,3481.9 2030.5,3482.1 2032.4,3482.2 2034.4,3482.2 2036.4,3482.3 2038.4,3482.4 2040.3,3482.5 2042.3,3482.6 2044.3,3482.7 2046.3,3482.8 2048.3,3482.9 2050.2,3483.0 2052.2,3483.1 2054.2,3483.2 2056.2,3483.3 2058.1,3483.4 2060.1,3483.5 2062.1,3483.6 2064.1,3483.6 2066.1,3483.7 2068.0,3483.8 2070.0,3483.9 2072.0,3484.0 2074.0,3484.1 2075.9,3484.1 2077.9,3484.2 2079.9,3484.3 2081.9,3484.4 2083.9,3484.5 2085.8,3484.5 2087.8,3484.6 2089.8,3484.7 2091.8,3484.8 2093.7,3484.8 2095.7,3484.9 2097.7,3485.0 2099.7,3485.0 2101.7,3485.1 2103.6,3485.2 2105.6,3485.2 2107.6,3485.3 2109.6,3485.4 2111.6,3485.4 2113.5,3485.5 2115.5,3485.6 2117.5,3485.6 2119.5,3485.7 2121.4,3485.7 2123.4,3485.8 2125.4,3485.8 2127.4,3485.9 2129.4,3486.0 2131.3,3486.0 2133.3,3486.1 2135.3,3486.1 2137.3,3486.2 2139.3,3486.2 2141.2,3486.3 2143.2,3486.3 2145.2,3486.3 2147.2,3486.4 2149.2,3486.4 2151.1,3486.5 2153.1,3486.5 2155.1,3486.5 2157.1,3486.6 2159.0,3486.6 2161.0,3486.7 2163.0,3486.7 2165.0,3486.7 2167.0,3486.8 2168.9,3486.8 2170.9,3486.8 2172.9,3486.8 2174.9,3486.9 2176.9,3486.9 2178.8,3486.9 2180.8,3486.9 2182.8,3487.0 2184.8,3487.0 2186.8,3487.0 2188.7,3487.0 2190.7,3487.0 2192.7,3487.0 2194.7,3487.1 2196.7,3487.1 2198.6,3487.1 2200.6,3487.1 2202.6,3487.1 2204.6,3487.1 2206.5,3487.1 2208.5,3487.1 2210.5,3487.1 2212.5,3487.1 2214.5,3487.1 2216.4,3487.1 2218.4,3487.1 2220.4,3487.1 2222.4,3487.1 2224.4,3487.1 2226.3,3487.1 2228.3,3487.1 2230.3,3487.1 2232.3,3487.1 2234.3,3487.1 2236.2,3487.0 2238.2,3487.0 2240.2,3487.0 2242.2,3487.0 2244.2,3487.0 2246.1,3486.9 2248.1,3486.9 2250.1,3486.9 2252.1,3486.9 2254.1,3486.8 2256.0,3486.8 2258.0,3486.8 2260.0,3486.7 2262.0,3486.7" stroke="#7a0000" stroke-width="10"/>
<polyline points="299.1,3301.2 300.9,3301.8 302.7,3302.4 304.5,3303.0 306.3,3303.6 308.1,3304.2 310.0,3304.7 311.8,3305.3 313.6,3305.9 315.4,3306.5 317.2,3307.0 319.1,3307.6 320.9,3308.1 322.7,3308.7 324.6,3309.2 326.4,3309.7 328.3,3310.3 330.1,3310.8 332.0,3311.3 333.8,3311.8 335.7,3312.3 337.5,3312.8 339.4,3313.3 341.2,3313.7 343.1,3314.2 344.9,3314.7 346.8,3315.1 348.7,3315.6 350.5,3316.0 352.4,3316.5 354.3,3316.9 356.1,3317.3 358.0,3317.8 359.9,3318.2 361.8,3318.6 363.6,3319.0 365.5,3319.4 367.4,3319.7 369.3,3320.1 371.2,3320.5 373.0,3320.9 374.9,3321.2 376.8,3321.5 378.7,3321.9 380.6,3322.2 382.5,3322.5 384.4,3322.9 386.3,3323.2 388.2,3323.5 390.1,3323.7 392.0,3324.0 393.9,3324.3 395.8,3324.6 397.7,3324.8 399.6,3325.1 401.5,3325.3 403.4,3325.6 405.3,3325.8 407.2,3326.0 409.1,3326.2 411.0,3326.4 412.9,3326.6 414.8,3326.8 416.7,3326.9 418.6,3327.1 420.5,3327.3 422.4,3327.4 424.3,3327.6 426.2,3327.7 428.1,3327.8 430.0,3327.9 431.9,3328.0 433.8,3328.1 435.7,3328.2 437.6,3328.3 439.5,3328.3 441.4,3328.4 443.3,3328.4 445.2,3328.5 447.1,3328.5 449.1,3328.5 451.0,3328.5 452.9,3328.5 454.8,3328.5 456.7,3328.5 458.6,3328.4 460.5,3328.4 462.4,3328.3 464.3,3328.3 466.2,3328.2 468.1,3328.1 470.0,3328.0 471.9,3327.9 473.8,3327.8 475.7,3327.7 477.5,3327.5 479.4,3327.4 481.3,3327.2 483.2,3327.1 485.1,3326.9 487.0,3326.7 488.9,3326.5 490.8,3326.3 492.7,3326.0 494.5,3325.8 496.4,3325.6 498.3,3325.3 500.2,3325.0 502.1,3324.8 503.9,3324.5 505.8,3324.2 507.7,3323.9 509.6,3323.5 511.4,3323.2 513.3,3322.8 515.2,3322.5 517.0,3322.1 518.9,3321.7 520.8,3321.3 522.6,3320.9 524.5,3320.5 526.3,3320.1 528.2,3319.6 530.0,3319.2 531.9,3318.7 533.7,3318.2 535.6,3317.7 537.4,3317.2 539.3,3316.7 541.1,3316.2 542.9,3315.6 544.8,3315.1 546.6,3314.5 548.4,3313.9 550.3,3313.3 552.1,3312.7 553.9,3312.1 555.7,3311.5 557.5,3310.8 559.3,3310.2 561.2,3309.5 563.0,3308.8 564.8,3308.1 566.6,3307.4 568.4,3306.7 570.2,3306.0 572.0,3305.2 573.7,3304.5 575.5,3303.7 577.3,3302.9 579.1,3302.1 580.8,3301.3 582.6,3300.5 584.4,3299.7 586.1,3298.8 587.9,3298.0 589.6,3297.1 591.3,3296.2 593.1,3295.4 594.8,3294.5 596.5,3293.6 598.2,3292.7 599.9,3291.7 601.6,3290.8 603.3,3289.9 605.0,3288.9 606.7,3287.9 608.4,3287.0 610.0,3286.0 611.7,3285.0 613.3,3284.0 615.0,3283.0 616.6,3282.0 618.2,3281.0 619.8,3279.9 621.4,3278.9 623.0,3277.8 624.6,3276.8 626.2,3275.7 627.7,3274.6 629.3,3273.5 630.8,3272.4 632.3,3271.2 633.8,3270.1 635.3,3268.9 636.8,3267.7 638.2,3266.5 639.7,3265.3 641.1,3264.1 642.5,3262.8 643.8,3261.6 645.2,3260.3 646.5,3258.9 647.8,3257.6 649.1,3256.2 650.4,3254.9 651.7,3253.5 652.9,3252.0 654.1,3250.6 655.3,3249.1 656.5,3247.6 657.6,3246.2 658.8,3244.6 659.9,3243.1 661.0,3241.6 662.2,3240.0 663.3,3238.5 664.3,3236.9 665.4,3235.3 666.5,3233.7 667.6,3232.2 668.6,3230.6 669.7,3229.0 670.7,3227.3 671.8,3225.7 672.8,3224.1 673.9,3222.5 674.9,3220.9 676.0,3219.3 677.0,3217.7 678.1,3216.0 679.1,3214.4 680.2,3212.8 681.3,3211.2 682.3,3209.6 683.4,3208.0 684.4,3206.4 685.5,3204.8 686.6,3203.2 687.6,3201.6 688.7,3200.0 689.8,3198.4 690.8,3196.8 691.9,3195.2 693.0,3193.6 694.0,3192.0 695.1,3190.4 696.2,3188.8 697.2,3187.2 698.3,3185.6 699.4,3184.0 700.5,3182.4 701.5,3180.8 702.6,3179.2 703.7,3177.7 704.7,3176.1 705.8,3174.5 706.9,3172.9 708.0,3171.3 709.0,3169.7 710.1,3168.1 711.2,3166.5 712.2,3164.9 713.3,3163.3 714.4,3161.7 715.5,3160.2 716.5,3158.6 717.6,3157.0 718.7,3155.4 719.7,3153.8 720.8,3152.2 721.8,3150.6 722.9,3149.0 724.0,3147.4 725.0,3145.8 726.1,3144.2 727.1,3142.6 728.2,3141.0 729.2,3139.4 730.3,3137.8 731.3,3136.2 732.4,3134.6 733.4,3133.0 734.5,3131.4 735.5,3129.8 736.5,3128.2 737.6,3126.6 738.6,3125.0 739.7,3123.4 740.7,3121.8 741.7,3120.2 742.7,3118.6 743.7,3116.9 744.8,3115.3 745.8,3113.7 746.8,3112.1 747.8,3110.5 748.8,3108.9 749.8,3107.2 750.8,3105.6 751.8,3104.0 752.8,3102.4 753.8,3100.7 754.8,3099.1 755.8,3097.5 756.7,3095.8 757.7,3094.2 758.7,3092.5 759.7,3090.9 760.6,3089.3 761.6,3087.6 762.5,3086.0 763.5,3084.3 764.4,3082.7 765.4,3081.0 766.3,3079.3 767.3,3077.7 768.2,3076.0 769.1,3074.4 770.1,3072.7 771.0,3071.0 771.9,3069.4 772.8,3067.7 773.7,3066.0 774.6,3064.3 775.5,3062.7 776.4,3061.0 777.3,3059.3 778.2,3057.6 779.1,3055.9 780.0,3054.2 780.9,3052.6 781.8,3050.9 782.7,3049.2 783.5,3047.5 784.4,3045.8 785.3,3044.1 786.1,3042.4 787.0,3040.7 787.9,3039.0 788.7,3037.3 789.6,3035.6 790.4,3033.9 791.3,3032.2 792.1,3030.5 793.0,3028.7 793.8,3027.0 794.6,3025.3 795.5,3023.6 796.3,3021.9 797.1,3020.2 797.9,3018.4 798.8,3016.7 799.6,3015.0 800.4,3013.3 801.2,3011.5 802.0,3009.8 802.8,3008.1 803.6,3006.3 804.4,3004.6 805.2,3002.9 806.0,3001.1 806.8,2999.4 807.6,2997.7 808.4,2995.9 809.2,2994.2 810.0,2992.4 810.8,2990.7 811.5,2989.0 812.3,2987.2 813.1,2985.5 813.9,2983.7 814.6,2982.0 815.4,2980.2 816.2,2978.5 816.9,2976.7 817.7,2974.9 818.5,2973.2 819.2,2971.4 820.0,2969.7 820.7,2967.9 821.5,2966.2 822.2,2964.4 823.0,2962.6 823.7,2960.9 824.5,2959.1 825.2,2957.3 825.9,2955.6 826.7,2953.8 827.4,2952.0 828.1,2950.3 828.9,2948.5 829.6,2946.7 830.3,2945.0 831.0,2943.2 831.8,2941.4 832.5,2939.7 833.2,2937.9 833.9,2936.1 834.6,2934.3 835.4,2932.6 836.1,2930.8 836.8,2929.0 837.5,2927.2 838.2,2925.4 838.9,2923.7 839.6,2921.9 840.3,2920.1 841.0,2918.3 841.7,2916.5 842.4,2914.8 843.1,2913.0 843.8,2911.2 844.5,2909.4 845.2,2907.6 845.9,2905.8 846.6,2904.0 847.3,2902.3 848.0,2900.5 848.7,2898.7 849.4,2896.9 850.1,2895.1 850.7,2893.3 851.4,2891.5 852.1,2889.7 852.8,2888.0 853.5,2886.2 854.2,2884.4 854.8,2882.6 855.5,2880.8 856.2,2879.0 856.9,2877.2 857.6,2875.4 858.2,2873.6 858.9,2871.8 859.6,2870.0 860.3,2868.2 860.9,2866.5 861.6,2864.7 862.3,2862.9 862.9,2861.1 863.6,2859.3 864.3,2857.5 865.0,2855.7 865.6,2853.9 866.3,2852.1 867.0,2850.3 867.6,2848.5 868.3,2846.7 869.0,2844.9 869.6,2843.1 870.3,2841.4 871.0,2839.6 871.6,2837.8 872.3,2836.0 873.0,2834.2 873.6,2832.4 874.3,2830.6 875.0,2828.8 875.6,2827.0 876.3,2825.2 876.9,2823.4 877.6,2821.6 878.3,2819.8 878.9,2818.1 879.6,2816.3 880.3,2814.5 880.9,2812.7 881.6,2810.9 882.3,2809.1 882.9,2807.3 883.6,2805.5 884.2,2803.7 884.9,2802.0 885.6,2800.2 886.2,2798.4 886.9,2796.6 887.6,2794.8 888.2,2793.0 888.9,2791.2 889.6,2789.5 890.2,2787.7 890.9,2785.9 891.6,2784.1 892.2,2782.3 892.9,2780.5 893.6,2778.8 894.3,2777.0 894.9,2775.2 895.6,2773.4 896.3,2771.6 896.9,2769.9 897.6,2768.1 898.3,2766.3 899.0,2764.5 899.6,2762.8 900.3,2761.0 901.0,2759.2 901.7,2757.4 902.3,2755.7 903.0,2753.9 903.7,2752.1 904.4,2750.4 905.1,2748.6 905.7,2746.8 906.4,2745.1 907.1,2743.3 907.8,2741.5 908.5,2739.8 909.2,2738.0 909.9,2736.2 910.6,2734.5 911.3,2732.7 912.0,2731.0 912.6,2729.2 913.4,2727.5 914.1,2725.7 914.8,2723.9 915.5,2722.2 916.2,2720.4 916.9,2718.7 917.6,2716.9 918.4,2715.2 919.1,2713.4 919.8,2711.7 920.6,2709.9 921.3,2708.2 922.1,2706.5 922.8,2704.7 923.6,2703.0 924.4,2701.2 925.1,2699.5 925.9,2697.8 926.7,2696.0 927.5,2694.3 928.3,2692.6 929.1,2690.8 930.0,2689.1 930.8,2687.4 931.7,2685.6 932.5,2683.9 933.4,2682.2 934.2,2680.5 935.1,2678.7 936.0,2677.0 936.9,2675.3 937.8,2673.6 938.7,2671.8 939.7,2670.1 940.6,2668.4 941.6,2666.7 942.5,2665.0 943.5,2663.3 944.5,2661.6 945.5,2659.9 946.5,2658.1 947.6,2656.4 948.6,2654.7 949.7,2653.0 950.7,2651.3 951.8,2649.6 952.9,2647.9 954.0,2646.3 955.2,2644.6 956.3,2643.0 957.5,2641.4 958.7,2639.8 959.9,2638.2 961.1,2636.7 962.4,2635.2 963.7,2633.8 965.0,2632.4 966.3,2631.1 967.7,2629.9 969.0,2628.7 970.4,2627.6 971.9,2626.5 973.3,2625.5 974.8,2624.7 976.4,2623.8 977.9,2623.1 979.5,2622.5 981.1,2622.0 982.8,2621.6 984.5,2621.3 986.2,2621.1 988.0,2621.0 989.8,2621.0 991.6,2621.1 993.5,2621.4 995.3,2621.7 997.2,2622.1 999.1,2622.6 1001.0,2623.2 1002.8,2623.8 1004.7,2624.6 1006.5,2625.3 1008.3,2626.1 1010.0,2627.0 1011.8,2627.9 1013.5,2628.8 1015.1,2629.8 1016.7,2630.8 1018.3,2631.9 1019.9,2633.0 1021.4,2634.1 1022.9,2635.3 1024.4,2636.5 1025.8,2637.7 1027.2,2638.9 1028.6,2640.2 1029.9,2641.5 1031.3,2642.9 1032.6,2644.2 1033.9,2645.6 1035.1,2647.1 1036.4,2648.5 1037.6,2650.0 1038.8,2651.4 1040.0,2652.9 1041.2,2654.5 1042.3,2656.0 1043.5,2657.6 1044.6,2659.1 1045.7,2660.7 1046.8,2662.3 1047.9,2663.9 1048.9,2665.6 1050.0,2667.2 1051.0,2668.8 1052.1,2670.5 1053.1,2672.1 1054.1,2673.8 1055.2,2675.5 1056.2,2677.1 1057.2,2678.8 1058.2,2680.5 1059.2,2682.2 1060.2,2683.8 1061.2,2685.5 1062.2,2687.2 1063.2,2688.8 1064.2,2690.5 1065.2,2692.2 1066.2,2693.9 1067.2,2695.5 1068.2,2697.2 1069.2,2698.8 1070.2,2700.5 1071.2,2702.2 1072.1,2703.8 1073.1,2705.5 1074.1,2707.1 1075.1,2708.8 1076.1,2710.4 1077.1,2712.1 1078.0,2713.8 1079.0,2715.4 1080.0,2717.1 1081.0,2718.7 1081.9,2720.4 1082.9,2722.0 1083.9,2723.7 1084.8,2725.3 1085.8,2727.0 1086.7,2728.6 1087.7,2730.3 1088.6,2731.9 1089.6,2733.6 1090.5,2735.2 1091.5,2736.9 1092.4,2738.5 1093.4,2740.2 1094.3,2741.9 1095.3,2743.5 1096.2,2745.2 1097.1,2746.8 1098.0,2748.5 1099.0,2750.1 1099.9,2751.8 1100.8,2753.5 1101.7,2755.1 1102.6,2756.8 1103.5,2758.5 1104.4,2760.1 1105.3,2761.8 1106.2,2763.5 1107.1,2765.2 1108.0,2766.8 1108.9,2768.5 1109.8,2770.2 1110.6,2771.9 1111.5,2773.6 1112.4,2775.2 1113.3,2776.9 1114.1,2778.6 1115.0,2780.3 1115.8,2782.0 1116.7,2783.7 1117.5,2785.4 1118.4,2787.1 1119.2,2788.8 1120.1,2790.5 1120.9,2792.2 1121.7,2793.9 1122.5,2795.6 1123.4,2797.3 1124.2,2799.1 1125.0,2800.8 1125.8,2802.5 1126.6,2804.2 1127.4,2805.9 1128.2,2807.6 1129.0,2809.4 1129.8,2811.1 1130.6,2812.8 1131.4,2814.6 1132.2,2816.3 1133.0,2818.0 1133.7,2819.8 1134.5,2821.5 1135.3,2823.2 1136.1,2825.0 1136.8,2826.7 1137.6,2828.5 1138.4,2830.2 1139.1,2831.9 1139.9,2833.7 1140.6,2835.4 1141.4,2837.2 1142.1,2839.0 1142.9,2840.7 1143.6,2842.5 1144.3,2844.2 1145.1,2846.0 1145.8,2847.7 1146.5,2849.5 1147.2,2851.3 1148.0,2853.0 1148.7,2854.8 1149.4,2856.6 1150.1,2858.3 1150.8,2860.1 1151.6,2861.9 1152.3,2863.6 1153.0,2865.4 1153.7,2867.2 1154.4,2869.0 1155.1,2870.8 1155.8,2872.5 1156.5,2874.3 1157.1,2876.1 1157.8,2877.9 1158.5,2879.7 1159.2,2881.4 1159.9,2883.2 1160.6,2885.0 1161.2,2886.8 1161.9,2888.6 1162.6,2890.4 1163.3,2892.2 1163.9,2894.0 1164.6,2895.8 1165.3,2897.6 1165.9,2899.4 1166.6,2901.2 1167.3,2903.0 1167.9,2904.8 1168.6,2906.6 1169.2,2908.4 1169.9,2910.2 1170.5,2912.0 1171.2,2913.8 1171.8,2915.6 1172.5,2917.4 1173.1,2919.2 1173.7,2921.0 1174.4,2922.8 1175.0,2924.6 1175.7,2926.4 1176.3,2928.2 1176.9,2930.0 1177.6,2931.8 1178.2,2933.7 1178.8,2935.5 1179.4,2937.3 1180.1,2939.1 1180.7,2940.9 1181.3,2942.7 1181.9,2944.5 1182.6,2946.4 1183.2,2948.2 1183.8,2950.0 1184.4,2951.8 1185.0,2953.6 1185.6,2955.5 1186.3,2957.3 1186.9,2959.1 1187.5,2960.9 1188.1,2962.7 1188.7,2964.6 1189.3,2966.4 1189.9,2968.2 1190.5,2970.0 1191.1,2971.9 1191.7,2973.7 1192.3,2975.5 1192.9,2977.3 1193.5,2979.2 1194.1,2981.0 1194.7,2982.8 1195.3,2984.6 1195.9,2986.5 1196.5,2988.3 1197.1,2990.1 1197.7,2991.9 1198.3,2993.8 1198.9,2995.6 1199.5,2997.4 1200.1,2999.3 1200.7,3001.1 1201.3,3002.9 1201.9,3004.7 1202.5,3006.6 1203.1,3008.4 1203.7,3010.2 1204.2,3012.1 1204.8,3013.9 1205.4,3015.7 1206.0,3017.5 1206.6,3019.4 1207.2,3021.2 1207.8,3023.0 1208.4,3024.9 1209.0,3026.7 1209.5,3028.5 1210.1,3030.4 1210.7,3032.2 1211.3,3034.0 1211.9,3035.8 1212.5,3037.7 1213.1,3039.5 1213.7,3041.3 1214.3,3043.1 1214.8,3045.0 1215.4,3046.8 1216.0,3048.6 1216.6,3050.5 1217.2,3052.3 1217.8,3054.1 1218.4,3055.9 1219.0,3057.8 1219.6,3059.6 1220.1,3061.4 1220.7,3063.2 1221.3,3065.1 1221.9,3066.9 1222.5,3068.7 1223.1,3070.5 1223.7,3072.3 1224.3,3074.2 1224.9,3076.0 1225.5,3077.8 1226.1,3079.6 1226.7,3081.4 1227.3,3083.3 1227.9,3085.1 1228.5,3086.9 1229.1,3088.7 1229.7,3090.5 1230.3,3092.4 1230.9,3094.2 1231.5,3096.0 1232.1,3097.8 1232.7,3099.6 1233.3,3101.4 1233.9,3103.2 1234.5,3105.0 1235.1,3106.9 1235.7,3108.7 1236.3,3110.5 1236.9,3112.3 1237.5,3114.1 1238.1,3115.9 1238.8,3117.7 1239.4,3119.5 1240.0,3121.3 1240.6,3123.1 1241.2,3124.9 1241.8,3126.7 1242.5,3128.5 1243.1,3130.3 1243.7,3132.1 1244.3,3133.9 1245.0,3135.7 1245.6,3137.5 1246.2,3139.3 1246.8,3141.1 1247.5,3142.9 1248.1,3144.7 1248.7,3146.5 1249.4,3148.3 1250.0,3150.0 1250.7,3151.8 1251.3,3153.6 1251.9,3155.4 1252.6,3157.2 1253.2,3159.0 1253.9,3160.8 1254.5,3162.5 1255.2,3164.3 1255.8,3166.1 1256.5,3167.9 1257.2,3169.6 1257.8,3171.4 1258.5,3173.2 1259.1,3175.0 1259.8,3176.7 1260.5,3178.5 1261.2,3180.3 1261.8,3182.0 1262.5,3183.8 1263.2,3185.6 1263.9,3187.3 1264.5,3189.1 1265.2,3190.8 1265.9,3192.6 1266.6,3194.3 1267.3,3196.1 1268.0,3197.8 1268.7,3199.6 1269.4,3201.3 1270.1,3203.1 1270.8,3204.8 1271.5,3206.6 1272.2,3208.3 1272.9,3210.1 1273.6,3211.8 1274.4,3213.6 1275.1,3215.3 1275.8,3217.0 1276.6,3218.8 1277.3,3220.5 1278.0,3222.2 1278.8,3224.0 1279.5,3225.7 1280.3,3227.4 1281.0,3229.1 1281.8,3230.9 1282.6,3232.6 1283.3,3234.3 1284.1,3236.0 1284.9,3237.7 1285.7,3239.5 1286.5,3241.2 1287.3,3242.9 1288.1,3244.6 1288.9,3246.3 1289.7,3248.0 1290.5,3249.7 1291.3,3251.4 1292.1,3253.1 1293.0,3254.8 1293.8,3256.5 1294.6,3258.2 1295.5,3259.9 1296.3,3261.6 1297.2,3263.3 1298.1,3265.0 1298.9,3266.7 1299.8,3268.4 1300.7,3270.0 1301.6,3271.7 1302.4,3273.4 1303.3,3275.1 1304.3,3276.8 1305.2,3278.4 1306.1,3280.1 1307.0,3281.8 1307.9,3283.5 1308.9,3285.1 1309.8,3286.8 1310.8,3288.5 1311.7,3290.1 1312.7,3291.8 1313.7,3293.4 1314.6,3295.1 1315.6,3296.8 1316.6,3298.4 1317.6,3300.1 1318.6,3301.7 1319.6,3303.4 1320.6,3305.0 1321.7,3306.7 1322.7,3308.3 1323.8,3309.9 1324.8,3311.6 1325.9,3313.2 1326.9,3314.9 1328.0,3316.5 1329.1,3318.1 1330.2,3319.7 1331.3,3321.4 1332.4,3323.0 1333.5,3324.6 1334.6,3326.2 1335.8,3327.9 1336.9,3329.5 1338.1,3331.1 1339.2,3332.7 1340.4,3334.3 1341.6,3335.9 1342.8,3337.5 1344.0,3339.1 1345.2,3340.7 1346.4,3342.3 1347.6,3343.8 1348.8,3345.4 1350.1,3347.0 1351.3,3348.5 1352.6,3350.0 1353.9,3351.6 1355.1,3353.1 1356.4,3354.6 1357.7,3356.1 1359.0,3357.6 1360.4,3359.0 1361.7,3360.5 1363.0,3361.9 1364.4,3363.3 1365.7,3364.8 1367.1,3366.1 1368.5,3367.5 1369.9,3368.9 1371.3,3370.2 1372.7,3371.5 1374.1,3372.9 1375.6,3374.1 1377.0,3375.4 1378.5,3376.7 1379.9,3377.9 1381.4,3379.1 1382.9,3380.3 1384.4,3381.4 1385.9,3382.6 1387.4,3383.7 1388.9,3384.8 1390.5,3385.9 1392.0,3387.0 1393.6,3388.0 1395.1,3389.1 1396.7,3390.1 1398.3,3391.1 1399.9,3392.0 1401.5,3393.0 1403.1,3393.9 1404.7,3394.9 1406.4,3395.8 1408.0,3396.7 1409.7,3397.6 1411.3,3398.4 1413.0,3399.3 1414.6,3400.1 1416.3,3400.9 1418.0,3401.7 1419.7,3402.5 1421.4,3403.2 1423.1,3404.0 1424.8,3404.7 1426.5,3405.4 1428.3,3406.1 1430.0,3406.8 1431.7,3407.5 1433.5,3408.2 1435.2,3408.8 1437.0,3409.5 1438.8,3410.1 1440.5,3410.7 1442.3,3411.3 1444.1,3411.9 1445.9,3412.4 1447.7,3413.0 1449.5,3413.5 1451.3,3414.1 1453.1,3414.6 1454.9,3415.1 1456.7,3415.6 1458.5,3416.1 1460.4,3416.6 1462.2,3417.0 1464.0,3417.5 1465.9,3417.9 1467.7,3418.4 1469.5,3418.8 1471.4,3419.2 1473.2,3419.6 1475.1,3420.0 1477.0,3420.4 1478.8,3420.8 1480.7,3421.1 1482.6,3421.5 1484.4,3421.9 1486.3,3422.2 1488.2,3422.5 1490.0,3422.9 1491.9,3423.2 1493.8,3423.5 1495.7,3423.8 1497.6,3424.1 1499.4,3424.4 1501.3,3424.7 1503.2,3424.9 1505.1,3425.2 1507.0,3425.5 1508.9,3425.7 1510.8,3426.0 1512.7,3426.2 1514.6,3426.4 1516.5,3426.7 1518.4,3426.9 1520.3,3427.1 1522.2,3427.3 1524.1,3427.5 1526.0,3427.8 1527.9,3428.0 1529.8,3428.1 1531.7,3428.3 1533.6,3428.5 1535.5,3428.7 1537.4,3428.9 1539.3,3429.1 1541.3,3429.2 1543.2,3429.4 1545.1,3429.5 1547.0,3429.7 1548.9,3429.9 1550.8,3430.0 1552.7,3430.2 1554.6,3430.3 1556.6,3430.4 1558.5,3430.6 1560.4,3430.7 1562.3,3430.9 1564.2,3431.0 1566.2,3431.1 1568.1,3431.2 1570.0,3431.4 1571.9,3431.5 1573.8,3431.6 1575.8,3431.7 1577.7,3431.9 1579.6,3432.0 1581.5,3432.1 1583.4,3432.2 1585.4,3432.3 1587.3,3432.5 1589.2,3432.6 1591.1,3432.7 1593.0,3432.8 1595.0,3432.9 1596.9,3433.0 1598.8,3433.1 1600.7,3433.3 1602.6,3433.4 1604.6,3433.5 1606.5,3433.6 1608.4,3433.7 1610.3,3433.9 1612.2,3434.0 1614.1,3434.1 1616.1,3434.2 1618.0,3434.3 1619.9,3434.5 1621.8,3434.6 1623.7,3434.7 1625.6,3434.8 1627.6,3434.9 1629.5,3435.1 1631.4,3435.2 1633.3,3435.3 1635.2,3435.4 1637.1,3435.6 1639.1,3435.7 1641.0,3435.8 1642.9,3436.0 1644.8,3436.1 1646.7,3436.2 1648.6,3436.3 1650.5,3436.5 1652.5,3436.6 1654.4,3436.7 1656.3,3436.9 1658.2,3437.0 1660.1,3437.1 1662.0,3437.2 1663.9,3437.4 1665.8,3437.5 1667.8,3437.6 1669.7,3437.8 1671.6,3437.9 1673.5,3438.0 1675.4,3438.2 1677.3,3438.3 1679.2,3438.4 1681.1,3438.6 1683.0,3438.7 1684.9,3438.8 1686.9,3439.0 1688.8,3439.1 1690.7,3439.2 1692.6,3439.4 1694.5,3439.5 1696.4,3439.7 1698.3,3439.8 1700.2,3439.9 1702.1,3440.1 1704.0,3440.2 1705.9,3440.3 1707.9,3440.5 1709.8,3440.6 1711.7,3440.8 1713.6,3440.9 1715.5,3441.0 1717.4,3441.2 1719.3,3441.3 1721.2,3441.5 1723.1,3441.6 1725.0,3441.8 1726.9,3441.9 1728.8,3442.0 1730.7,3442.2 1732.6,3442.3 1734.5,3442.5 1736.5,3442.6 1738.4,3442.7 1740.3,3442.9 1742.2,3443.0 1744.1,3443.2 1746.0,3443.3 1747.9,3443.5 1749.8,3443.6 1751.7,3443.8 1753.6,3443.9 1755.5,3444.0 1757.4,3444.2 1759.3,3444.3 1761.2,3444.5 1763.1,3444.6 1765.0,3444.8 1766.9,3444.9 1768.8,3445.1 1770.7,3445.2 1772.6,3445.4 1774.5,3445.5 1776.4,3445.6 1778.4,3445.8 1780.3,3445.9 1782.2,3446.1 1784.1,3446.2 1786.0,3446.4 1787.9,3446.5 1789.8,3446.7 1791.7,3446.8 1793.6,3447.0 1795.5,3447.1 1797.4,3447.3 1799.3,3447.4 1801.2,3447.6 1803.1,3447.7 1805.0,3447.9 1806.9,3448.0 1808.8,3448.2 1810.7,3448.3 1812.6,3448.5 1814.5,3448.6 1816.4,3448.8 1818.3,3448.9 1820.2,3449.1 1822.1,3449.2 1824.0,3449.4 1825.9,3449.5 1827.8,3449.7 1829.7,3449.8 1831.6,3450.0 1833.5,3450.1 1835.4,3450.2 1837.3,3450.4 1839.2,3450.5 1841.1,3450.7 1843.0,3450.8 1844.9,3451.0 1846.8,3451.1 1848.7,3451.3 1850.6,3451.4 1852.5,3451.6 1854.4,3451.7 1856.3,3451.9 1858.2,3452.0 1860.1,3452.2 1862.0,3452.3 1863.9,3452.5 1865.8,3452.6 1867.7,3452.8 1869.7,3452.9 1871.6,3453.1 1873.5,3453.2 1875.4,3453.4 1877.3,3453.5 1879.2,3453.7 1881.1,3453.8 1883.0,3454.0 1884.9,3454.1 1886.8,3454.3 1888.7,3454.4 1890.6,3454.6 1892.5,3454.7 1894.4,3454.9 1896.3,3455.0 1898.2,3455.2 1900.1,3455.3 1902.0,3455.5 1903.9,3455.6 1905.8,3455.8 1907.7,3455.9 1909.6,3456.0 1911.5,3456.2 1913.4,3456.3 1915.3,3456.5 1917.2,3456.6 1919.1,3456.8 1921.0,3456.9 1922.9,3457.1 1924.8,3457.2 1926.7,3457.4 1928.6,3457.5 1930.5,3457.7 1932.4,3457.8 1934.3,3457.9 1936.2,3458.1 1938.1,3458.2 1940.0,3458.4 1941.9,3458.5 1943.8,3458.7 1945.7,3458.8 1947.6,3459.0 1949.5,3459.1 1951.4,3459.2 1953.3,3459.4 1955.3,3459.5 1957.2,3459.7 1959.1,3459.8 1961.0,3460.0 1962.9,3460.1 1964.8,3460.2 1966.7,3460.4 1968.6,3460.5 1970.5,3460.7 1972.4,3460.8 1974.3,3460.9 1976.2,3461.1 1978.1,3461.2 1980.0,3461.4 1981.9,3461.5 1983.8,3461.6 1985.7,3461.8 1987.6,3461.9 1989.5,3462.1 1991.4,3462.2 1993.3,3462.3 1995.3,3462.5 1997.2,3462.6 1999.1,3462.7 2001.0,3462.9 2002.9,3463.0 2004.8,3463.1 2006.7,3463.3 2008.6,3463.4 2010.5,3463.5 2012.4,3463.7 2014.3,3463.8 2016.2,3463.9 2018.1,3464.1 2020.0,3464.2 2022.0,3464.3 2023.9,3464.5 2025.8,3464.6 2027.7,3464.7 2029.6,3464.9 2031.5,3465.0 2033.4,3465.1 2035.3,3465.3 2037.2,3465.4 2039.1,3465.5 2041.0,3465.7 2042.9,3465.8 2044.9,3465.9 2046.8,3466.0 2048.7,3466.2 2050.6,3466.3 2052.5,3466.4 2054.4,3466.6 2056.3,3466.7 2058.2,3466.8 2060.1,3467.0 2062.0,3467.1 2064.0,3467.2 2065.9,3467.3 2067.8,3467.5 2069.7,3467.6 2071.6,3467.7 2073.5,3467.9 2075.4,3468.0 2077.3,3468.1 2079.2,3468.3 2081.1,3468.4 2083.1,3468.5 2085.0,3468.7 2086.9,3468.8 2088.8,3468.9 2090.7,3469.1 2092.6,3469.2 2094.5,3469.3 2096.4,3469.5 2098.3,3469.6 2100.2,3469.7 2102.2,3469.9 2104.1,3470.0 2106.0,3470.1 2107.9,3470.3 2109.8,3470.4 2111.7,3470.6 2113.6,3470.7 2115.5,3470.8 2117.4,3471.0 2119.3,3471.1 2121.3,3471.3 2123.2,3471.4 2125.1,3471.5 2127.0,3471.7 2128.9,3471.8 2130.8,3472.0 2132.7,3472.1 2134.6,3472.3 2136.5,3472.4 2138.4,3472.6 2140.3,3472.7 2142.3,3472.9 2144.2,3473.0 2146.1,3473.2 2148.0,3473.3 2149.9,3473.5 2151.8,3473.6 2153.7,3473.8 2155.6,3474.0 2157.5,3474.1 2159.4,3474.3 2161.3,3474.4 2163.2,3474.6 2165.1,3474.8 2167.0,3474.9 2168.9,3475.1 2170.9,3475.3 2172.8,3475.4 2174.7,3475.6 2176.6,3475.8 2178.5,3475.9 2180.4,3476.1 2182.3,3476.3 2184.2,3476.5 2186.1,3476.7 2188.0,3476.8 2189.9,3477.0 2191.8,3477.2 2193.7,3477.4 2195.6,3477.6 2197.5,3477.7 2199.4,3477.9 2201.3,3478.1 2203.2,3478.3 2205.1,3478.5 2207.0,3478.7 2208.9,3478.9 2210.8,3479.1 2212.7,3479.3 2214.6,3479.5 2216.5,3479.7 2218.4,3479.9 2220.3,3480.1 2222.2,3480.3 2224.1,3480.5 2226.0,3480.7 2227.9,3480.9 2229.8,3481.2 2231.7,3481.4 2233.6,3481.6 2235.5,3481.8 2237.4,3482.0 2239.3,3482.3 2241.2,3482.5 2243.1,3482.7 2245.0,3482.9 2246.8,3483.2 2248.7,3483.4 2250.6,3483.6 2252.5,3483.9 2254.4,3484.1 2256.3,3484.4 2258.2,3484.6 2260.1,3484.8 2262.0,3485.1" stroke="#000090" stroke-width="10"/>
<polyline points="299.1,3362.6 301.0,3363.0 302.9,3363.5 304.8,3364.0 306.7,3364.5 308.6,3365.0 310.5,3365.5 312.4,3365.9 314.3,3366.4 316.2,3366.9 318.1,3367.4 320.0,3367.9 322.0,3368.4 323.9,3368.9 325.8,3369.4 327.7,3369.9 329.7,3370.4 331.6,3370.9 333.5,3371.4 335.5,3371.9 337.4,3372.4 339.3,3372.9 341.3,3373.4 343.2,3373.9 345.1,3374.3 347.1,3374.8 349.0,3375.3 351.0,3375.8 352.9,3376.3 354.9,3376.7 356.8,3377.2 358.8,3377.7 360.7,3378.2 362.7,3378.6 364.7,3379.1 366.6,3379.5 368.6,3380.0 370.5,3380.4 372.5,3380.9 374.5,3381.3 376.4,3381.7 378.4,3382.2 380.4,3382.6 382.3,3383.0 384.3,3383.4 386.3,3383.8 388.3,3384.2 390.2,3384.6 392.2,3385.0 394.2,3385.4 396.2,3385.7 398.1,3386.1 400.1,3386.4 402.1,3386.8 404.1,3387.1 406.1,3387.5 408.1,3387.8 410.0,3388.1 412.0,3388.4 414.0,3388.7 416.0,3389.0 418.0,3389.3 420.0,3389.5 422.0,3389.8 424.0,3390.1 425.9,3390.3 427.9,3390.5 429.9,3390.7 431.9,3390.9 433.9,3391.1 435.9,3391.3 437.9,3391.5 439.9,3391.7 441.9,3391.8 443.9,3392.0 445.9,3392.1 447.9,3392.2 449.9,3392.3 451.9,3392.4 453.8,3392.5 455.8,3392.5 457.8,3392.6 459.8,3392.6 461.8,3392.6 463.8,3392.6 465.8,3392.6 467.8,3392.6 469.8,3392.6 471.8,3392.6 473.8,3392.5 475.8,3392.4 477.8,3392.3 479.8,3392.2 481.7,3392.1 483.7,3392.0 485.7,3391.9 487.7,3391.7 489.7,3391.6 491.7,3391.4 493.6,3391.2 495.6,3391.0 497.6,3390.8 499.6,3390.6 501.6,3390.3 503.5,3390.1 505.5,3389.8 507.5,3389.5 509.4,3389.2 511.4,3388.9 513.4,3388.6 515.3,3388.3 517.3,3387.9 519.2,3387.6 521.2,3387.2 523.1,3386.8 525.1,3386.4 527.0,3386.0 529.0,3385.6 530.9,3385.2 532.9,3384.7 534.8,3384.3 536.7,3383.8 538.6,3383.3 540.6,3382.8 542.5,3382.3 544.4,3381.8 546.3,3381.2 548.2,3380.7 550.1,3380.1 552.0,3379.5 553.9,3378.9 555.8,3378.3 557.7,3377.7 559.6,3377.1 561.5,3376.4 563.4,3375.8 565.2,3375.1 567.1,3374.4 569.0,3373.8 570.8,3373.0 572.7,3372.3 574.5,3371.6 576.4,3370.8 578.2,3370.1 580.0,3369.3 581.9,3368.5 583.7,3367.7 585.5,3366.9 587.3,3366.1 589.1,3365.3 590.9,3364.4 592.7,3363.6 594.5,3362.7 596.3,3361.8 598.1,3360.9 599.9,3360.0 601.6,3359.1 603.4,3358.1 605.1,3357.2 606.9,3356.2 608.6,3355.3 610.4,3354.3 612.1,3353.3 613.8,3352.3 615.5,3351.2 617.3,3350.2 619.0,3349.2 620.7,3348.1 622.4,3347.0 624.1,3346.0 625.7,3344.9 627.4,3343.8 629.1,3342.7 630.7,3341.5 632.4,3340.4 634.1,3339.3 635.7,3338.1 637.3,3337.0 639.0,3335.8 640.6,3334.6 642.2,3333.4 643.8,3332.2 645.4,3331.0 647.0,3329.8 648.6,3328.5 650.2,3327.3 651.8,3326.1 653.4,3324.8 654.9,3323.5 656.5,3322.3 658.0,3321.0 659.6,3319.7 661.1,3318.4 662.7,3317.1 664.2,3315.8 665.7,3314.4 667.2,3313.1 668.7,3311.8 670.2,3310.4 671.7,3309.1 673.2,3307.7 674.7,3306.3 676.2,3304.9 677.6,3303.6 679.1,3302.2 680.5,3300.8 682.0,3299.4 683.4,3298.0 684.8,3296.5 686.3,3295.1 687.7,3293.7 689.1,3292.2 690.5,3290.8 691.9,3289.3 693.3,3287.9 694.6,3286.4 696.0,3285.0 697.4,3283.5 698.7,3282.0 700.1,3280.5 701.4,3279.0 702.8,3277.6 704.1,3276.1 705.4,3274.6 706.7,3273.1 708.1,3271.5 709.4,3270.0 710.6,3268.5 711.9,3267.0 713.2,3265.4 714.5,3263.9 715.8,3262.4 717.0,3260.8 718.3,3259.3 719.5,3257.7 720.8,3256.2 722.0,3254.6 723.2,3253.0 724.4,3251.5 725.7,3249.9 726.9,3248.3 728.1,3246.7 729.3,3245.1 730.4,3243.5 731.6,3241.9 732.8,3240.3 734.0,3238.7 735.1,3237.1 736.3,3235.5 737.5,3233.9 738.6,3232.3 739.8,3230.7 740.9,3229.0 742.0,3227.4 743.1,3225.8 744.3,3224.1 745.4,3222.5 746.5,3220.8 747.6,3219.2 748.7,3217.5 749.8,3215.9 750.9,3214.2 752.0,3212.6 753.0,3210.9 754.1,3209.2 755.2,3207.6 756.2,3205.9 757.3,3204.2 758.3,3202.5 759.4,3200.8 760.4,3199.2 761.5,3197.5 762.5,3195.8 763.5,3194.1 764.6,3192.4 765.6,3190.7 766.6,3189.0 767.6,3187.3 768.6,3185.5 769.6,3183.8 770.6,3182.1 771.6,3180.4 772.6,3178.7 773.6,3177.0 774.6,3175.2 775.5,3173.5 776.5,3171.8 777.5,3170.0 778.4,3168.3 779.4,3166.6 780.4,3164.8 781.3,3163.1 782.3,3161.3 783.2,3159.6 784.2,3157.8 785.1,3156.1 786.0,3154.3 787.0,3152.6 787.9,3150.8 788.8,3149.1 789.8,3147.3 790.7,3145.5 791.6,3143.8 792.5,3142.0 793.4,3140.2 794.3,3138.5 795.2,3136.7 796.1,3134.9 797.0,3133.2 797.9,3131.4 798.8,3129.6 799.7,3127.8 800.6,3126.0 801.5,3124.3 802.4,3122.5 803.2,3120.7 804.1,3118.9 805.0,3117.1 805.9,3115.3 806.7,3113.5 807.6,3111.7 808.5,3109.9 809.3,3108.2 810.2,3106.4 811.0,3104.6 811.9,3102.8 812.7,3101.0 813.6,3099.1 814.4,3097.3 815.3,3095.5 816.1,3093.7 816.9,3091.9 817.8,3090.1 818.6,3088.3 819.4,3086.5 820.3,3084.7 821.1,3082.9 821.9,3081.0 822.7,3079.2 823.5,3077.4 824.4,3075.6 825.2,3073.8 826.0,3071.9 826.8,3070.1 827.6,3068.3 828.4,3066.5 829.2,3064.6 830.0,3062.8 830.8,3061.0 831.6,3059.1 832.4,3057.3 833.2,3055.5 834.0,3053.6 834.8,3051.8 835.5,3050.0 836.3,3048.1 837.1,3046.3 837.9,3044.5 838.7,3042.6 839.4,3040.8 840.2,3038.9 841.0,3037.1 841.8,3035.2 842.5,3033.4 843.3,3031.6 844.1,3029.7 844.8,3027.9 845.6,3026.0 846.4,3024.2 847.1,3022.3 847.9,3020.5 848.6,3018.6 849.4,3016.8 850.1,3014.9 850.9,3013.1 851.6,3011.2 852.4,3009.3 853.1,3007.5 853.9,3005.6 854.6,3003.8 855.4,3001.9 856.1,3000.1 856.9,2998.2 857.6,2996.3 858.3,2994.5 859.1,2992.6 859.8,2990.8 860.5,2988.9 861.3,2987.0 862.0,2985.2 862.7,2983.3 863.5,2981.4 864.2,2979.6 864.9,2977.7 865.7,2975.8 866.4,2974.0 867.1,2972.1 867.8,2970.2 868.6,2968.4 869.3,2966.5 870.0,2964.6 870.7,2962.8 871.4,2960.9 872.2,2959.0 872.9,2957.2 873.6,2955.3 874.3,2953.4 875.0,2951.5 875.8,2949.7 876.5,2947.8 877.2,2945.9 877.9,2944.1 878.6,2942.2 879.3,2940.3 880.0,2938.4 880.7,2936.6 881.5,2934.7 882.2,2932.8 882.9,2931.0 883.6,2929.1 884.3,2927.2 885.0,2925.3 885.7,2923.5 886.4,2921.6 887.1,2919.7 887.8,2917.8 888.6,2916.0 889.3,2914.1 890.0,2912.2 890.7,2910.3 891.4,2908.5 892.1,2906.6 892.8,2904.7 893.5,2902.8 894.2,2901.0 894.9,2899.1 895.6,2897.2 896.3,2895.4 897.0,2893.5 897.7,2891.6 898.4,2889.7 899.2,2887.9 899.9,2886.0 900.6,2884.1 901.3,2882.2 902.0,2880.4 902.7,2878.5 903.4,2876.6 904.1,2874.8 904.8,2872.9 905.5,2871.0 906.2,2869.2 906.9,2867.3 907.7,2865.4 908.4,2863.5 909.1,2861.7 909.8,2859.8 910.5,2857.9 911.2,2856.1 911.9,2854.2 912.6,2852.3 913.3,2850.5 914.1,2848.6 914.8,2846.8 915.5,2844.9 916.2,2843.0 916.9,2841.2 917.7,2839.3 918.4,2837.4 919.1,2835.6 919.8,2833.7 920.5,2831.9 921.3,2830.0 922.0,2828.2 922.7,2826.3 923.5,2824.4 924.2,2822.6 924.9,2820.7 925.7,2818.9 926.4,2817.0 927.2,2815.2 927.9,2813.4 928.7,2811.5 929.4,2809.7 930.2,2807.8 930.9,2806.0 931.7,2804.2 932.5,2802.3 933.2,2800.5 934.0,2798.7 934.8,2796.8 935.6,2795.0 936.3,2793.2 937.1,2791.3 937.9,2789.5 938.7,2787.7 939.5,2785.9 940.3,2784.1 941.1,2782.3 941.9,2780.4 942.7,2778.6 943.5,2776.8 944.4,2775.0 945.2,2773.2 946.0,2771.4 946.9,2769.6 947.7,2767.8 948.5,2766.0 949.4,2764.2 950.2,2762.4 951.1,2760.7 952.0,2758.9 952.8,2757.1 953.7,2755.3 954.6,2753.6 955.5,2751.8 956.4,2750.0 957.3,2748.2 958.2,2746.5 959.1,2744.7 960.0,2743.0 960.9,2741.2 961.9,2739.5 962.8,2737.7 963.7,2736.0 964.7,2734.2 965.6,2732.5 966.6,2730.8 967.6,2729.0 968.5,2727.3 969.5,2725.6 970.5,2723.9 971.5,2722.2 972.5,2720.4 973.5,2718.7 974.5,2717.0 975.5,2715.3 976.6,2713.6 977.6,2711.9 978.6,2710.3 979.7,2708.6 980.8,2706.9 981.8,2705.2 982.9,2703.5 984.0,2701.9 985.1,2700.2 986.2,2698.5 987.3,2696.9 988.4,2695.2 989.5,2693.6 990.7,2691.9 991.8,2690.3 993.0,2688.7 994.1,2687.0 995.3,2685.4 996.5,2683.8 997.7,2682.2 998.9,2680.6 1000.1,2679.0 1001.3,2677.4 1002.5,2675.8 1003.8,2674.2 1005.0,2672.6 1006.3,2671.0 1007.5,2669.4 1008.8,2667.9 1010.1,2666.3 1011.4,2664.7 1012.7,2663.2 1014.0,2661.6 1015.3,2660.1 1016.7,2658.5 1018.0,2657.0 1019.4,2655.5 1020.7,2653.9 1022.1,2652.4 1023.5,2650.9 1024.9,2649.4 1026.3,2647.9 1027.7,2646.4 1029.2,2644.9 1030.6,2643.4 1032.1,2641.9 1033.5,2640.5 1035.0,2639.0 1036.5,2637.5 1038.0,2636.1 1039.5,2634.6 1041.1,2633.2 1042.6,2631.8 1044.1,2630.3 1045.7,2628.9 1047.3,2627.5 1048.9,2626.2 1050.5,2624.8 1052.1,2623.5 1053.7,2622.2 1055.3,2620.9 1056.9,2619.6 1058.6,2618.4 1060.2,2617.2 1061.9,2616.0 1063.6,2614.9 1065.3,2613.8 1067.0,2612.7 1068.7,2611.7 1070.4,2610.7 1072.1,2609.7 1073.9,2608.8 1075.6,2608.0 1077.4,2607.2 1079.1,2606.4 1080.9,2605.7 1082.7,2605.0 1084.5,2604.4 1086.2,2603.8 1088.1,2603.3 1089.9,2602.9 1091.7,2602.5 1093.5,2602.2 1095.3,2601.9 1097.2,2601.7 1099.0,2601.6 1100.8,2601.5 1102.7,2601.5 1104.5,2601.5 1106.3,2601.6 1108.1,2601.8 1109.9,2602.0 1111.7,2602.2 1113.5,2602.6 1115.3,2603.0 1117.1,2603.4 1118.8,2603.9 1120.6,2604.5 1122.3,2605.1 1124.0,2605.8 1125.7,2606.6 1127.4,2607.4 1129.0,2608.3 1130.6,2609.2 1132.2,2610.2 1133.8,2611.2 1135.3,2612.3 1136.9,2613.4 1138.4,2614.6 1139.9,2615.9 1141.3,2617.1 1142.8,2618.4 1144.2,2619.8 1145.6,2621.2 1147.0,2622.6 1148.4,2624.1 1149.7,2625.6 1151.0,2627.1 1152.3,2628.7 1153.6,2630.3 1154.8,2631.9 1156.1,2633.6 1157.3,2635.2 1158.5,2636.9 1159.6,2638.6 1160.8,2640.3 1161.9,2642.1 1163.0,2643.8 1164.1,2645.6 1165.1,2647.3 1166.1,2649.1 1167.1,2650.9 1168.1,2652.7 1169.1,2654.5 1170.1,2656.3 1171.0,2658.1 1171.9,2659.9 1172.8,2661.8 1173.7,2663.6 1174.6,2665.4 1175.5,2667.3 1176.3,2669.1 1177.2,2671.0 1178.0,2672.8 1178.8,2674.7 1179.7,2676.5 1180.5,2678.4 1181.3,2680.3 1182.1,2682.1 1182.9,2684.0 1183.7,2685.8 1184.5,2687.7 1185.2,2689.6 1186.0,2691.4 1186.8,2693.3 1187.6,2695.2 1188.3,2697.0 1189.1,2698.9 1189.8,2700.8 1190.6,2702.7 1191.3,2704.5 1192.0,2706.4 1192.8,2708.3 1193.5,2710.2 1194.2,2712.0 1194.9,2713.9 1195.7,2715.8 1196.4,2717.7 1197.1,2719.6 1197.8,2721.4 1198.5,2723.3 1199.2,2725.2 1199.8,2727.1 1200.5,2729.0 1201.2,2730.9 1201.9,2732.8 1202.5,2734.7 1203.2,2736.5 1203.9,2738.4 1204.5,2740.3 1205.2,2742.2 1205.8,2744.1 1206.5,2746.0 1207.1,2747.9 1207.8,2749.8 1208.4,2751.7 1209.0,2753.6 1209.6,2755.5 1210.3,2757.4 1210.9,2759.3 1211.5,2761.2 1212.1,2763.1 1212.7,2765.0 1213.3,2766.9 1213.9,2768.8 1214.5,2770.7 1215.1,2772.6 1215.7,2774.5 1216.3,2776.4 1216.9,2778.4 1217.4,2780.3 1218.0,2782.2 1218.6,2784.1 1219.2,2786.0 1219.7,2787.9 1220.3,2789.8 1220.9,2791.7 1221.4,2793.7 1222.0,2795.6 1222.5,2797.5 1223.1,2799.4 1223.6,2801.3 1224.2,2803.2 1224.7,2805.2 1225.2,2807.1 1225.8,2809.0 1226.3,2810.9 1226.8,2812.8 1227.4,2814.8 1227.9,2816.7 1228.4,2818.6 1228.9,2820.5 1229.5,2822.4 1230.0,2824.4 1230.5,2826.3 1231.0,2828.2 1231.5,2830.1 1232.0,2832.1 1232.5,2834.0 1233.0,2835.9 1233.5,2837.9 1234.0,2839.8 1234.5,2841.7 1235.0,2843.6 1235.5,2845.6 1236.0,2847.5 1236.5,2849.4 1237.0,2851.4 1237.5,2853.3 1238.0,2855.2 1238.4,2857.2 1238.9,2859.1 1239.4,2861.0 1239.9,2862.9 1240.4,2864.9 1240.8,2866.8 1241.3,2868.7 1241.8,2870.7 1242.3,2872.6 1242.7,2874.5 1243.2,2876.5 1243.7,2878.4 1244.1,2880.4 1244.6,2882.3 1245.1,2884.2 1245.5,2886.2 1246.0,2888.1 1246.4,2890.0 1246.9,2892.0 1247.4,2893.9 1247.8,2895.8 1248.3,2897.8 1248.7,2899.7 1249.2,2901.7 1249.6,2903.6 1250.1,2905.5 1250.6,2907.5 1251.0,2909.4 1251.5,2911.3 1251.9,2913.3 1252.4,2915.2 1252.8,2917.2 1253.3,2919.1 1253.7,2921.0 1254.2,2923.0 1254.6,2924.9 1255.1,2926.9 1255.5,2928.8 1256.0,2930.7 1256.4,2932.7 1256.9,2934.6 1257.3,2936.5 1257.8,2938.5 1258.2,2940.4 1258.7,2942.4 1259.1,2944.3 1259.6,2946.2 1260.0,2948.2 1260.5,2950.1 1260.9,2952.1 1261.4,2954.0 1261.8,2955.9 1262.3,2957.9 1262.8,2959.8 1263.2,2961.7 1263.7,2963.7 1264.1,2965.6 1264.6,2967.6 1265.0,2969.5 1265.5,2971.4 1266.0,2973.4 1266.4,2975.3 1266.9,2977.2 1267.3,2979.2 1267.8,2981.1 1268.3,2983.0 1268.7,2985.0 1269.2,2986.9 1269.7,2988.9 1270.1,2990.8 1270.6,2992.7 1271.1,2994.7 1271.5,2996.6 1272.0,2998.5 1272.5,3000.5 1273.0,3002.4 1273.4,3004.3 1273.9,3006.3 1274.4,3008.2 1274.9,3010.1 1275.3,3012.1 1275.8,3014.0 1276.3,3015.9 1276.8,3017.9 1277.3,3019.8 1277.8,3021.7 1278.3,3023.6 1278.8,3025.6 1279.3,3027.5 1279.8,3029.4 1280.3,3031.4 1280.8,3033.3 1281.3,3035.2 1281.8,3037.1 1282.3,3039.1 1282.8,3041.0 1283.3,3042.9 1283.8,3044.8 1284.3,3046.8 1284.8,3048.7 1285.3,3050.6 1285.8,3052.5 1286.3,3054.5 1286.9,3056.4 1287.4,3058.3 1287.9,3060.2 1288.4,3062.2 1288.9,3064.1 1289.5,3066.0 1290.0,3067.9 1290.5,3069.9 1291.0,3071.8 1291.6,3073.7 1292.1,3075.6 1292.6,3077.5 1293.2,3079.5 1293.7,3081.4 1294.2,3083.3 1294.8,3085.2 1295.3,3087.2 1295.9,3089.1 1296.4,3091.0 1296.9,3092.9 1297.5,3094.8 1298.0,3096.7 1298.6,3098.7 1299.1,3100.6 1299.7,3102.5 1300.2,3104.4 1300.8,3106.3 1301.3,3108.3 1301.9,3110.2 1302.5,3112.1 1303.0,3114.0 1303.6,3115.9 1304.1,3117.8 1304.7,3119.8 1305.3,3121.7 1305.8,3123.6 1306.4,3125.5 1307.0,3127.4 1307.5,3129.3 1308.1,3131.2 1308.7,3133.2 1309.2,3135.1 1309.8,3137.0 1310.4,3138.9 1311.0,3140.8 1311.5,3142.7 1312.1,3144.6 1312.7,3146.5 1313.3,3148.5 1313.9,3150.4 1314.5,3152.3 1315.0,3154.2 1315.6,3156.1 1316.2,3158.0 1316.8,3159.9 1317.4,3161.8 1318.0,3163.8 1318.6,3165.7 1319.2,3167.6 1319.8,3169.5 1320.4,3171.4 1321.0,3173.3 1321.6,3175.2 1322.2,3177.1 1322.8,3179.0 1323.4,3180.9 1324.0,3182.9 1324.6,3184.8 1325.2,3186.7 1325.8,3188.6 1326.4,3190.5 1327.0,3192.4 1327.6,3194.3 1328.2,3196.2 1328.8,3198.1 1329.5,3200.0 1330.1,3201.9 1330.7,3203.8 1331.3,3205.7 1331.9,3207.6 1332.6,3209.6 1333.2,3211.5 1333.8,3213.4 1334.4,3215.3 1335.0,3217.2 1335.7,3219.1 1336.3,3221.0 1336.9,3222.9 1337.6,3224.8 1338.2,3226.7 1338.8,3228.6 1339.5,3230.5 1340.1,3232.4 1340.7,3234.3 1341.4,3236.2 1342.0,3238.1 1342.6,3240.0 1343.3,3241.9 1343.9,3243.8 1344.6,3245.8 1345.2,3247.7 1345.8,3249.6 1346.5,3251.5 1347.1,3253.4 1347.8,3255.3 1348.4,3257.2 1349.1,3259.1 1349.7,3261.0 1350.4,3262.9 1351.0,3264.8 1351.7,3266.7 1352.4,3268.6 1353.0,3270.5 1353.7,3272.4 1354.3,3274.3 1355.0,3276.2 1355.7,3278.1 1356.3,3280.0 1357.0,3281.9 1357.7,3283.8 1358.4,3285.7 1359.0,3287.5 1359.7,3289.4 1360.4,3291.3 1361.1,3293.2 1361.8,3295.1 1362.5,3297.0 1363.2,3298.9 1363.9,3300.7 1364.6,3302.6 1365.4,3304.5 1366.1,3306.4 1366.8,3308.2 1367.6,3310.1 1368.3,3311.9 1369.0,3313.8 1369.8,3315.7 1370.6,3317.5 1371.3,3319.4 1372.1,3321.2 1372.9,3323.1 1373.6,3324.9 1374.4,3326.7 1375.2,3328.6 1376.0,3330.4 1376.8,3332.2 1377.7,3334.0 1378.5,3335.9 1379.3,3337.7 1380.2,3339.5 1381.0,3341.3 1381.9,3343.1 1382.7,3344.9 1383.6,3346.7 1384.5,3348.4 1385.4,3350.2 1386.3,3352.0 1387.2,3353.8 1388.1,3355.5 1389.0,3357.3 1390.0,3359.0 1390.9,3360.8 1391.9,3362.5 1392.8,3364.3 1393.8,3366.0 1394.8,3367.7 1395.8,3369.5 1396.8,3371.2 1397.8,3372.9 1398.8,3374.6 1399.9,3376.3 1400.9,3378.0 1402.0,3379.6 1403.1,3381.3 1404.2,3383.0 1405.3,3384.6 1406.4,3386.3 1407.5,3387.9 1408.6,3389.6 1409.8,3391.2 1410.9,3392.8 1412.1,3394.5 1413.3,3396.1 1414.5,3397.7 1415.7,3399.3 1416.9,3400.9 1418.2,3402.4 1419.4,3404.0 1420.7,3405.6 1422.0,3407.1 1423.3,3408.7 1424.6,3410.2 1425.9,3411.7 1427.2,3413.2 1428.6,3414.7 1429.9,3416.2 1431.3,3417.6 1432.7,3419.1 1434.1,3420.5 1435.5,3421.9 1437.0,3423.3 1438.4,3424.7 1439.9,3426.1 1441.4,3427.4 1442.8,3428.7 1444.3,3430.0 1445.9,3431.3 1447.4,3432.6 1448.9,3433.8 1450.5,3435.0 1452.1,3436.2 1453.6,3437.3 1455.2,3438.5 1456.9,3439.6 1458.5,3440.7 1460.1,3441.7 1461.8,3442.7 1463.5,3443.7 1465.1,3444.7 1466.8,3445.6 1468.5,3446.6 1470.3,3447.5 1472.0,3448.3 1473.7,3449.2 1475.5,3450.0 1477.3,3450.8 1479.0,3451.6 1480.8,3452.3 1482.6,3453.0 1484.4,3453.8 1486.3,3454.4 1488.1,3455.1 1489.9,3455.8 1491.8,3456.4 1493.6,3457.0 1495.5,3457.6 1497.4,3458.1 1499.3,3458.7 1501.2,3459.2 1503.1,3459.7 1505.0,3460.2 1506.9,3460.7 1508.9,3461.2 1510.8,3461.6 1512.7,3462.0 1514.7,3462.4 1516.7,3462.8 1518.6,3463.2 1520.6,3463.6 1522.6,3463.9 1524.5,3464.3 1526.5,3464.6 1528.5,3464.9 1530.5,3465.2 1532.5,3465.5 1534.5,3465.8 1536.6,3466.0 1538.6,3466.3 1540.6,3466.5 1542.6,3466.8 1544.7,3467.0 1546.7,3467.2 1548.7,3467.4 1550.8,3467.6 1552.8,3467.8 1554.9,3468.0 1556.9,3468.1 1559.0,3468.3 1561.0,3468.5 1563.1,3468.6 1565.1,3468.7 1567.2,3468.9 1569.2,3469.0 1571.3,3469.2 1573.4,3469.3 1575.4,3469.4 1577.5,3469.5 1579.5,3469.6 1581.6,3469.7 1583.7,3469.9 1585.7,3470.0 1587.8,3470.1 1589.8,3470.2 1591.9,3470.3 1593.9,3470.4 1596.0,3470.5 1598.0,3470.6 1600.1,3470.7 1602.1,3470.8 1604.2,3470.9 1606.2,3471.0 1608.2,3471.1 1610.3,3471.2 1612.3,3471.3 1614.3,3471.4 1616.3,3471.5 1618.4,3471.7 1620.4,3471.8 1622.4,3471.9 1624.4,3472.0 1626.4,3472.1 1628.4,3472.2 1630.5,3472.3 1632.5,3472.5 1634.5,3472.6 1636.5,3472.7 1638.5,3472.8 1640.5,3472.9 1642.5,3473.0 1644.5,3473.2 1646.5,3473.3 1648.5,3473.4 1650.5,3473.5 1652.4,3473.7 1654.4,3473.8 1656.4,3473.9 1658.4,3474.0 1660.4,3474.1 1662.4,3474.3 1664.4,3474.4 1666.3,3474.5 1668.3,3474.6 1670.3,3474.8 1672.3,3474.9 1674.3,3475.0 1676.2,3475.1 1678.2,3475.3 1680.2,3475.4 1682.2,3475.5 1684.1,3475.6 1686.1,3475.7 1688.1,3475.9 1690.0,3476.0 1692.0,3476.1 1694.0,3476.2 1696.0,3476.4 1697.9,3476.5 1699.9,3476.6 1701.9,3476.7 1703.8,3476.8 1705.8,3477.0 1707.8,3477.1 1709.7,3477.2 1711.7,3477.3 1713.7,3477.4 1715.6,3477.5 1717.6,3477.7 1719.6,3477.8 1721.5,3477.9 1723.5,3478.0 1725.5,3478.1 1727.4,3478.2 1729.4,3478.3 1731.4,3478.4 1733.3,3478.6 1735.3,3478.7 1737.3,3478.8 1739.2,3478.9 1741.2,3479.0 1743.2,3479.1 1745.2,3479.2 1747.1,3479.3 1749.1,3479.4 1751.1,3479.5 1753.1,3479.6 1755.0,3479.7 1757.0,3479.8 1759.0,3479.9 1761.0,3480.0 1762.9,3480.1 1764.9,3480.2 1766.9,3480.2 1768.9,3480.3 1770.8,3480.4 1772.8,3480.5 1774.8,3480.6 1776.8,3480.7 1778.8,3480.8 1780.8,3480.9 1782.7,3481.0 1784.7,3481.0 1786.7,3481.1 1788.7,3481.2 1790.7,3481.3 1792.6,3481.4 1794.6,3481.4 1796.6,3481.5 1798.6,3481.6 1800.6,3481.7 1802.6,3481.7 1804.6,3481.8 1806.6,3481.9 1808.5,3482.0 1810.5,3482.0 1812.5,3482.1 1814.5,3482.2 1816.5,3482.2 1818.5,3482.3 1820.5,3482.4 1822.5,3482.5 1824.5,3482.5 1826.4,3482.6 1828.4,3482.6 1830.4,3482.7 1832.4,3482.8 1834.4,3482.8 1836.4,3482.9 1838.4,3483.0 1840.4,3483.0 1842.4,3483.1 1844.4,3483.1 1846.4,3483.2 1848.4,3483.3 1850.4,3483.3 1852.4,3483.4 1854.4,3483.4 1856.4,3483.5 1858.4,3483.5 1860.4,3483.6 1862.4,3483.6 1864.4,3483.7 1866.4,3483.7 1868.3,3483.8 1870.3,3483.8 1872.3,3483.9 1874.3,3483.9 1876.3,3484.0 1878.3,3484.0 1880.3,3484.1 1882.3,3484.1 1884.3,3484.2 1886.3,3484.2 1888.3,3484.3 1890.4,3484.3 1892.4,3484.3 1894.4,3484.4 1896.4,3484.4 1898.4,3484.5 1900.4,3484.5 1902.4,3484.5 1904.4,3484.6 1906.4,3484.6 1908.4,3484.7 1910.4,3484.7 1912.4,3484.7 1914.4,3484.8 1916.4,3484.8 1918.4,3484.8 1920.4,3484.9 1922.4,3484.9 1924.4,3484.9 1926.4,3485.0 1928.4,3485.0 1930.4,3485.0 1932.4,3485.1 1934.4,3485.1 1936.4,3485.1 1938.4,3485.2 1940.5,3485.2 1942.5,3485.2 1944.5,3485.3 1946.5,3485.3 1948.5,3485.3 1950.5,3485.3 1952.5,3485.4 1954.5,3485.4 1956.5,3485.4 1958.5,3485.4 1960.5,3485.5 1962.5,3485.5 1964.5,3485.5 1966.5,3485.5 1968.5,3485.6 1970.6,3485.6 1972.6,3485.6 1974.6,3485.6 1976.6,3485.7 1978.6,3485.7 1980.6,3485.7 1982.6,3485.7 1984.6,3485.7 1986.6,3485.8 1988.6,3485.8 1990.6,3485.8 1992.6,3485.8 1994.6,3485.8 1996.7,3485.9 1998.7,3485.9 2000.7,3485.9 2002.7,3485.9 2004.7,3485.9 2006.7,3486.0 2008.7,3486.0 2010.7,3486.0 2012.7,3486.0 2014.7,3486.0 2016.7,3486.0 2018.7,3486.1 2020.8,3486.1 2022.8,3486.1 2024.8,3486.1 2026.8,3486.1 2028.8,3486.1 2030.8,3486.1 2032.8,3486.2 2034.8,3486.2 2036.8,3486.2 2038.8,3486.2 2040.8,3486.2 2042.8,3486.2 2044.8,3486.2 2046.8,3486.3 2048.9,3486.3 2050.9,3486.3 2052.9,3486.3 2054.9,3486.3 2056.9,3486.3 2058.9,3486.3 2060.9,3486.3 2062.9,3486.4 2064.9,3486.4 2066.9,3486.4 2068.9,3486.4 2070.9,3486.4 2072.9,3486.4 2074.9,3486.4 2076.9,3486.4 2078.9,3486.5 2080.9,3486.5 2082.9,3486.5 2084.9,3486.5 2086.9,3486.5 2089.0,3486.5 2091.0,3486.5 2093.0,3486.5 2095.0,3486.5 2097.0,3486.6 2099.0,3486.6 2101.0,3486.6 2103.0,3486.6 2105.0,3486.6 2107.0,3486.6 2109.0,3486.6 2111.0,3486.6 2113.0,3486.6 2115.0,3486.7 2117.0,3486.7 2119.0,3486.7 2121.0,3486.7 2123.0,3486.7 2125.0,3486.7 2127.0,3486.7 2129.0,3486.7 2131.0,3486.8 2133.0,3486.8 2135.0,3486.8 2137.0,3486.8 2139.0,3486.8 2141.0,3486.8 2143.0,3486.8 2144.9,3486.8 2146.9,3486.9 2148.9,3486.9 2150.9,3486.9 2152.9,3486.9 2154.9,3486.9 2156.9,3486.9 2158.9,3486.9 2160.9,3486.9 2162.9,3487.0 2164.9,3487.0 2166.9,3487.0 2168.9,3487.0 2170.9,3487.0 2172.9,3487.0 2174.8,3487.0 2176.8,3487.1 2178.8,3487.1 2180.8,3487.1 2182.8,3487.1 2184.8,3487.1 2186.8,3487.1 2188.8,3487.2 2190.8,3487.2 2192.7,3487.2 2194.7,3487.2 2196.7,3487.2 2198.7,3487.2 2200.7,3487.3 2202.7,3487.3 2204.7,3487.3 2206.6,3487.3 2208.6,3487.3 2210.6,3487.4 2212.6,3487.4 2214.6,3487.4 2216.6,3487.4 2218.5,3487.4 2220.5,3487.5 2222.5,3487.5 2224.5,3487.5 2226.5,3487.5 2228.4,3487.6 2230.4,3487.6 2232.4,3487.6 2234.4,3487.6 2236.3,3487.7 2238.3,3487.7 2240.3,3487.7 2242.3,3487.7 2244.2,3487.8 2246.2,3487.8 2248.2,3487.8 2250.2,3487.8 2252.1,3487.9 2254.1,3487.9 2256.1,3487.9 2258.0,3487.9 2260.0,3488.0 2262.0,3488.0" stroke="#ff0000" stroke-width="10"/>
<polyline points="299.0,3288.4 301.4,3289.2 303.7,3289.9 306.0,3290.7 308.3,3291.4 310.6,3292.1 312.9,3292.8 315.2,3293.5 317.5,3294.1 319.8,3294.8 322.2,3295.4 324.5,3296.1 326.8,3296.7 329.1,3297.3 331.5,3297.9 333.8,3298.4 336.1,3299.0 338.4,3299.6 340.8,3300.1 343.1,3300.7 345.4,3301.2 347.7,3301.7 350.1,3302.3 352.4,3302.8 354.7,3303.3 357.1,3303.8 359.4,3304.4 361.7,3304.9 364.1,3305.4 366.4,3305.9 368.7,3306.4 371.0,3306.9 373.4,3307.5 375.7,3308.0 378.0,3308.5 380.4,3309.0 382.7,3309.6 385.0,3310.1 387.3,3310.7 389.7,3311.2 392.0,3311.8 394.3,3312.3 396.6,3312.9 399.0,3313.5 401.3,3314.1 403.6,3314.7 405.9,3315.3 408.2,3315.9 410.5,3316.6 412.8,3317.2 415.1,3317.9 417.5,3318.5 419.8,3319.2 422.1,3319.9 424.4,3320.5 426.7,3321.2 429.0,3321.9 431.3,3322.6 433.6,3323.3 435.9,3324.0 438.2,3324.7 440.5,3325.4 442.8,3326.1 445.1,3326.8 447.5,3327.5 449.8,3328.2 452.1,3328.9 454.4,3329.6 456.7,3330.3 459.0,3330.9 461.3,3331.6 463.6,3332.3 466.0,3333.0 468.3,3333.6 470.6,3334.3 472.9,3335.0 475.2,3335.6 477.6,3336.2 479.9,3336.9 482.2,3337.5 484.6,3338.1 486.9,3338.7 489.2,3339.3 491.6,3339.9 493.9,3340.4 496.3,3341.0 498.6,3341.5 501.0,3342.0 503.3,3342.5 505.7,3343.0 508.0,3343.5 510.4,3343.9 512.8,3344.4 515.2,3344.8 517.5,3345.2 519.9,3345.6 522.3,3346.0 524.7,3346.3 527.1,3346.7 529.5,3347.0 531.8,3347.3 534.2,3347.6 536.6,3347.9 539.0,3348.1 541.4,3348.4 543.8,3348.6 546.2,3348.8 548.6,3349.0 551.0,3349.1 553.4,3349.3 555.8,3349.4 558.2,3349.5 560.6,3349.6 563.0,3349.7 565.4,3349.8 567.8,3349.8 570.2,3349.8 572.6,3349.9 575.0,3349.8 577.4,3349.8 579.8,3349.8 582.2,3349.7 584.6,3349.6 587.0,3349.5 589.4,3349.4 591.8,3349.3 594.2,3349.1 596.6,3348.9 598.9,3348.7 601.3,3348.5 603.7,3348.3 606.1,3348.1 608.4,3347.8 610.8,3347.5 613.2,3347.2 615.5,3346.9 617.9,3346.5 620.2,3346.2 622.6,3345.8 624.9,3345.4 627.3,3345.0 629.6,3344.5 632.0,3344.1 634.3,3343.6 636.6,3343.1 638.9,3342.6 641.2,3342.0 643.5,3341.5 645.8,3340.9 648.1,3340.3 650.4,3339.7 652.7,3339.0 655.0,3338.4 657.3,3337.7 659.5,3337.0 661.8,3336.3 664.0,3335.5 666.3,3334.8 668.5,3334.0 670.7,3333.2 673.0,3332.4 675.2,3331.5 677.4,3330.7 679.6,3329.8 681.8,3328.9 684.0,3328.0 686.1,3327.0 688.3,3326.1 690.4,3325.1 692.6,3324.1 694.7,3323.0 696.9,3322.0 699.0,3320.9 701.1,3319.9 703.2,3318.8 705.3,3317.7 707.4,3316.5 709.5,3315.4 711.6,3314.2 713.6,3313.0 715.7,3311.8 717.7,3310.6 719.8,3309.3 721.8,3308.1 723.8,3306.8 725.9,3305.5 727.9,3304.2 729.9,3302.9 731.9,3301.5 733.8,3300.2 735.8,3298.8 737.8,3297.4 739.7,3296.0 741.7,3294.6 743.6,3293.2 745.5,3291.7 747.4,3290.3 749.4,3288.8 751.3,3287.3 753.1,3285.8 755.0,3284.3 756.9,3282.7 758.8,3281.2 760.6,3279.6 762.5,3278.1 764.3,3276.5 766.1,3274.9 767.9,3273.3 769.8,3271.7 771.6,3270.0 773.3,3268.4 775.1,3266.7 776.9,3265.1 778.7,3263.4 780.4,3261.7 782.1,3260.0 783.9,3258.3 785.6,3256.6 787.3,3254.8 789.0,3253.1 790.7,3251.3 792.4,3249.6 794.1,3247.8 795.7,3246.0 797.4,3244.2 799.0,3242.4 800.7,3240.6 802.3,3238.8 803.9,3237.0 805.5,3235.2 807.1,3233.3 808.7,3231.5 810.3,3229.6 811.8,3227.7 813.4,3225.9 814.9,3224.0 816.5,3222.1 818.0,3220.2 819.5,3218.3 821.0,3216.4 822.5,3214.5 824.0,3212.6 825.5,3210.7 826.9,3208.7 828.4,3206.8 829.8,3204.9 831.3,3202.9 832.7,3201.0 834.1,3199.0 835.5,3197.1 836.9,3195.1 838.3,3193.1 839.6,3191.2 841.0,3189.2 842.3,3187.2 843.7,3185.2 845.0,3183.2 846.4,3181.2 847.7,3179.2 849.0,3177.2 850.3,3175.2 851.6,3173.2 852.8,3171.2 854.1,3169.2 855.4,3167.1 856.6,3165.1 857.9,3163.1 859.1,3161.0 860.3,3159.0 861.6,3156.9 862.8,3154.9 864.0,3152.8 865.2,3150.8 866.4,3148.7 867.6,3146.6 868.7,3144.5 869.9,3142.5 871.1,3140.4 872.2,3138.3 873.4,3136.2 874.5,3134.1 875.7,3132.0 876.8,3129.9 877.9,3127.8 879.0,3125.7 880.1,3123.6 881.3,3121.5 882.3,3119.4 883.4,3117.3 884.5,3115.2 885.6,3113.1 886.7,3110.9 887.8,3108.8 888.8,3106.7 889.9,3104.5 890.9,3102.4 892.0,3100.3 893.0,3098.1 894.1,3096.0 895.1,3093.8 896.1,3091.7 897.1,3089.5 898.2,3087.4 899.2,3085.2 900.2,3083.1 901.2,3080.9 902.2,3078.7 903.2,3076.6 904.2,3074.4 905.2,3072.2 906.2,3070.0 907.2,3067.9 908.1,3065.7 909.1,3063.5 910.1,3061.3 911.1,3059.2 912.0,3057.0 913.0,3054.8 914.0,3052.6 914.9,3050.4 915.9,3048.2 916.8,3046.0 917.8,3043.8 918.7,3041.6 919.7,3039.4 920.6,3037.2 921.6,3035.0 922.5,3032.8 923.4,3030.6 924.4,3028.4 925.3,3026.2 926.2,3024.0 927.2,3021.8 928.1,3019.6 929.0,3017.4 930.0,3015.2 930.9,3013.0 931.8,3010.8 932.8,3008.5 933.7,3006.3 934.6,3004.1 935.5,3001.9 936.5,2999.7 937.4,2997.5 938.3,2995.3 939.2,2993.0 940.2,2990.8 941.1,2988.6 942.0,2986.4 942.9,2984.2 943.9,2982.0 944.8,2979.7 945.7,2977.5 946.6,2975.3 947.6,2973.1 948.5,2970.9 949.4,2968.7 950.4,2966.4 951.3,2964.2 952.2,2962.0 953.1,2959.8 954.1,2957.6 955.0,2955.3 955.9,2953.1 956.9,2950.9 957.8,2948.7 958.7,2946.5 959.7,2944.3 960.6,2942.0 961.6,2939.8 962.5,2937.6 963.5,2935.4 964.4,2933.2 965.3,2931.0 966.3,2928.8 967.2,2926.5 968.2,2924.3 969.1,2922.1 970.1,2919.9 971.0,2917.7 972.0,2915.5 973.0,2913.3 973.9,2911.1 974.9,2908.9 975.8,2906.7 976.8,2904.4 977.8,2902.2 978.7,2900.0 979.7,2897.8 980.7,2895.6 981.7,2893.4 982.6,2891.2 983.6,2889.0 984.6,2886.8 985.6,2884.6 986.6,2882.4 987.6,2880.2 988.6,2878.1 989.5,2875.9 990.5,2873.7 991.5,2871.5 992.5,2869.3 993.5,2867.1 994.6,2864.9 995.6,2862.7 996.6,2860.6 997.6,2858.4 998.6,2856.2 999.6,2854.0 1000.7,2851.8 1001.7,2849.7 1002.7,2847.5 1003.8,2845.3 1004.8,2843.2 1005.8,2841.0 1006.9,2838.8 1007.9,2836.7 1009.0,2834.5 1010.0,2832.3 1011.1,2830.2 1012.1,2828.0 1013.2,2825.9 1014.3,2823.7 1015.4,2821.6 1016.4,2819.4 1017.5,2817.3 1018.6,2815.1 1019.7,2813.0 1020.8,2810.9 1021.9,2808.7 1023.0,2806.6 1024.1,2804.4 1025.2,2802.3 1026.3,2800.2 1027.4,2798.1 1028.5,2795.9 1029.6,2793.8 1030.8,2791.7 1031.9,2789.6 1033.0,2787.5 1034.2,2785.4 1035.3,2783.3 1036.5,2781.2 1037.6,2779.0 1038.8,2776.9 1039.9,2774.8 1041.1,2772.8 1042.3,2770.7 1043.5,2768.6 1044.6,2766.5 1045.8,2764.4 1047.0,2762.3 1048.2,2760.2 1049.4,2758.1 1050.6,2756.1 1051.8,2754.0 1052.9,2751.9 1054.1,2749.8 1055.3,2747.7 1056.5,2745.7 1057.7,2743.6 1058.9,2741.5 1060.2,2739.5 1061.4,2737.4 1062.6,2735.3 1063.8,2733.2 1065.0,2731.2 1066.2,2729.1 1067.4,2727.0 1068.6,2725.0 1069.8,2722.9 1071.0,2720.8 1072.2,2718.7 1073.4,2716.7 1074.6,2714.6 1075.8,2712.5 1077.0,2710.5 1078.2,2708.4 1079.4,2706.3 1080.6,2704.2 1081.8,2702.2 1083.0,2700.1 1084.1,2698.0 1085.3,2695.9 1086.5,2693.8 1087.7,2691.7 1088.9,2689.7 1090.0,2687.6 1091.2,2685.5 1092.3,2683.4 1093.5,2681.3 1094.7,2679.2 1095.8,2677.1 1096.9,2675.0 1098.1,2672.9 1099.2,2670.8 1100.3,2668.7 1101.5,2666.6 1102.6,2664.5 1103.7,2662.4 1104.8,2660.2 1105.9,2658.1 1107.0,2656.0 1108.1,2653.9 1109.2,2651.7 1110.2,2649.6 1111.3,2647.4 1112.4,2645.3 1113.4,2643.2 1114.5,2641.0 1115.5,2638.9 1116.6,2636.7 1117.6,2634.5 1118.6,2632.4 1119.6,2630.2 1120.6,2628.0 1121.6,2625.9 1122.6,2623.7 1123.6,2621.5 1124.6,2619.3 1125.6,2617.1 1126.5,2614.9 1127.5,2612.8 1128.5,2610.6 1129.4,2608.4 1130.4,2606.2 1131.3,2604.0 1132.2,2601.8 1133.2,2599.5 1134.1,2597.3 1135.0,2595.1 1135.9,2592.9 1136.8,2590.7 1137.7,2588.5 1138.6,2586.2 1139.5,2584.0 1140.4,2581.8 1141.3,2579.5 1142.2,2577.3 1143.1,2575.1 1143.9,2572.8 1144.8,2570.6 1145.7,2568.4 1146.5,2566.1 1147.4,2563.9 1148.2,2561.6 1149.1,2559.4 1149.9,2557.1 1150.8,2554.9 1151.6,2552.6 1152.4,2550.4 1153.2,2548.1 1154.1,2545.8 1154.9,2543.6 1155.7,2541.3 1156.5,2539.0 1157.3,2536.8 1158.1,2534.5 1158.9,2532.2 1159.7,2530.0 1160.5,2527.7 1161.3,2525.4 1162.1,2523.2 1162.9,2520.9 1163.6,2518.6 1164.4,2516.3 1165.2,2514.0 1166.0,2511.8 1166.7,2509.5 1167.5,2507.2 1168.3,2504.9 1169.0,2502.6 1169.8,2500.4 1170.6,2498.1 1171.3,2495.8 1172.1,2493.5 1172.8,2491.2 1173.6,2488.9 1174.3,2486.6 1175.1,2484.4 1175.8,2482.1 1176.6,2479.8 1177.3,2477.5 1178.0,2475.2 1178.8,2472.9 1179.5,2470.6 1180.2,2468.3 1181.0,2466.1 1181.7,2463.8 1182.4,2461.5 1183.2,2459.2 1183.9,2456.9 1184.6,2454.6 1185.4,2452.3 1186.1,2450.0 1186.8,2447.7 1187.5,2445.5 1188.3,2443.2 1189.0,2440.9 1189.7,2438.6 1190.4,2436.3 1191.2,2434.0 1191.9,2431.7 1192.6,2429.5 1193.3,2427.2 1194.1,2424.9 1194.8,2422.6 1195.5,2420.3 1196.2,2418.0 1196.9,2415.8 1197.7,2413.5 1198.4,2411.2 1199.1,2408.9 1199.8,2406.7 1200.6,2404.4 1201.3,2402.1 1202.0,2399.8 1202.8,2397.6 1203.5,2395.3 1204.2,2393.0 1204.9,2390.8 1205.7,2388.5 1206.4,2386.2 1207.1,2384.0 1207.9,2381.7 1208.6,2379.5 1209.4,2377.2 1210.1,2374.9 1210.8,2372.7 1211.6,2370.4 1212.3,2368.2 1213.1,2365.9 1213.8,2363.7 1214.6,2361.4 1215.3,2359.2 1216.1,2357.0 1216.8,2354.7 1217.6,2352.5 1218.4,2350.2 1219.1,2348.0 1219.9,2345.8 1220.7,2343.5 1221.4,2341.3 1222.2,2339.0 1223.0,2336.8 1223.7,2334.5 1224.5,2332.3 1225.3,2330.0 1226.1,2327.8 1226.8,2325.5 1227.6,2323.2 1228.4,2321.0 1229.2,2318.7 1230.0,2316.4 1230.8,2314.1 1231.5,2311.8 1232.3,2309.5 1233.1,2307.2 1233.9,2304.9 1234.7,2302.6 1235.5,2300.3 1236.3,2298.0 1237.1,2295.6 1237.9,2293.3 1238.7,2290.9 1239.5,2288.5 1240.3,2286.2 1241.1,2283.8 1241.9,2281.4 1242.7,2279.0 1243.5,2276.6 1244.3,2274.1 1245.1,2271.7 1245.9,2269.3 1246.8,2266.9 1247.7,2264.6 1248.6,2262.2 1249.6,2259.9 1250.5,2257.6 1251.6,2255.4 1252.7,2253.3 1253.8,2251.2 1255.0,2249.1 1256.3,2247.1 1257.6,2245.2 1259.0,2243.4 1260.5,2241.7 1262.0,2240.1 1263.7,2238.6 1265.4,2237.1 1267.3,2235.8 1269.2,2234.7 1271.2,2233.6 1273.4,2232.7 1275.5,2232.1 1277.7,2231.7 1279.9,2231.6 1282.1,2231.9 1284.2,2232.5 1286.3,2233.4 1288.3,2234.5 1290.2,2235.8 1292.0,2237.3 1293.8,2238.8 1295.4,2240.4 1297.0,2242.1 1298.5,2243.8 1299.9,2245.7 1301.2,2247.6 1302.5,2249.5 1303.7,2251.5 1304.9,2253.6 1306.0,2255.7 1307.0,2257.8 1308.0,2260.0 1309.0,2262.3 1309.9,2264.5 1310.7,2266.8 1311.6,2269.1 1312.4,2271.5 1313.2,2273.8 1313.9,2276.2 1314.7,2278.5 1315.4,2280.9 1316.1,2283.3 1316.8,2285.6 1317.5,2288.0 1318.2,2290.3 1318.8,2292.7 1319.5,2295.1 1320.1,2297.4 1320.8,2299.8 1321.4,2302.2 1322.0,2304.5 1322.6,2306.9 1323.2,2309.3 1323.8,2311.6 1324.3,2314.0 1324.9,2316.4 1325.4,2318.7 1326.0,2321.1 1326.5,2323.5 1327.0,2325.8 1327.5,2328.2 1328.0,2330.6 1328.5,2332.9 1329.0,2335.3 1329.4,2337.7 1329.9,2340.0 1330.3,2342.4 1330.8,2344.8 1331.2,2347.1 1331.7,2349.5 1332.1,2351.9 1332.5,2354.2 1332.9,2356.6 1333.3,2359.0 1333.7,2361.4 1334.1,2363.7 1334.5,2366.1 1334.8,2368.5 1335.2,2370.8 1335.6,2373.2 1335.9,2375.6 1336.3,2377.9 1336.6,2380.3 1337.0,2382.7 1337.3,2385.1 1337.6,2387.4 1338.0,2389.8 1338.3,2392.2 1338.6,2394.5 1338.9,2396.9 1339.2,2399.3 1339.6,2401.7 1339.9,2404.0 1340.2,2406.4 1340.5,2408.8 1340.7,2411.2 1341.0,2413.5 1341.3,2415.9 1341.6,2418.3 1341.9,2420.7 1342.2,2423.0 1342.5,2425.4 1342.7,2427.8 1343.0,2430.1 1343.3,2432.5 1343.6,2434.9 1343.9,2437.3 1344.1,2439.6 1344.4,2442.0 1344.7,2444.4 1344.9,2446.8 1345.2,2449.1 1345.5,2451.5 1345.8,2453.9 1346.0,2456.3 1346.3,2458.6 1346.6,2461.0 1346.9,2463.4 1347.1,2465.8 1347.4,2468.1 1347.7,2470.5 1348.0,2472.9 1348.2,2475.3 1348.5,2477.6 1348.8,2480.0 1349.1,2482.4 1349.4,2484.8 1349.6,2487.1 1349.9,2489.5 1350.2,2491.9 1350.5,2494.3 1350.8,2496.7 1351.0,2499.0 1351.3,2501.4 1351.6,2503.8 1351.9,2506.2 1352.2,2508.5 1352.4,2510.9 1352.7,2513.3 1353.0,2515.7 1353.3,2518.0 1353.6,2520.4 1353.9,2522.8 1354.1,2525.2 1354.4,2527.6 1354.7,2529.9 1355.0,2532.3 1355.3,2534.7 1355.6,2537.1 1355.9,2539.4 1356.1,2541.8 1356.4,2544.2 1356.7,2546.6 1357.0,2548.9 1357.3,2551.3 1357.6,2553.7 1357.9,2556.1 1358.2,2558.5 1358.4,2560.8 1358.7,2563.2 1359.0,2565.6 1359.3,2568.0 1359.6,2570.4 1359.9,2572.7 1360.2,2575.1 1360.5,2577.5 1360.8,2579.9 1361.1,2582.2 1361.4,2584.6 1361.6,2587.0 1361.9,2589.4 1362.2,2591.8 1362.5,2594.1 1362.8,2596.5 1363.1,2598.9 1363.4,2601.3 1363.7,2603.7 1364.0,2606.0 1364.3,2608.4 1364.6,2610.8 1364.9,2613.2 1365.2,2615.6 1365.5,2617.9 1365.8,2620.3 1366.1,2622.7 1366.4,2625.1 1366.7,2627.5 1367.0,2629.8 1367.3,2632.2 1367.6,2634.6 1367.8,2637.0 1368.1,2639.4 1368.4,2641.7 1368.7,2644.1 1369.0,2646.5 1369.3,2648.9 1369.6,2651.3 1369.9,2653.6 1370.2,2656.0 1370.5,2658.4 1370.8,2660.8 1371.1,2663.2 1371.4,2665.5 1371.7,2667.9 1372.0,2670.3 1372.4,2672.7 1372.7,2675.1 1373.0,2677.4 1373.3,2679.8 1373.6,2682.2 1373.9,2684.6 1374.2,2687.0 1374.5,2689.4 1374.8,2691.7 1375.1,2694.1 1375.4,2696.5 1375.7,2698.9 1376.0,2701.3 1376.3,2703.6 1376.6,2706.0 1376.9,2708.4 1377.2,2710.8 1377.5,2713.2 1377.8,2715.5 1378.1,2717.9 1378.4,2720.3 1378.7,2722.7 1379.1,2725.1 1379.4,2727.5 1379.7,2729.8 1380.0,2732.2 1380.3,2734.6 1380.6,2737.0 1380.9,2739.4 1381.2,2741.8 1381.5,2744.1 1381.8,2746.5 1382.1,2748.9 1382.4,2751.3 1382.7,2753.7 1383.1,2756.0 1383.4,2758.4 1383.7,2760.8 1384.0,2763.2 1384.3,2765.6 1384.6,2768.0 1384.9,2770.3 1385.2,2772.7 1385.5,2775.1 1385.8,2777.5 1386.2,2779.9 1386.5,2782.3 1386.8,2784.6 1387.1,2787.0 1387.4,2789.4 1387.7,2791.8 1388.0,2794.2 1388.3,2796.5 1388.7,2798.9 1389.0,2801.3 1389.3,2803.7 1389.6,2806.1 1389.9,2808.5 1390.2,2810.8 1390.5,2813.2 1390.8,2815.6 1391.2,2818.0 1391.5,2820.4 1391.8,2822.8 1392.1,2825.1 1392.4,2827.5 1392.7,2829.9 1393.0,2832.3 1393.4,2834.7 1393.7,2837.1 1394.0,2839.4 1394.3,2841.8 1394.6,2844.2 1394.9,2846.6 1395.3,2849.0 1395.6,2851.4 1395.9,2853.7 1396.2,2856.1 1396.5,2858.5 1396.8,2860.9 1397.2,2863.3 1397.5,2865.7 1397.8,2868.0 1398.1,2870.4 1398.4,2872.8 1398.7,2875.2 1399.1,2877.6 1399.4,2880.0 1399.7,2882.4 1400.0,2884.7 1400.3,2887.1 1400.6,2889.5 1401.0,2891.9 1401.3,2894.3 1401.6,2896.7 1401.9,2899.0 1402.2,2901.4 1402.6,2903.8 1402.9,2906.2 1403.2,2908.6 1403.5,2911.0 1403.8,2913.3 1404.1,2915.7 1404.5,2918.1 1404.8,2920.5 1405.1,2922.9 1405.4,2925.3 1405.7,2927.6 1406.1,2930.0 1406.4,2932.4 1406.7,2934.8 1407.0,2937.2 1407.3,2939.6 1407.7,2941.9 1408.0,2944.3 1408.3,2946.7 1408.6,2949.1 1408.9,2951.5 1409.3,2953.9 1409.6,2956.3 1409.9,2958.6 1410.2,2961.0 1410.5,2963.4 1410.9,2965.8 1411.2,2968.2 1411.5,2970.6 1411.9,2972.9 1412.2,2975.3 1412.5,2977.7 1412.8,2980.1 1413.2,2982.5 1413.5,2984.8 1413.8,2987.2 1414.2,2989.6 1414.5,2992.0 1414.8,2994.4 1415.2,2996.7 1415.5,2999.1 1415.9,3001.5 1416.2,3003.9 1416.5,3006.3 1416.9,3008.6 1417.2,3011.0 1417.6,3013.4 1417.9,3015.8 1418.3,3018.1 1418.6,3020.5 1419.0,3022.9 1419.4,3025.3 1419.7,3027.6 1420.1,3030.0 1420.4,3032.4 1420.8,3034.8 1421.2,3037.1 1421.6,3039.5 1421.9,3041.9 1422.3,3044.2 1422.7,3046.6 1423.1,3049.0 1423.5,3051.4 1423.8,3053.7 1424.2,3056.1 1424.6,3058.4 1425.0,3060.8 1425.4,3063.2 1425.8,3065.5 1426.2,3067.9 1426.6,3070.3 1427.1,3072.6 1427.5,3075.0 1427.9,3077.3 1428.3,3079.7 1428.7,3082.1 1429.2,3084.4 1429.6,3086.8 1430.0,3089.1 1430.5,3091.5 1430.9,3093.8 1431.4,3096.2 1431.8,3098.5 1432.3,3100.9 1432.7,3103.2 1433.2,3105.6 1433.7,3107.9 1434.1,3110.3 1434.6,3112.6 1435.1,3115.0 1435.6,3117.3 1436.1,3119.6 1436.5,3122.0 1437.0,3124.3 1437.5,3126.7 1438.0,3129.0 1438.6,3131.3 1439.1,3133.7 1439.6,3136.0 1440.1,3138.3 1440.6,3140.7 1441.2,3143.0 1441.7,3145.3 1442.3,3147.6 1442.8,3150.0 1443.4,3152.3 1443.9,3154.6 1444.5,3156.9 1445.1,3159.2 1445.6,3161.6 1446.2,3163.9 1446.8,3166.2 1447.4,3168.5 1448.0,3170.8 1448.6,3173.1 1449.2,3175.4 1449.8,3177.7 1450.4,3180.1 1451.1,3182.4 1451.7,3184.7 1452.3,3187.0 1453.0,3189.3 1453.6,3191.6 1454.3,3193.9 1454.9,3196.2 1455.6,3198.4 1456.3,3200.7 1456.9,3203.0 1457.6,3205.3 1458.3,3207.6 1459.0,3209.9 1459.7,3212.2 1460.4,3214.4 1461.2,3216.7 1461.9,3219.0 1462.6,3221.3 1463.4,3223.6 1464.1,3225.8 1464.9,3228.1 1465.6,3230.4 1466.4,3232.6 1467.2,3234.9 1467.9,3237.2 1468.7,3239.4 1469.5,3241.7 1470.3,3243.9 1471.1,3246.2 1472.0,3248.4 1472.8,3250.7 1473.6,3252.9 1474.5,3255.2 1475.3,3257.4 1476.2,3259.7 1477.0,3261.9 1477.9,3264.2 1478.8,3266.4 1479.7,3268.6 1480.6,3270.9 1481.5,3273.1 1482.4,3275.3 1483.3,3277.5 1484.3,3279.8 1485.2,3282.0 1486.2,3284.2 1487.1,3286.4 1488.1,3288.6 1489.1,3290.8 1490.1,3293.0 1491.1,3295.2 1492.2,3297.3 1493.2,3299.5 1494.3,3301.7 1495.4,3303.9 1496.4,3306.0 1497.5,3308.2 1498.7,3310.3 1499.8,3312.5 1500.9,3314.6 1502.1,3316.7 1503.3,3318.9 1504.5,3321.0 1505.7,3323.1 1506.9,3325.2 1508.2,3327.3 1509.4,3329.4 1510.7,3331.5 1512.0,3333.5 1513.3,3335.6 1514.6,3337.7 1516.0,3339.7 1517.4,3341.8 1518.8,3343.8 1520.2,3345.8 1521.6,3347.8 1523.1,3349.8 1524.5,3351.8 1526.0,3353.7 1527.5,3355.7 1529.1,3357.6 1530.6,3359.5 1532.2,3361.4 1533.8,3363.2 1535.4,3365.0 1537.0,3366.8 1538.7,3368.6 1540.4,3370.3 1542.1,3372.0 1543.8,3373.7 1545.5,3375.3 1547.3,3376.9 1549.1,3378.5 1550.9,3380.0 1552.7,3381.5 1554.6,3383.0 1556.5,3384.4 1558.4,3385.7 1560.3,3387.0 1562.2,3388.3 1564.2,3389.5 1566.2,3390.7 1568.2,3391.9 1570.2,3393.0 1572.3,3394.0 1574.3,3395.1 1576.4,3396.1 1578.5,3397.0 1580.6,3397.9 1582.8,3398.8 1584.9,3399.7 1587.1,3400.5 1589.3,3401.3 1591.5,3402.0 1593.7,3402.7 1595.9,3403.4 1598.2,3404.1 1600.5,3404.7 1602.7,3405.3 1605.0,3405.9 1607.3,3406.4 1609.6,3406.9 1612.0,3407.4 1614.3,3407.9 1616.7,3408.3 1619.0,3408.7 1621.4,3409.1 1623.8,3409.5 1626.1,3409.9 1628.5,3410.2 1630.9,3410.5 1633.4,3410.8 1635.8,3411.1 1638.2,3411.4 1640.6,3411.6 1643.1,3411.9 1645.5,3412.1 1648.0,3412.3 1650.4,3412.5 1652.9,3412.7 1655.3,3412.8 1657.8,3413.0 1660.3,3413.2 1662.7,3413.3 1665.2,3413.4 1667.7,3413.6 1670.1,3413.7 1672.6,3413.8 1675.1,3413.9 1677.6,3414.0 1680.0,3414.1 1682.5,3414.2 1685.0,3414.3 1687.4,3414.4 1689.9,3414.5 1692.4,3414.6 1694.8,3414.7 1697.3,3414.8 1699.7,3414.9 1702.2,3415.0 1704.6,3415.1 1707.1,3415.2 1709.5,3415.3 1711.9,3415.4 1714.4,3415.5 1716.8,3415.6 1719.2,3415.7 1721.7,3415.8 1724.1,3415.9 1726.5,3416.0 1728.9,3416.1 1731.3,3416.2 1733.7,3416.3 1736.1,3416.4 1738.5,3416.5 1740.9,3416.6 1743.3,3416.7 1745.7,3416.9 1748.1,3417.0 1750.5,3417.1 1752.9,3417.2 1755.3,3417.3 1757.7,3417.4 1760.1,3417.5 1762.5,3417.6 1764.9,3417.7 1767.3,3417.8 1769.6,3417.9 1772.0,3418.0 1774.4,3418.1 1776.8,3418.2 1779.2,3418.3 1781.5,3418.4 1783.9,3418.5 1786.3,3418.6 1788.7,3418.7 1791.0,3418.8 1793.4,3418.8 1795.8,3418.9 1798.1,3419.0 1800.5,3419.1 1802.9,3419.2 1805.3,3419.3 1807.6,3419.3 1810.0,3419.4 1812.4,3419.5 1814.7,3419.6 1817.1,3419.6 1819.5,3419.7 1821.9,3419.8 1824.2,3419.8 1826.6,3419.9 1829.0,3420.0 1831.3,3420.0 1833.7,3420.1 1836.1,3420.1 1838.5,3420.2 1840.8,3420.2 1843.2,3420.3 1845.6,3420.3 1848.0,3420.3 1850.3,3420.4 1852.7,3420.4 1855.1,3420.4 1857.5,3420.4 1859.9,3420.5 1862.3,3420.5 1864.6,3420.5 1867.0,3420.5 1869.4,3420.5 1871.8,3420.5 1874.2,3420.5 1876.6,3420.5 1879.0,3420.5 1881.4,3420.5 1883.8,3420.5 1886.2,3420.4 1888.6,3420.4 1891.0,3420.4 1893.4,3420.4 1895.8,3420.3 1898.2,3420.3 1900.7,3420.3 1903.1,3420.2 1905.5,3420.2 1907.9,3420.2 1910.3,3420.1 1912.7,3420.1 1915.1,3420.1 1917.6,3420.0 1920.0,3420.0 1922.4,3420.0 1924.8,3419.9 1927.2,3419.9 1929.7,3419.9 1932.1,3419.9 1934.5,3419.9 1936.9,3419.9 1939.3,3419.8 1941.8,3419.8 1944.2,3419.8 1946.6,3419.9 1949.0,3419.9 1951.4,3419.9 1953.9,3419.9 1956.3,3419.9 1958.7,3420.0 1961.1,3420.0 1963.5,3420.1 1965.9,3420.1 1968.3,3420.2 1970.7,3420.3 1973.2,3420.3 1975.6,3420.4 1978.0,3420.5 1980.4,3420.6 1982.8,3420.8 1985.2,3420.9 1987.6,3421.0 1990.0,3421.2 1992.4,3421.3 1994.8,3421.5 1997.1,3421.7 1999.5,3421.9 2001.9,3422.1 2004.3,3422.3 2006.7,3422.6 2009.1,3422.8 2011.4,3423.1 2013.8,3423.4 2016.2,3423.6 2018.6,3423.9 2020.9,3424.3 2023.3,3424.6 2025.6,3425.0 2028.0,3425.3 2030.3,3425.7 2032.7,3426.1 2035.0,3426.5 2037.4,3427.0 2039.7,3427.4 2042.0,3427.9 2044.4,3428.4 2046.7,3428.9 2049.0,3429.4 2051.3,3429.9 2053.7,3430.5 2056.0,3431.0 2058.3,3431.6 2060.6,3432.2 2062.9,3432.8 2065.2,3433.4 2067.5,3434.1 2069.8,3434.7 2072.1,3435.4 2074.4,3436.0 2076.7,3436.7 2078.9,3437.4 2081.2,3438.1 2083.5,3438.8 2085.8,3439.5 2088.1,3440.3 2090.3,3441.0 2092.6,3441.7 2094.9,3442.5 2097.2,3443.3 2099.4,3444.0 2101.7,3444.8 2104.0,3445.6 2106.3,3446.3 2108.5,3447.1 2110.8,3447.9 2113.1,3448.7 2115.3,3449.5 2117.6,3450.3 2119.9,3451.1 2122.1,3451.9 2124.4,3452.7 2126.7,3453.5 2128.9,3454.3 2131.2,3455.1 2133.5,3455.9 2135.7,3456.6 2138.0,3457.4 2140.3,3458.2 2142.6,3459.0 2144.8,3459.8 2147.1,3460.6 2149.4,3461.4 2151.7,3462.1 2153.9,3462.9 2156.2,3463.7 2158.5,3464.4 2160.8,3465.2 2163.1,3465.9 2165.4,3466.6 2167.6,3467.4 2169.9,3468.1 2172.2,3468.8 2174.5,3469.5 2176.8,3470.2 2179.1,3470.9 2181.4,3471.5 2183.7,3472.2 2186.0,3472.8 2188.4,3473.5 2190.7,3474.1 2193.0,3474.7 2195.3,3475.3 2197.6,3475.9 2200.0,3476.4 2202.3,3477.0 2204.6,3477.5 2207.0,3478.0 2209.3,3478.5 2211.7,3479.0 2214.0,3479.5 2216.4,3479.9 2218.7,3480.4 2221.1,3480.8 2223.5,3481.2 2225.9,3481.5 2228.2,3481.9 2230.6,3482.2 2233.0,3482.5 2235.4,3482.8 2237.8,3483.1 2240.2,3483.3 2242.6,3483.6 2245.0,3483.8 2247.5,3483.9 2249.9,3484.1 2252.3,3484.2 2254.8,3484.3 2257.2,3484.4 2259.7,3484.4 2262.1,3484.5" stroke="#000000" stroke-width="10"/>
</g>
<g stroke="#000" stroke-width="14" fill="none" stroke-linecap="round" stroke-linejoin="round">
<polyline points="299.0,3522 299.0,2008.5"/>
<polyline points="283.5,2008.5 2263,2008.5 2263,3522"/>
<line x1="268" y1="3489.0" x2="2263" y2="3489.0"/>
</g>
<g stroke="#000" stroke-width="11" fill="none" stroke-linecap="round">
<line x1="626.2" y1="3489.0" x2="626.2" y2="3521"/>
<line x1="953.3" y1="3489.0" x2="953.3" y2="3521"/>
<line x1="1280.5" y1="3489.0" x2="1280.5" y2="3521"/>
<line x1="1607.7" y1="3489.0" x2="1607.7" y2="3521"/>
<line x1="1934.8" y1="3489.0" x2="1934.8" y2="3521"/>
<line x1="462.6" y1="3489.0" x2="462.6" y2="3503"/>
<line x1="789.8" y1="3489.0" x2="789.8" y2="3503"/>
<line x1="1116.9" y1="3489.0" x2="1116.9" y2="3503"/>
<line x1="1444.1" y1="3489.0" x2="1444.1" y2="3503"/>
<line x1="1771.2" y1="3489.0" x2="1771.2" y2="3503"/>
<line x1="2098.4" y1="3489.0" x2="2098.4" y2="3503"/>
<line x1="268" y1="3261.2" x2="299.0" y2="3261.2"/>
<line x1="268" y1="3033.5" x2="299.0" y2="3033.5"/>
<line x1="268" y1="2805.8" x2="299.0" y2="2805.8"/>
<line x1="268" y1="2578.0" x2="299.0" y2="2578.0"/>
<line x1="268" y1="2350.2" x2="299.0" y2="2350.2"/>
<line x1="268" y1="2122.5" x2="299.0" y2="2122.5"/>
<line x1="283" y1="3375.1" x2="299.0" y2="3375.1"/>
<line x1="283" y1="3147.4" x2="299.0" y2="3147.4"/>
<line x1="283" y1="2919.6" x2="299.0" y2="2919.6"/>
<line x1="283" y1="2691.9" x2="299.0" y2="2691.9"/>
<line x1="283" y1="2464.1" x2="299.0" y2="2464.1"/>
<line x1="283" y1="2236.4" x2="299.0" y2="2236.4"/>
</g>
<text x="238.4" y="3601.0" font-size="80" font-weight="bold" textLength="123.3" lengthAdjust="spacingAndGlyphs" fill="#000">400</text>
<text x="565.6" y="3601.0" font-size="80" font-weight="bold" textLength="123.3" lengthAdjust="spacingAndGlyphs" fill="#000">450</text>
<text x="891.6" y="3601.0" font-size="80" font-weight="bold" textLength="124.5" lengthAdjust="spacingAndGlyphs" fill="#000">500</text>
<text x="1218.8" y="3601.0" font-size="80" font-weight="bold" textLength="124.5" lengthAdjust="spacingAndGlyphs" fill="#000">550</text>
<text x="1545.5" y="3601.0" font-size="80" font-weight="bold" textLength="124.9" lengthAdjust="spacingAndGlyphs" fill="#000">600</text>
<text x="1872.7" y="3601.0" font-size="80" font-weight="bold" textLength="124.9" lengthAdjust="spacingAndGlyphs" fill="#000">650</text>
<text x="2199.5" y="3601.0" font-size="80" font-weight="bold" textLength="125.3" lengthAdjust="spacingAndGlyphs" fill="#000">700</text>
<text x="156.0" y="3502.5" font-size="80" font-weight="bold" textLength="104.6" lengthAdjust="spacingAndGlyphs" fill="#000">0.0</text>
<text x="152.1" y="3284.0" font-size="80" font-weight="bold" textLength="95.3" lengthAdjust="spacingAndGlyphs" fill="#000">0.1</text>
<text x="147.6" y="3060.0" font-size="80" font-weight="bold" textLength="105.7" lengthAdjust="spacingAndGlyphs" fill="#000">0.2</text>
<text x="143.5" y="2838.0" font-size="80" font-weight="bold" textLength="105.7" lengthAdjust="spacingAndGlyphs" fill="#000">0.3</text>
<text x="151.4" y="2611.0" font-size="80" font-weight="bold" textLength="104.7" lengthAdjust="spacingAndGlyphs" fill="#000">0.4</text>
<text x="156.0" y="2383.0" font-size="80" font-weight="bold" textLength="105.5" lengthAdjust="spacingAndGlyphs" fill="#000">0.5</text>
<text x="147.6" y="2147.0" font-size="80" font-weight="bold" textLength="105.7" lengthAdjust="spacingAndGlyphs" fill="#000">0.6</text>
<text x="992.0" y="3713.0" font-size="78" font-weight="bold" textLength="582.5" lengthAdjust="spacingAndGlyphs" fill="#000">Wavelength(nm)</text>
<text transform="translate(102.0,3109.0) rotate(-90)" x="0" y="0" font-size="78" font-weight="bold" textLength="679.7" lengthAdjust="spacingAndGlyphs" fill="#000">Absorbance (a.u.)</text>
<text x="371.2" y="2118.5" font-size="79" font-weight="bold" textLength="97.4" lengthAdjust="spacingAndGlyphs" fill="#000">(b)</text>
<text x="489.8" y="2118.5" font-size="79" font-weight="bold" textLength="128.0" lengthAdjust="spacingAndGlyphs" fill="#000">IPA</text>
<line x1="1706" y1="2137.5" x2="1866" y2="2137.5" stroke="#000000" stroke-width="10" stroke-linecap="round"/>
<text x="1908.0" y="2164.0" font-size="79" font-weight="bold" textLength="198.5" lengthAdjust="spacingAndGlyphs" fill="#000">0 min</text>
<line x1="1706" y1="2237" x2="1866" y2="2237" stroke="#ff0000" stroke-width="10" stroke-linecap="round"/>
<text x="1887.6" y="2262.0" font-size="79" font-weight="bold" textLength="240.2" lengthAdjust="spacingAndGlyphs" fill="#000">30 min</text>
<line x1="1706" y1="2335.2" x2="1866" y2="2335.2" stroke="#000090" stroke-width="10" stroke-linecap="round"/>
<text x="1887.3" y="2361.0" font-size="79" font-weight="bold" textLength="240.0" lengthAdjust="spacingAndGlyphs" fill="#000">60 min</text>
<line x1="1706" y1="2433.8" x2="1866" y2="2433.8" stroke="#7a0000" stroke-width="10" stroke-linecap="round"/>
<text x="1887.3" y="2460.5" font-size="79" font-weight="bold" textLength="240.0" lengthAdjust="spacingAndGlyphs" fill="#000">90 min</text>
</svg>
</body></html>
